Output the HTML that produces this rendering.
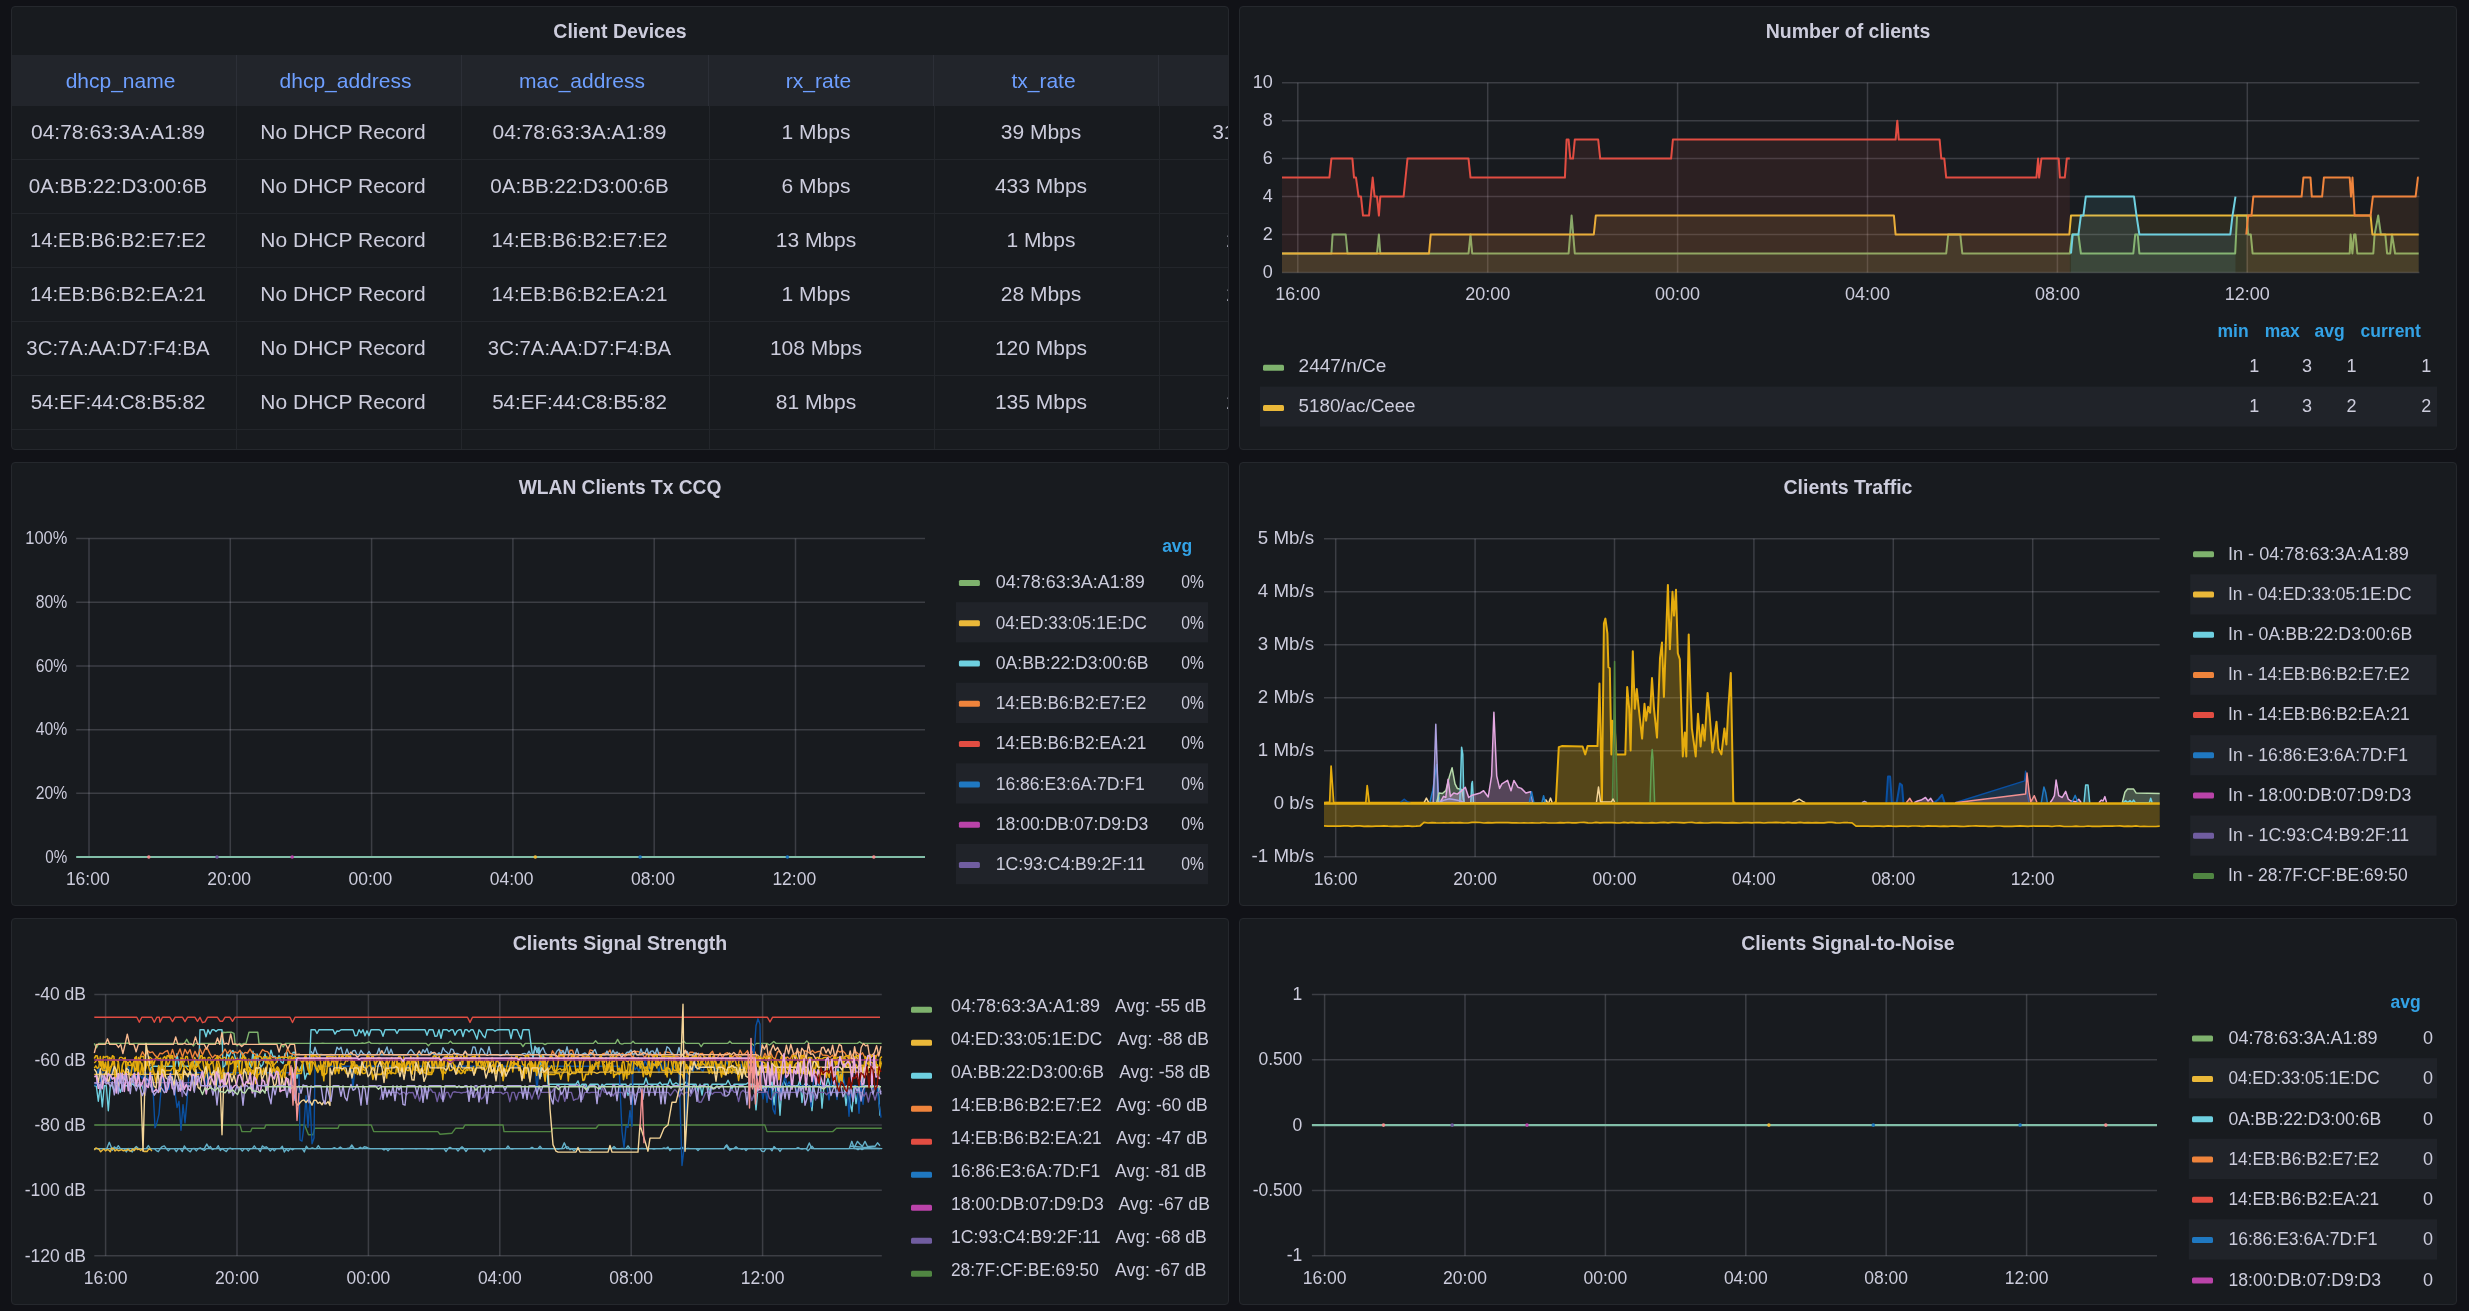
<!DOCTYPE html>
<html><head><meta charset="utf-8"><title>Grafana - Clients</title>
<style>
html,body{margin:0;padding:0;background:#111217;width:2469px;height:1311px;overflow:hidden}
body{position:relative;font-family:"Liberation Sans",sans-serif;color:#ccccdc}
.p{position:absolute;background:#181b1f;border:1px solid #25282d;border-radius:4px}
svg{position:absolute;left:0;top:0;will-change:transform}
svg text{font-family:"Liberation Sans",sans-serif}
</style></head><body>
<div class="p" style="left:11px;top:6px;width:1216px;height:442px"></div><div class="p" style="left:1239px;top:6px;width:1216px;height:442px"></div><div class="p" style="left:11px;top:462px;width:1216px;height:442px"></div><div class="p" style="left:1239px;top:462px;width:1216px;height:442px"></div><div class="p" style="left:11px;top:918px;width:1216px;height:385px"></div><div class="p" style="left:1239px;top:918px;width:1216px;height:385px"></div>
<svg width="2469" height="1311" viewBox="0 0 2469 1311">
<text x="620.0" y="38.2" font-size="19.5" fill="#ccccdc" text-anchor="middle" font-weight="bold">Client Devices</text>
<rect x="12.0" y="55.0" width="1216.0" height="51.0" fill="#22252b"/>
<rect x="236.0" y="55.0" width="1.0" height="51.0" fill="#2c2f37"/>
<rect x="461.0" y="55.0" width="1.0" height="51.0" fill="#2c2f37"/>
<rect x="708.0" y="55.0" width="1.0" height="51.0" fill="#2c2f37"/>
<rect x="933.0" y="55.0" width="1.0" height="51.0" fill="#2c2f37"/>
<rect x="1158.0" y="55.0" width="1.0" height="51.0" fill="#2c2f37"/>
<rect x="236.0" y="106.0" width="1.0" height="343.0" fill="#23262b"/>
<rect x="461.0" y="106.0" width="1.0" height="343.0" fill="#23262b"/>
<rect x="709.0" y="106.0" width="1.0" height="343.0" fill="#23262b"/>
<rect x="934.0" y="106.0" width="1.0" height="343.0" fill="#23262b"/>
<rect x="1159.0" y="106.0" width="1.0" height="343.0" fill="#23262b"/>
<rect x="12.0" y="159.0" width="1216.0" height="1.0" fill="#23262b"/>
<rect x="12.0" y="213.0" width="1216.0" height="1.0" fill="#23262b"/>
<rect x="12.0" y="267.0" width="1216.0" height="1.0" fill="#23262b"/>
<rect x="12.0" y="321.0" width="1216.0" height="1.0" fill="#23262b"/>
<rect x="12.0" y="375.0" width="1216.0" height="1.0" fill="#23262b"/>
<rect x="12.0" y="429.0" width="1216.0" height="1.0" fill="#23262b"/>
<text x="120.5" y="87.8" font-size="21" fill="#6e9fff" text-anchor="middle">dhcp_name</text>
<text x="345.5" y="87.8" font-size="21" fill="#6e9fff" text-anchor="middle">dhcp_address</text>
<text x="582.0" y="87.8" font-size="21" fill="#6e9fff" text-anchor="middle">mac_address</text>
<text x="818.5" y="87.8" font-size="21" fill="#6e9fff" text-anchor="middle">rx_rate</text>
<text x="1043.5" y="87.8" font-size="21" fill="#6e9fff" text-anchor="middle">tx_rate</text>
<text x="118.0" y="138.8" font-size="21" fill="#ccccdc" text-anchor="middle">04:78:63:3A:A1:89</text>
<text x="343.0" y="138.8" font-size="21" fill="#ccccdc" text-anchor="middle">No DHCP Record</text>
<text x="579.5" y="138.8" font-size="21" fill="#ccccdc" text-anchor="middle">04:78:63:3A:A1:89</text>
<text x="816.0" y="138.8" font-size="21" fill="#ccccdc" text-anchor="middle">1 Mbps</text>
<text x="1041.0" y="138.8" font-size="21" fill="#ccccdc" text-anchor="middle">39 Mbps</text>
<text transform="translate(118.0,192.8) scale(0.980,1)" font-size="21" fill="#ccccdc" text-anchor="middle">0A:BB:22:D3:00:6B</text>
<text x="343.0" y="192.8" font-size="21" fill="#ccccdc" text-anchor="middle">No DHCP Record</text>
<text transform="translate(579.5,192.8) scale(0.980,1)" font-size="21" fill="#ccccdc" text-anchor="middle">0A:BB:22:D3:00:6B</text>
<text x="816.0" y="192.8" font-size="21" fill="#ccccdc" text-anchor="middle">6 Mbps</text>
<text x="1041.0" y="192.8" font-size="21" fill="#ccccdc" text-anchor="middle">433 Mbps</text>
<text transform="translate(118.0,246.8) scale(0.960,1)" font-size="21" fill="#ccccdc" text-anchor="middle">14:EB:B6:B2:E7:E2</text>
<text x="343.0" y="246.8" font-size="21" fill="#ccccdc" text-anchor="middle">No DHCP Record</text>
<text transform="translate(579.5,246.8) scale(0.960,1)" font-size="21" fill="#ccccdc" text-anchor="middle">14:EB:B6:B2:E7:E2</text>
<text x="816.0" y="246.8" font-size="21" fill="#ccccdc" text-anchor="middle">13 Mbps</text>
<text x="1041.0" y="246.8" font-size="21" fill="#ccccdc" text-anchor="middle">1 Mbps</text>
<text transform="translate(118.0,300.8) scale(0.960,1)" font-size="21" fill="#ccccdc" text-anchor="middle">14:EB:B6:B2:EA:21</text>
<text x="343.0" y="300.8" font-size="21" fill="#ccccdc" text-anchor="middle">No DHCP Record</text>
<text transform="translate(579.5,300.8) scale(0.960,1)" font-size="21" fill="#ccccdc" text-anchor="middle">14:EB:B6:B2:EA:21</text>
<text x="816.0" y="300.8" font-size="21" fill="#ccccdc" text-anchor="middle">1 Mbps</text>
<text x="1041.0" y="300.8" font-size="21" fill="#ccccdc" text-anchor="middle">28 Mbps</text>
<text transform="translate(118.0,354.8) scale(0.970,1)" font-size="21" fill="#ccccdc" text-anchor="middle">3C:7A:AA:D7:F4:BA</text>
<text x="343.0" y="354.8" font-size="21" fill="#ccccdc" text-anchor="middle">No DHCP Record</text>
<text transform="translate(579.5,354.8) scale(0.970,1)" font-size="21" fill="#ccccdc" text-anchor="middle">3C:7A:AA:D7:F4:BA</text>
<text x="816.0" y="354.8" font-size="21" fill="#ccccdc" text-anchor="middle">108 Mbps</text>
<text x="1041.0" y="354.8" font-size="21" fill="#ccccdc" text-anchor="middle">120 Mbps</text>
<text transform="translate(118.0,408.8) scale(0.978,1)" font-size="21" fill="#ccccdc" text-anchor="middle">54:EF:44:C8:B5:82</text>
<text x="343.0" y="408.8" font-size="21" fill="#ccccdc" text-anchor="middle">No DHCP Record</text>
<text transform="translate(579.5,408.8) scale(0.978,1)" font-size="21" fill="#ccccdc" text-anchor="middle">54:EF:44:C8:B5:82</text>
<text x="816.0" y="408.8" font-size="21" fill="#ccccdc" text-anchor="middle">81 Mbps</text>
<text x="1041.0" y="408.8" font-size="21" fill="#ccccdc" text-anchor="middle">135 Mbps</text>
<clipPath id="c6"><rect x="1160" y="106" width="68" height="343"/></clipPath><g clip-path="url(#c6)">
<text x="1212.2" y="138.8" font-size="21" fill="#ccccdc">311 Mbps</text>
<text x="1226.3" y="246.8" font-size="21" fill="#ccccdc">2 Mbps</text>
<text x="1226.3" y="300.8" font-size="21" fill="#ccccdc">2 Mbps</text>
<text x="1226.3" y="408.8" font-size="21" fill="#ccccdc">2 Mbps</text>
</g>
<text x="1848.0" y="38.2" font-size="19.5" fill="#ccccdc" text-anchor="middle" font-weight="bold">Number of clients</text>
<line x1="1282.00" y1="272.50" x2="2419.40" y2="272.50" stroke="rgba(204,204,220,0.2)" stroke-width="1.5"/>
<text x="1272.7" y="278.0" font-size="18" fill="#ccccdc" text-anchor="end">0</text>
<line x1="1282.00" y1="234.54" x2="2419.40" y2="234.54" stroke="rgba(204,204,220,0.2)" stroke-width="1.5"/>
<text x="1272.7" y="240.0" font-size="18" fill="#ccccdc" text-anchor="end">2</text>
<line x1="1282.00" y1="196.58" x2="2419.40" y2="196.58" stroke="rgba(204,204,220,0.2)" stroke-width="1.5"/>
<text x="1272.7" y="202.1" font-size="18" fill="#ccccdc" text-anchor="end">4</text>
<line x1="1282.00" y1="158.62" x2="2419.40" y2="158.62" stroke="rgba(204,204,220,0.2)" stroke-width="1.5"/>
<text x="1272.7" y="164.1" font-size="18" fill="#ccccdc" text-anchor="end">6</text>
<line x1="1282.00" y1="120.66" x2="2419.40" y2="120.66" stroke="rgba(204,204,220,0.2)" stroke-width="1.5"/>
<text x="1272.7" y="126.2" font-size="18" fill="#ccccdc" text-anchor="end">8</text>
<line x1="1282.00" y1="82.70" x2="2419.40" y2="82.70" stroke="rgba(204,204,220,0.2)" stroke-width="1.5"/>
<text x="1272.7" y="88.2" font-size="18" fill="#ccccdc" text-anchor="end">10</text>
<line x1="1297.80" y1="82.70" x2="1297.80" y2="272.50" stroke="rgba(204,204,220,0.2)" stroke-width="1.5"/>
<text x="1297.8" y="299.7" font-size="18" fill="#ccccdc" text-anchor="middle">16:00</text>
<line x1="1487.70" y1="82.70" x2="1487.70" y2="272.50" stroke="rgba(204,204,220,0.2)" stroke-width="1.5"/>
<text x="1487.7" y="299.7" font-size="18" fill="#ccccdc" text-anchor="middle">20:00</text>
<line x1="1677.60" y1="82.70" x2="1677.60" y2="272.50" stroke="rgba(204,204,220,0.2)" stroke-width="1.5"/>
<text x="1677.6" y="299.7" font-size="18" fill="#ccccdc" text-anchor="middle">00:00</text>
<line x1="1867.50" y1="82.70" x2="1867.50" y2="272.50" stroke="rgba(204,204,220,0.2)" stroke-width="1.5"/>
<text x="1867.5" y="299.7" font-size="18" fill="#ccccdc" text-anchor="middle">04:00</text>
<line x1="2057.40" y1="82.70" x2="2057.40" y2="272.50" stroke="rgba(204,204,220,0.2)" stroke-width="1.5"/>
<text x="2057.4" y="299.7" font-size="18" fill="#ccccdc" text-anchor="middle">08:00</text>
<line x1="2247.30" y1="82.70" x2="2247.30" y2="272.50" stroke="rgba(204,204,220,0.2)" stroke-width="1.5"/>
<text x="2247.3" y="299.7" font-size="18" fill="#ccccdc" text-anchor="middle">12:00</text>
<polygon points="1282.0,272.5 1282.0,253.5 1331.4,253.5 1332.6,234.5 1345.7,234.5 1347.5,253.5 1377.0,253.5 1378.9,234.5 1380.3,253.5 1468.5,253.5 1470.5,234.5 1472.2,253.5 1568.6,253.5 1571.6,215.6 1574.8,253.5 1946.2,253.5 1948.2,234.5 1960.3,234.5 1962.3,253.5 2069.8,253.5 2072.2,234.5 2078.4,234.5 2080.9,253.5 2133.3,253.5 2135.2,234.5 2137.7,234.5 2139.4,253.5 2235.2,253.5 2237.0,215.6 2246.8,215.6 2248.1,234.5 2250.8,234.5 2252.6,253.5 2349.7,253.5 2350.6,234.5 2352.4,253.5 2354.1,234.5 2355.5,234.5 2357.3,253.5 2373.3,253.5 2374.6,234.5 2378.2,215.6 2380.9,234.5 2385.3,234.5 2387.1,253.5 2390.2,253.5 2392.0,234.5 2395.1,253.5 2418.7,253.5 2418.7,272.5" fill="#7EB26D" fill-opacity="0.1"/>
<polyline points="1282.0,253.5 1331.4,253.5 1332.6,234.5 1345.7,234.5 1347.5,253.5 1377.0,253.5 1378.9,234.5 1380.3,253.5 1468.5,253.5 1470.5,234.5 1472.2,253.5 1568.6,253.5 1571.6,215.6 1574.8,253.5 1946.2,253.5 1948.2,234.5 1960.3,234.5 1962.3,253.5 2069.8,253.5 2072.2,234.5 2078.4,234.5 2080.9,253.5 2133.3,253.5 2135.2,234.5 2137.7,234.5 2139.4,253.5 2235.2,253.5 2237.0,215.6 2246.8,215.6 2248.1,234.5 2250.8,234.5 2252.6,253.5 2349.7,253.5 2350.6,234.5 2352.4,253.5 2354.1,234.5 2355.5,234.5 2357.3,253.5 2373.3,253.5 2374.6,234.5 2378.2,215.6 2380.9,234.5 2385.3,234.5 2387.1,253.5 2390.2,253.5 2392.0,234.5 2395.1,253.5 2418.7,253.5" fill="none" stroke="#7EB26D" stroke-width="2" stroke-linejoin="round"/>
<polygon points="1282.0,272.5 1282.0,253.5 1429.0,253.5 1430.7,234.5 1593.8,234.5 1595.8,215.6 1893.9,215.6 1895.6,234.5 2069.3,234.5 2071.0,215.6 2370.6,215.6 2372.4,234.5 2418.7,234.5 2418.7,272.5" fill="#EAB839" fill-opacity="0.1"/>
<polyline points="1282.0,253.5 1429.0,253.5 1430.7,234.5 1593.8,234.5 1595.8,215.6 1893.9,215.6 1895.6,234.5 2069.3,234.5 2071.0,215.6 2370.6,215.6 2372.4,234.5 2418.7,234.5" fill="none" stroke="#EAB839" stroke-width="2" stroke-linejoin="round"/>
<polygon points="2071.0,272.5 2071.0,253.5 2072.7,234.5 2078.4,234.5 2080.9,215.6 2083.4,215.6 2085.8,196.6 2134.0,196.6 2136.5,215.6 2139.4,234.5 2230.3,234.5 2232.5,215.6 2235.5,196.6 2235.5,272.5" fill="#6ED0E0" fill-opacity="0.1"/>
<polyline points="2071.0,253.5 2072.7,234.5 2078.4,234.5 2080.9,215.6 2083.4,215.6 2085.8,196.6 2134.0,196.6 2136.5,215.6 2139.4,234.5 2230.3,234.5 2232.5,215.6 2235.5,196.6" fill="none" stroke="#6ED0E0" stroke-width="2" stroke-linejoin="round"/>
<polygon points="2246.3,272.5 2246.3,234.5 2248.1,215.6 2251.5,215.6 2253.3,196.6 2301.6,196.6 2303.4,177.6 2310.5,177.6 2311.8,196.6 2322.1,196.6 2323.9,177.6 2349.7,177.6 2351.0,196.6 2352.5,177.6 2354.6,215.6 2370.6,215.6 2372.9,196.6 2415.6,196.6 2417.9,177.6 2418.7,177.6 2418.7,272.5" fill="#EF843C" fill-opacity="0.1"/>
<polyline points="2246.3,234.5 2248.1,215.6 2251.5,215.6 2253.3,196.6 2301.6,196.6 2303.4,177.6 2310.5,177.6 2311.8,196.6 2322.1,196.6 2323.9,177.6 2349.7,177.6 2351.0,196.6 2352.5,177.6 2354.6,215.6 2370.6,215.6 2372.9,196.6 2415.6,196.6 2417.9,177.6 2418.7,177.6" fill="none" stroke="#EF843C" stroke-width="2" stroke-linejoin="round"/>
<polygon points="1282.0,272.5 1282.0,177.6 1329.4,177.6 1331.4,158.6 1352.4,158.6 1354.0,177.6 1356.0,177.6 1358.6,196.6 1361.0,196.6 1363.0,215.6 1369.0,215.6 1372.7,177.6 1374.6,196.6 1377.0,196.6 1378.9,215.6 1380.3,196.6 1403.6,196.6 1407.5,158.6 1468.5,158.6 1470.5,177.6 1564.9,177.6 1566.6,139.6 1568.6,139.6 1570.3,158.6 1573.0,158.6 1574.8,139.6 1598.2,139.6 1600.2,158.6 1671.1,158.6 1672.9,139.6 1895.6,139.6 1897.3,120.7 1898.8,139.6 1939.6,139.6 1941.3,158.6 1944.3,158.6 1946.2,177.6 2036.4,177.6 2038.1,158.6 2039.1,177.6 2041.4,158.6 2058.7,158.6 2059.9,177.6 2064.8,177.6 2066.8,158.6 2069.8,158.6 2069.8,272.5" fill="#E24D42" fill-opacity="0.1"/>
<polyline points="1282.0,177.6 1329.4,177.6 1331.4,158.6 1352.4,158.6 1354.0,177.6 1356.0,177.6 1358.6,196.6 1361.0,196.6 1363.0,215.6 1369.0,215.6 1372.7,177.6 1374.6,196.6 1377.0,196.6 1378.9,215.6 1380.3,196.6 1403.6,196.6 1407.5,158.6 1468.5,158.6 1470.5,177.6 1564.9,177.6 1566.6,139.6 1568.6,139.6 1570.3,158.6 1573.0,158.6 1574.8,139.6 1598.2,139.6 1600.2,158.6 1671.1,158.6 1672.9,139.6 1895.6,139.6 1897.3,120.7 1898.8,139.6 1939.6,139.6 1941.3,158.6 1944.3,158.6 1946.2,177.6 2036.4,177.6 2038.1,158.6 2039.1,177.6 2041.4,158.6 2058.7,158.6 2059.9,177.6 2064.8,177.6 2066.8,158.6 2069.8,158.6" fill="none" stroke="#E24D42" stroke-width="2" stroke-linejoin="round"/>
<text x="2248.6" y="336.6" font-size="17.5" fill="#33a2e5" text-anchor="end" font-weight="bold">min</text>
<text x="2299.8" y="336.6" font-size="17.5" fill="#33a2e5" text-anchor="end" font-weight="bold">max</text>
<text x="2344.6" y="336.6" font-size="17.5" fill="#33a2e5" text-anchor="end" font-weight="bold">avg</text>
<text x="2420.9" y="336.6" font-size="17.5" fill="#33a2e5" text-anchor="end" font-weight="bold">current</text>
<rect x="1260.0" y="386.6" width="1177.0" height="40.0" fill="#202329"/>
<rect x="1263.0" y="364.8" width="21.0" height="6.0" fill="#7EB26D" rx="1.5"/>
<text transform="translate(1298.6,371.8) scale(1.012,1)" font-size="18.8" fill="#ccccdc">2447/n/Ce</text>
<text x="2259.3" y="371.8" font-size="18" fill="#ccccdc" text-anchor="end">1</text>
<text x="2312.0" y="371.8" font-size="18" fill="#ccccdc" text-anchor="end">3</text>
<text x="2356.6" y="371.8" font-size="18" fill="#ccccdc" text-anchor="end">1</text>
<text x="2431.3" y="371.8" font-size="18" fill="#ccccdc" text-anchor="end">1</text>
<rect x="1263.0" y="405.0" width="21.0" height="6.0" fill="#EAB839" rx="1.5"/>
<text x="1298.6" y="412.0" font-size="18.8" fill="#ccccdc">5180/ac/Ceee</text>
<text x="2259.3" y="412.0" font-size="18" fill="#ccccdc" text-anchor="end">1</text>
<text x="2312.0" y="412.0" font-size="18" fill="#ccccdc" text-anchor="end">3</text>
<text x="2356.6" y="412.0" font-size="18" fill="#ccccdc" text-anchor="end">2</text>
<text x="2431.3" y="412.0" font-size="18" fill="#ccccdc" text-anchor="end">2</text>
<text transform="translate(620.0,494.2) scale(0.985,1)" font-size="19.5" fill="#ccccdc" text-anchor="middle" font-weight="bold">WLAN Clients Tx CCQ</text>
<line x1="76.20" y1="857.00" x2="925.00" y2="857.00" stroke="rgba(204,204,220,0.2)" stroke-width="1.5"/>
<text transform="translate(67.3,862.5) scale(0.870,1)" font-size="17.5" fill="#ccccdc" text-anchor="end">0%</text>
<line x1="76.20" y1="793.32" x2="925.00" y2="793.32" stroke="rgba(204,204,220,0.2)" stroke-width="1.5"/>
<text transform="translate(67.3,798.8) scale(0.900,1)" font-size="17.5" fill="#ccccdc" text-anchor="end">20%</text>
<line x1="76.20" y1="729.64" x2="925.00" y2="729.64" stroke="rgba(204,204,220,0.2)" stroke-width="1.5"/>
<text transform="translate(67.3,735.1) scale(0.900,1)" font-size="17.5" fill="#ccccdc" text-anchor="end">40%</text>
<line x1="76.20" y1="665.96" x2="925.00" y2="665.96" stroke="rgba(204,204,220,0.2)" stroke-width="1.5"/>
<text transform="translate(67.3,671.5) scale(0.900,1)" font-size="17.5" fill="#ccccdc" text-anchor="end">60%</text>
<line x1="76.20" y1="602.28" x2="925.00" y2="602.28" stroke="rgba(204,204,220,0.2)" stroke-width="1.5"/>
<text transform="translate(67.3,607.8) scale(0.900,1)" font-size="17.5" fill="#ccccdc" text-anchor="end">80%</text>
<line x1="76.20" y1="538.60" x2="925.00" y2="538.60" stroke="rgba(204,204,220,0.2)" stroke-width="1.5"/>
<text transform="translate(67.3,544.1) scale(0.940,1)" font-size="17.5" fill="#ccccdc" text-anchor="end">100%</text>
<line x1="89.00" y1="538.60" x2="89.00" y2="857.00" stroke="rgba(204,204,220,0.2)" stroke-width="1.5"/>
<text x="87.8" y="885.0" font-size="17.5" fill="#ccccdc" text-anchor="middle">16:00</text>
<line x1="230.30" y1="538.60" x2="230.30" y2="857.00" stroke="rgba(204,204,220,0.2)" stroke-width="1.5"/>
<text x="229.1" y="885.0" font-size="17.5" fill="#ccccdc" text-anchor="middle">20:00</text>
<line x1="371.60" y1="538.60" x2="371.60" y2="857.00" stroke="rgba(204,204,220,0.2)" stroke-width="1.5"/>
<text x="370.4" y="885.0" font-size="17.5" fill="#ccccdc" text-anchor="middle">00:00</text>
<line x1="512.90" y1="538.60" x2="512.90" y2="857.00" stroke="rgba(204,204,220,0.2)" stroke-width="1.5"/>
<text x="511.7" y="885.0" font-size="17.5" fill="#ccccdc" text-anchor="middle">04:00</text>
<line x1="654.20" y1="538.60" x2="654.20" y2="857.00" stroke="rgba(204,204,220,0.2)" stroke-width="1.5"/>
<text x="653.0" y="885.0" font-size="17.5" fill="#ccccdc" text-anchor="middle">08:00</text>
<line x1="795.50" y1="538.60" x2="795.50" y2="857.00" stroke="rgba(204,204,220,0.2)" stroke-width="1.5"/>
<text x="794.3" y="885.0" font-size="17.5" fill="#ccccdc" text-anchor="middle">12:00</text>
<line x1="76.20" y1="857.00" x2="925.00" y2="857.00" stroke="#82bea8" stroke-width="2.2"/>
<circle cx="148.8" cy="857.0" r="1.8" fill="#F29191"/>
<circle cx="217" cy="857.0" r="1.8" fill="#705DA0"/>
<circle cx="292.2" cy="857.0" r="1.8" fill="#BA43A9"/>
<circle cx="535.3" cy="857.0" r="1.8" fill="#EAB839"/>
<circle cx="640.1" cy="857.0" r="1.8" fill="#1F78C1"/>
<circle cx="787.4" cy="857.0" r="1.8" fill="#1F78C1"/>
<circle cx="873.8" cy="857.0" r="1.8" fill="#F29191"/>
<text x="1192.3" y="551.9" font-size="17.5" fill="#33a2e5" text-anchor="end" font-weight="bold">avg</text>
<rect x="958.9" y="579.9" width="21.0" height="6.0" fill="#7EB26D" rx="1.5"/>
<text x="995.7" y="588.2" font-size="18" fill="#ccccdc">04:78:63:3A:A1:89</text>
<text transform="translate(1203.9,588.2) scale(0.870,1)" font-size="18" fill="#ccccdc" text-anchor="end">0%</text>
<rect x="956.0" y="602.1" width="252.0" height="40.3" fill="#202329"/>
<rect x="958.9" y="620.2" width="21.0" height="6.0" fill="#EAB839" rx="1.5"/>
<text transform="translate(995.7,628.5) scale(0.957,1)" font-size="18" fill="#ccccdc">04:ED:33:05:1E:DC</text>
<text transform="translate(1203.9,628.5) scale(0.870,1)" font-size="18" fill="#ccccdc" text-anchor="end">0%</text>
<rect x="958.9" y="660.5" width="21.0" height="6.0" fill="#6ED0E0" rx="1.5"/>
<text transform="translate(995.7,668.8) scale(0.980,1)" font-size="18" fill="#ccccdc">0A:BB:22:D3:00:6B</text>
<text transform="translate(1203.9,668.8) scale(0.870,1)" font-size="18" fill="#ccccdc" text-anchor="end">0%</text>
<rect x="956.0" y="682.7" width="252.0" height="40.3" fill="#202329"/>
<rect x="958.9" y="700.8" width="21.0" height="6.0" fill="#EF843C" rx="1.5"/>
<text transform="translate(995.7,709.1) scale(0.960,1)" font-size="18" fill="#ccccdc">14:EB:B6:B2:E7:E2</text>
<text transform="translate(1203.9,709.1) scale(0.870,1)" font-size="18" fill="#ccccdc" text-anchor="end">0%</text>
<rect x="958.9" y="741.1" width="21.0" height="6.0" fill="#E24D42" rx="1.5"/>
<text transform="translate(995.7,749.4) scale(0.960,1)" font-size="18" fill="#ccccdc">14:EB:B6:B2:EA:21</text>
<text transform="translate(1203.9,749.4) scale(0.870,1)" font-size="18" fill="#ccccdc" text-anchor="end">0%</text>
<rect x="956.0" y="763.3" width="252.0" height="40.3" fill="#202329"/>
<rect x="958.9" y="781.4" width="21.0" height="6.0" fill="#1F78C1" rx="1.5"/>
<text transform="translate(995.7,789.7) scale(0.975,1)" font-size="18" fill="#ccccdc">16:86:E3:6A:7D:F1</text>
<text transform="translate(1203.9,789.7) scale(0.870,1)" font-size="18" fill="#ccccdc" text-anchor="end">0%</text>
<rect x="958.9" y="821.7" width="21.0" height="6.0" fill="#BA43A9" rx="1.5"/>
<text transform="translate(995.7,830.0) scale(0.979,1)" font-size="18" fill="#ccccdc">18:00:DB:07:D9:D3</text>
<text transform="translate(1203.9,830.0) scale(0.870,1)" font-size="18" fill="#ccccdc" text-anchor="end">0%</text>
<rect x="956.0" y="843.9" width="252.0" height="40.3" fill="#202329"/>
<rect x="958.9" y="862.0" width="21.0" height="6.0" fill="#705DA0" rx="1.5"/>
<text transform="translate(995.7,870.3) scale(0.980,1)" font-size="18" fill="#ccccdc">1C:93:C4:B9:2F:11</text>
<text transform="translate(1203.9,870.3) scale(0.870,1)" font-size="18" fill="#ccccdc" text-anchor="end">0%</text>
<text x="1848.0" y="494.2" font-size="19.5" fill="#ccccdc" text-anchor="middle" font-weight="bold">Clients Traffic</text>
<line x1="1324.00" y1="856.80" x2="2159.70" y2="856.80" stroke="rgba(204,204,220,0.2)" stroke-width="1.5"/>
<text transform="translate(1314.0,862.3) scale(1.070,1)" font-size="17.5" fill="#ccccdc" text-anchor="end">-1 Mb/s</text>
<line x1="1324.00" y1="803.80" x2="2159.70" y2="803.80" stroke="rgba(204,204,220,0.2)" stroke-width="1.5"/>
<text transform="translate(1314.0,809.3) scale(1.060,1)" font-size="17.5" fill="#ccccdc" text-anchor="end">0 b/s</text>
<line x1="1324.00" y1="750.80" x2="2159.70" y2="750.80" stroke="rgba(204,204,220,0.2)" stroke-width="1.5"/>
<text transform="translate(1314.0,756.3) scale(1.070,1)" font-size="17.5" fill="#ccccdc" text-anchor="end">1 Mb/s</text>
<line x1="1324.00" y1="697.80" x2="2159.70" y2="697.80" stroke="rgba(204,204,220,0.2)" stroke-width="1.5"/>
<text transform="translate(1314.0,703.3) scale(1.070,1)" font-size="17.5" fill="#ccccdc" text-anchor="end">2 Mb/s</text>
<line x1="1324.00" y1="644.80" x2="2159.70" y2="644.80" stroke="rgba(204,204,220,0.2)" stroke-width="1.5"/>
<text transform="translate(1314.0,650.3) scale(1.070,1)" font-size="17.5" fill="#ccccdc" text-anchor="end">3 Mb/s</text>
<line x1="1324.00" y1="591.80" x2="2159.70" y2="591.80" stroke="rgba(204,204,220,0.2)" stroke-width="1.5"/>
<text transform="translate(1314.0,597.3) scale(1.070,1)" font-size="17.5" fill="#ccccdc" text-anchor="end">4 Mb/s</text>
<line x1="1324.00" y1="538.80" x2="2159.70" y2="538.80" stroke="rgba(204,204,220,0.2)" stroke-width="1.5"/>
<text transform="translate(1314.0,544.3) scale(1.070,1)" font-size="17.5" fill="#ccccdc" text-anchor="end">5 Mb/s</text>
<line x1="1335.70" y1="538.80" x2="1335.70" y2="856.80" stroke="rgba(204,204,220,0.2)" stroke-width="1.5"/>
<text x="1335.7" y="885.0" font-size="17.5" fill="#ccccdc" text-anchor="middle">16:00</text>
<line x1="1475.10" y1="538.80" x2="1475.10" y2="856.80" stroke="rgba(204,204,220,0.2)" stroke-width="1.5"/>
<text x="1475.1" y="885.0" font-size="17.5" fill="#ccccdc" text-anchor="middle">20:00</text>
<line x1="1614.50" y1="538.80" x2="1614.50" y2="856.80" stroke="rgba(204,204,220,0.2)" stroke-width="1.5"/>
<text x="1614.5" y="885.0" font-size="17.5" fill="#ccccdc" text-anchor="middle">00:00</text>
<line x1="1753.90" y1="538.80" x2="1753.90" y2="856.80" stroke="rgba(204,204,220,0.2)" stroke-width="1.5"/>
<text x="1753.9" y="885.0" font-size="17.5" fill="#ccccdc" text-anchor="middle">04:00</text>
<line x1="1893.30" y1="538.80" x2="1893.30" y2="856.80" stroke="rgba(204,204,220,0.2)" stroke-width="1.5"/>
<text x="1893.3" y="885.0" font-size="17.5" fill="#ccccdc" text-anchor="middle">08:00</text>
<line x1="2032.70" y1="538.80" x2="2032.70" y2="856.80" stroke="rgba(204,204,220,0.2)" stroke-width="1.5"/>
<text x="2032.7" y="885.0" font-size="17.5" fill="#ccccdc" text-anchor="middle">12:00</text>
<polygon points="1324.0,803.8 1324.0,825.9 1328.0,826.1 1332.0,826.0 1336.0,826.2 1340.0,826.2 1344.0,825.8 1348.0,825.8 1352.0,826.3 1356.0,825.9 1360.0,825.9 1364.0,826.4 1368.0,826.1 1372.0,826.3 1376.0,826.1 1380.0,826.2 1384.0,825.9 1388.0,826.2 1392.0,826.4 1396.0,826.1 1400.0,826.3 1404.0,826.2 1408.0,825.8 1412.0,826.3 1416.0,826.2 1420.0,826.0 1424.0,822.4 1428.0,823.0 1432.0,822.7 1436.0,822.9 1440.0,823.0 1444.0,822.8 1448.0,823.0 1452.0,822.6 1456.0,822.9 1460.0,822.7 1464.0,823.0 1468.0,823.0 1472.0,822.4 1476.0,822.4 1480.0,822.5 1484.0,823.0 1488.0,822.7 1492.0,822.8 1496.0,822.6 1500.0,822.7 1504.0,822.6 1508.0,822.6 1512.0,822.8 1516.0,822.8 1520.0,823.0 1524.0,822.8 1528.0,823.0 1532.0,822.9 1536.0,823.0 1540.0,822.8 1544.0,822.5 1548.0,823.0 1552.0,823.0 1556.0,823.0 1560.0,822.7 1564.0,822.8 1568.0,822.5 1572.0,822.9 1576.0,822.8 1580.0,822.5 1584.0,822.4 1588.0,822.9 1592.0,823.0 1596.0,822.4 1600.0,822.9 1604.0,822.6 1608.0,822.5 1612.0,822.6 1616.0,822.9 1620.0,823.0 1624.0,822.4 1628.0,822.8 1632.0,822.4 1636.0,822.9 1640.0,822.6 1644.0,823.0 1648.0,823.0 1652.0,822.7 1656.0,823.0 1660.0,822.6 1664.0,822.4 1668.0,822.8 1672.0,822.4 1676.0,822.5 1680.0,822.6 1684.0,822.8 1688.0,822.5 1692.0,822.4 1696.0,823.0 1700.0,822.6 1704.0,823.0 1708.0,823.0 1712.0,822.6 1716.0,822.7 1720.0,822.7 1724.0,822.8 1728.0,822.8 1732.0,822.7 1736.0,822.8 1740.0,823.0 1744.0,822.7 1748.0,822.7 1752.0,822.9 1756.0,822.5 1760.0,822.6 1764.0,823.0 1768.0,822.7 1772.0,822.7 1776.0,822.4 1780.0,822.6 1784.0,822.8 1788.0,822.4 1792.0,822.8 1796.0,822.8 1800.0,822.4 1804.0,822.8 1808.0,822.7 1812.0,822.8 1816.0,822.6 1820.0,822.8 1824.0,822.9 1828.0,822.4 1832.0,822.4 1836.0,822.8 1840.0,823.0 1844.0,822.5 1848.0,822.7 1852.0,822.8 1856.0,826.1 1860.0,826.1 1864.0,826.1 1868.0,826.1 1872.0,826.3 1876.0,826.1 1880.0,826.1 1884.0,826.4 1888.0,825.9 1892.0,826.2 1896.0,826.4 1900.0,826.1 1904.0,826.0 1908.0,826.4 1912.0,826.0 1916.0,826.0 1920.0,826.2 1924.0,826.3 1928.0,825.9 1932.0,826.1 1936.0,826.1 1940.0,826.4 1944.0,826.2 1948.0,826.4 1952.0,826.0 1956.0,826.1 1960.0,826.3 1964.0,826.5 1968.0,826.2 1972.0,826.0 1976.0,825.9 1980.0,826.2 1984.0,826.0 1988.0,826.4 1992.0,826.4 1996.0,826.0 2000.0,826.0 2004.0,826.4 2008.0,826.3 2012.0,826.4 2016.0,826.1 2020.0,825.9 2024.0,826.1 2028.0,826.4 2032.0,826.0 2036.0,826.1 2040.0,826.1 2044.0,826.1 2048.0,826.1 2052.0,826.5 2056.0,826.0 2060.0,825.9 2064.0,826.5 2068.0,826.5 2072.0,826.5 2076.0,826.2 2080.0,826.5 2084.0,826.5 2088.0,826.0 2092.0,826.4 2096.0,826.4 2100.0,826.3 2104.0,826.2 2108.0,826.1 2112.0,826.1 2116.0,826.0 2120.0,825.9 2124.0,826.3 2128.0,826.1 2132.0,826.4 2136.0,825.9 2140.0,826.5 2144.0,826.3 2148.0,826.5 2152.0,826.5 2156.0,826.5 2159.7,826.2 2159.7,803.8" fill="#E5AC0E" fill-opacity="0.3"/>
<polyline points="1324.0,825.9 1328.0,826.1 1332.0,826.0 1336.0,826.2 1340.0,826.2 1344.0,825.8 1348.0,825.8 1352.0,826.3 1356.0,825.9 1360.0,825.9 1364.0,826.4 1368.0,826.1 1372.0,826.3 1376.0,826.1 1380.0,826.2 1384.0,825.9 1388.0,826.2 1392.0,826.4 1396.0,826.1 1400.0,826.3 1404.0,826.2 1408.0,825.8 1412.0,826.3 1416.0,826.2 1420.0,826.0 1424.0,822.4 1428.0,823.0 1432.0,822.7 1436.0,822.9 1440.0,823.0 1444.0,822.8 1448.0,823.0 1452.0,822.6 1456.0,822.9 1460.0,822.7 1464.0,823.0 1468.0,823.0 1472.0,822.4 1476.0,822.4 1480.0,822.5 1484.0,823.0 1488.0,822.7 1492.0,822.8 1496.0,822.6 1500.0,822.7 1504.0,822.6 1508.0,822.6 1512.0,822.8 1516.0,822.8 1520.0,823.0 1524.0,822.8 1528.0,823.0 1532.0,822.9 1536.0,823.0 1540.0,822.8 1544.0,822.5 1548.0,823.0 1552.0,823.0 1556.0,823.0 1560.0,822.7 1564.0,822.8 1568.0,822.5 1572.0,822.9 1576.0,822.8 1580.0,822.5 1584.0,822.4 1588.0,822.9 1592.0,823.0 1596.0,822.4 1600.0,822.9 1604.0,822.6 1608.0,822.5 1612.0,822.6 1616.0,822.9 1620.0,823.0 1624.0,822.4 1628.0,822.8 1632.0,822.4 1636.0,822.9 1640.0,822.6 1644.0,823.0 1648.0,823.0 1652.0,822.7 1656.0,823.0 1660.0,822.6 1664.0,822.4 1668.0,822.8 1672.0,822.4 1676.0,822.5 1680.0,822.6 1684.0,822.8 1688.0,822.5 1692.0,822.4 1696.0,823.0 1700.0,822.6 1704.0,823.0 1708.0,823.0 1712.0,822.6 1716.0,822.7 1720.0,822.7 1724.0,822.8 1728.0,822.8 1732.0,822.7 1736.0,822.8 1740.0,823.0 1744.0,822.7 1748.0,822.7 1752.0,822.9 1756.0,822.5 1760.0,822.6 1764.0,823.0 1768.0,822.7 1772.0,822.7 1776.0,822.4 1780.0,822.6 1784.0,822.8 1788.0,822.4 1792.0,822.8 1796.0,822.8 1800.0,822.4 1804.0,822.8 1808.0,822.7 1812.0,822.8 1816.0,822.6 1820.0,822.8 1824.0,822.9 1828.0,822.4 1832.0,822.4 1836.0,822.8 1840.0,823.0 1844.0,822.5 1848.0,822.7 1852.0,822.8 1856.0,826.1 1860.0,826.1 1864.0,826.1 1868.0,826.1 1872.0,826.3 1876.0,826.1 1880.0,826.1 1884.0,826.4 1888.0,825.9 1892.0,826.2 1896.0,826.4 1900.0,826.1 1904.0,826.0 1908.0,826.4 1912.0,826.0 1916.0,826.0 1920.0,826.2 1924.0,826.3 1928.0,825.9 1932.0,826.1 1936.0,826.1 1940.0,826.4 1944.0,826.2 1948.0,826.4 1952.0,826.0 1956.0,826.1 1960.0,826.3 1964.0,826.5 1968.0,826.2 1972.0,826.0 1976.0,825.9 1980.0,826.2 1984.0,826.0 1988.0,826.4 1992.0,826.4 1996.0,826.0 2000.0,826.0 2004.0,826.4 2008.0,826.3 2012.0,826.4 2016.0,826.1 2020.0,825.9 2024.0,826.1 2028.0,826.4 2032.0,826.0 2036.0,826.1 2040.0,826.1 2044.0,826.1 2048.0,826.1 2052.0,826.5 2056.0,826.0 2060.0,825.9 2064.0,826.5 2068.0,826.5 2072.0,826.5 2076.0,826.2 2080.0,826.5 2084.0,826.5 2088.0,826.0 2092.0,826.4 2096.0,826.4 2100.0,826.3 2104.0,826.2 2108.0,826.1 2112.0,826.1 2116.0,826.0 2120.0,825.9 2124.0,826.3 2128.0,826.1 2132.0,826.4 2136.0,825.9 2140.0,826.5 2144.0,826.3 2148.0,826.5 2152.0,826.5 2156.0,826.5 2159.7,826.2" fill="none" stroke="#E5AC0E" stroke-width="1.7" stroke-linejoin="round"/>
<polygon points="1324.0,803.8 1324.0,802.7 1329.7,802.1 1331.1,766.1 1333.7,802.7 1365.8,802.7 1367.2,785.5 1369.2,802.7 1434.4,802.7 1434.4,803.8" fill="#E5AC0E" fill-opacity="0.3"/>
<polyline points="1324.0,802.7 1329.7,802.1 1331.1,766.1 1333.7,802.7 1365.8,802.7 1367.2,785.5 1369.2,802.7 1434.4,802.7" fill="none" stroke="#E5AC0E" stroke-width="1.7" stroke-linejoin="round"/>
<polygon points="1400.1,803.8 1400.1,802.7 1404.1,799.2 1406.9,801.5 1410.4,802.7 1410.4,803.8" fill="#0A50A1" fill-opacity="0.3"/>
<polyline points="1400.1,802.7 1404.1,799.2 1406.9,801.5 1410.4,802.7" fill="none" stroke="#0A50A1" stroke-width="1.5" stroke-linejoin="round"/>
<polygon points="1429.8,803.8 1429.8,802.7 1432.7,790.7 1436.7,764.4 1438.4,793.0 1440.1,802.7 1440.1,803.8" fill="#1F78C1" fill-opacity="0.3"/>
<polyline points="1429.8,802.7 1432.7,790.7 1436.7,764.4 1438.4,793.0 1440.1,802.7" fill="none" stroke="#1F78C1" stroke-width="1.5" stroke-linejoin="round"/>
<polygon points="1433.2,803.8 1433.2,802.7 1434.4,770.1 1435.8,724.3 1437.3,770.1 1438.4,802.7 1438.4,803.8" fill="#AEA2E0" fill-opacity="0.3"/>
<polyline points="1433.2,802.7 1434.4,770.1 1435.8,724.3 1437.3,770.1 1438.4,802.7" fill="none" stroke="#AEA2E0" stroke-width="1.5" stroke-linejoin="round"/>
<polygon points="1436.7,803.8 1436.7,802.7 1439.0,793.0 1442.4,793.5 1445.8,790.7 1449.3,776.9 1452.1,767.8 1455.0,783.8 1457.3,788.4 1461.8,789.5 1464.1,802.7 1464.1,803.8" fill="#B7DBAB" fill-opacity="0.3"/>
<polyline points="1436.7,802.7 1439.0,793.0 1442.4,793.5 1445.8,790.7 1449.3,776.9 1452.1,767.8 1455.0,783.8 1457.3,788.4 1461.8,789.5 1464.1,802.7" fill="none" stroke="#B7DBAB" stroke-width="1.5" stroke-linejoin="round"/>
<polygon points="1459.8,803.8 1459.8,802.7 1460.9,770.1 1461.6,747.2 1462.8,754.1 1463.9,802.7 1463.9,803.8" fill="#6ED0E0" fill-opacity="0.3"/>
<polyline points="1459.8,802.7 1460.9,770.1 1461.6,747.2 1462.8,754.1 1463.9,802.7" fill="none" stroke="#6ED0E0" stroke-width="1.5" stroke-linejoin="round"/>
<polygon points="1470.8,803.8 1470.8,802.7 1471.7,783.8 1472.4,781.5 1473.5,802.7 1473.5,803.8" fill="#6ED0E0" fill-opacity="0.3"/>
<polyline points="1470.8,802.7 1471.7,783.8 1472.4,781.5 1473.5,802.7" fill="none" stroke="#6ED0E0" stroke-width="1.5" stroke-linejoin="round"/>
<polygon points="1440.1,803.8 1440.1,802.7 1443.5,796.4 1445.8,797.5 1448.1,779.2 1450.4,796.4 1453.8,793.0 1457.3,794.1 1461.8,790.7 1465.3,787.2 1468.7,797.5 1472.1,795.2 1480.1,793.0 1483.6,790.7 1488.2,797.0 1491.6,775.8 1493.9,712.3 1496.7,775.8 1499.6,788.4 1501.9,783.8 1507.6,780.4 1511.0,790.7 1513.9,780.4 1517.9,787.2 1521.3,788.4 1525.9,793.0 1530.5,791.8 1532.8,802.7 1532.8,803.8" fill="#E5A8E2" fill-opacity="0.3"/>
<polyline points="1440.1,802.7 1443.5,796.4 1445.8,797.5 1448.1,779.2 1450.4,796.4 1453.8,793.0 1457.3,794.1 1461.8,790.7 1465.3,787.2 1468.7,797.5 1472.1,795.2 1480.1,793.0 1483.6,790.7 1488.2,797.0 1491.6,775.8 1493.9,712.3 1496.7,775.8 1499.6,788.4 1501.9,783.8 1507.6,780.4 1511.0,790.7 1513.9,780.4 1517.9,787.2 1521.3,788.4 1525.9,793.0 1530.5,791.8 1532.8,802.7" fill="none" stroke="#E5A8E2" stroke-width="1.5" stroke-linejoin="round"/>
<polygon points="1439.0,803.8 1439.0,802.7 1443.5,800.4 1449.3,798.7 1455.0,799.8 1460.7,801.0 1464.1,802.7 1464.1,803.8" fill="#AEA2E0" fill-opacity="0.2"/>
<polyline points="1439.0,802.7 1443.5,800.4 1449.3,798.7 1455.0,799.8 1460.7,801.0 1464.1,802.7" fill="none" stroke="#AEA2E0" stroke-width="1.5" stroke-linejoin="round"/>
<polyline points="1424.1,802.7 1426.4,798.1 1428.7,802.7 1544.2,802.7 1545.9,799.8 1547.6,802.7 1548.8,802.7 1550.5,798.1 1552.2,802.7" fill="none" stroke="#F4D598" stroke-width="1.5" stroke-linejoin="round"/>
<polygon points="1529.3,803.8 1529.3,802.7 1531.6,791.8 1533.9,802.7 1541.9,802.7 1543.6,795.8 1545.3,802.7 1545.3,803.8" fill="#1F78C1" fill-opacity="0.3"/>
<polyline points="1529.3,802.7 1531.6,791.8 1533.9,802.7 1541.9,802.7 1543.6,795.8 1545.3,802.7" fill="none" stroke="#1F78C1" stroke-width="1.5" stroke-linejoin="round"/>
<polygon points="1553.9,803.8 1553.9,803.0 1555.9,802.0 1558.8,747.1 1561.8,746.1 1582.6,746.5 1585.2,754.4 1587.6,746.1 1597.5,746.1 1599.5,683.4 1601.9,802.0 1603.9,623.5 1605.4,618.6 1607.4,633.5 1608.4,667.2 1609.8,668.2 1611.4,754.4 1612.4,720.7 1614.4,722.7 1616.3,754.4 1625.3,754.4 1627.2,687.0 1629.2,708.8 1630.6,750.4 1632.8,651.3 1634.8,708.8 1636.8,689.0 1638.8,708.8 1642.1,738.6 1644.5,703.8 1646.1,720.7 1648.1,706.8 1650.1,712.8 1652.0,678.1 1654.0,708.8 1657.0,737.6 1660.0,658.2 1662.0,642.4 1663.9,696.9 1667.9,584.9 1669.9,649.3 1672.5,591.8 1674.0,615.6 1676.0,589.8 1677.8,653.3 1679.8,659.2 1682.8,756.4 1684.8,732.6 1686.3,756.4 1688.7,634.4 1690.7,698.9 1691.9,728.6 1695.7,756.4 1698.0,713.8 1700.6,746.5 1702.6,724.7 1704.6,740.5 1707.6,692.9 1709.5,712.8 1712.5,752.4 1716.5,721.7 1718.5,748.5 1721.4,754.4 1724.4,728.6 1726.4,744.5 1728.4,706.8 1730.8,673.1 1733.3,802.0 1735.3,803.0 1735.3,803.8" fill="#E5AC0E" fill-opacity="0.3"/>
<polyline points="1553.9,803.0 1555.9,802.0 1558.8,747.1 1561.8,746.1 1582.6,746.5 1585.2,754.4 1587.6,746.1 1597.5,746.1 1599.5,683.4 1601.9,802.0 1603.9,623.5 1605.4,618.6 1607.4,633.5 1608.4,667.2 1609.8,668.2 1611.4,754.4 1612.4,720.7 1614.4,722.7 1616.3,754.4 1625.3,754.4 1627.2,687.0 1629.2,708.8 1630.6,750.4 1632.8,651.3 1634.8,708.8 1636.8,689.0 1638.8,708.8 1642.1,738.6 1644.5,703.8 1646.1,720.7 1648.1,706.8 1650.1,712.8 1652.0,678.1 1654.0,708.8 1657.0,737.6 1660.0,658.2 1662.0,642.4 1663.9,696.9 1667.9,584.9 1669.9,649.3 1672.5,591.8 1674.0,615.6 1676.0,589.8 1677.8,653.3 1679.8,659.2 1682.8,756.4 1684.8,732.6 1686.3,756.4 1688.7,634.4 1690.7,698.9 1691.9,728.6 1695.7,756.4 1698.0,713.8 1700.6,746.5 1702.6,724.7 1704.6,740.5 1707.6,692.9 1709.5,712.8 1712.5,752.4 1716.5,721.7 1718.5,748.5 1721.4,754.4 1724.4,728.6 1726.4,744.5 1728.4,706.8 1730.8,673.1 1733.3,802.0 1735.3,803.0" fill="none" stroke="#E5AC0E" stroke-width="2" stroke-linejoin="round"/>
<polygon points="1612.4,803.8 1612.4,802.0 1613.8,728.6 1614.6,661.6 1615.4,728.6 1617.3,802.0 1617.3,803.8" fill="#508642" fill-opacity="0.3"/>
<polyline points="1612.4,802.0 1613.8,728.6 1614.6,661.6 1615.4,728.6 1617.3,802.0" fill="none" stroke="#508642" stroke-width="1.5" stroke-linejoin="round"/>
<polygon points="1650.1,803.8 1650.1,802.0 1651.4,758.4 1652.2,749.5 1653.0,758.4 1654.6,802.0 1654.6,803.8" fill="#508642" fill-opacity="0.3"/>
<polyline points="1650.1,802.0 1651.4,758.4 1652.2,749.5 1653.0,758.4 1654.6,802.0" fill="none" stroke="#629E51" stroke-width="1.5" stroke-linejoin="round"/>
<polyline points="1596.5,802.0 1598.5,787.1 1600.5,802.0 1611.4,802.0 1613.0,799.0 1614.6,802.0" fill="none" stroke="#F4D598" stroke-width="1.5" stroke-linejoin="round"/>
<polyline points="1792.2,802.7 1795.7,801.0 1799.2,799.2 1802.7,801.3 1805.3,802.7" fill="none" stroke="#F4D598" stroke-width="1.5" stroke-linejoin="round"/>
<polyline points="1861.9,802.7 1864.5,801.3 1867.1,802.7" fill="none" stroke="#AEA2E0" stroke-width="1.5" stroke-linejoin="round"/>
<polygon points="1886.3,803.8 1886.3,802.7 1888.0,776.6 1890.1,776.6 1891.9,802.7 1896.7,802.7 1899.9,783.5 1902.0,785.3 1903.4,802.7 1903.4,803.8" fill="#0A50A1" fill-opacity="0.3"/>
<polyline points="1886.3,802.7 1888.0,776.6 1890.1,776.6 1891.9,802.7 1896.7,802.7 1899.9,783.5 1902.0,785.3 1903.4,802.7" fill="none" stroke="#0A50A1" stroke-width="2" stroke-linejoin="round"/>
<polygon points="1906.3,803.8 1906.3,802.7 1909.8,798.3 1912.4,802.7 1912.4,803.8" fill="#F29191" fill-opacity="0.3"/>
<polyline points="1906.3,802.7 1909.8,798.3 1912.4,802.7" fill="none" stroke="#F29191" stroke-width="1.5" stroke-linejoin="round"/>
<polygon points="1914.2,803.8 1914.2,802.7 1917.6,801.0 1921.1,800.1 1925.5,797.5 1928.1,801.0 1930.7,798.3 1933.3,802.7 1933.3,803.8" fill="#E5A8E2" fill-opacity="0.3"/>
<polyline points="1914.2,802.7 1917.6,801.0 1921.1,800.1 1925.5,797.5 1928.1,801.0 1930.7,798.3 1933.3,802.7" fill="none" stroke="#E5A8E2" stroke-width="1.5" stroke-linejoin="round"/>
<polygon points="1934.2,803.8 1934.2,802.7 1938.5,799.2 1942.0,794.9 1944.6,802.7 1944.6,803.8" fill="#0A50A1" fill-opacity="0.3"/>
<polyline points="1934.2,802.7 1938.5,799.2 1942.0,794.9 1944.6,802.7" fill="none" stroke="#0A50A1" stroke-width="2" stroke-linejoin="round"/>
<polygon points="1955.1,803.8 1955.1,802.7 2024.7,780.9 2025.6,771.3 2027.0,792.2 2029.1,802.7 2029.1,803.8" fill="#1F78C1" fill-opacity="0.25"/>
<polyline points="1955.1,802.7 2024.7,780.9 2025.6,771.3 2027.0,792.2 2029.1,802.7" fill="none" stroke="#0A50A1" stroke-width="1.5" stroke-linejoin="round"/>
<polygon points="1955.1,803.8 1955.1,802.7 2025.6,794.0 2027.0,773.1 2029.1,792.2 2030.8,801.8 2034.3,795.7 2036.9,802.3 2036.9,803.8" fill="#F29191" fill-opacity="0.25"/>
<polyline points="1955.1,802.7 2025.6,794.0 2027.0,773.1 2029.1,792.2 2030.8,801.8 2034.3,795.7 2036.9,802.3" fill="none" stroke="#F29191" stroke-width="1.5" stroke-linejoin="round"/>
<polygon points="2041.3,803.8 2041.3,802.7 2043.9,787.0 2045.6,792.2 2047.4,802.7 2047.4,803.8" fill="#1F78C1" fill-opacity="0.3"/>
<polyline points="2041.3,802.7 2043.9,787.0 2045.6,792.2 2047.4,802.7" fill="none" stroke="#1F78C1" stroke-width="1.5" stroke-linejoin="round"/>
<polygon points="2050.0,803.8 2050.0,802.7 2052.6,799.2 2054.4,795.7 2056.1,780.1 2058.7,795.7 2062.2,797.5 2065.7,791.4 2068.3,799.2 2070.9,801.0 2076.1,801.8 2078.7,799.2 2081.3,802.7 2081.3,803.8" fill="#E5A8E2" fill-opacity="0.3"/>
<polyline points="2050.0,802.7 2052.6,799.2 2054.4,795.7 2056.1,780.1 2058.7,795.7 2062.2,797.5 2065.7,791.4 2068.3,799.2 2070.9,801.0 2076.1,801.8 2078.7,799.2 2081.3,802.7" fill="none" stroke="#E5A8E2" stroke-width="1.5" stroke-linejoin="round"/>
<polyline points="2071.8,802.7 2075.2,795.4 2077.9,802.7" fill="none" stroke="#1F78C1" stroke-width="1.5" stroke-linejoin="round"/>
<polygon points="2084.0,803.8 2084.0,802.7 2085.7,784.9 2088.0,784.9 2089.7,802.7 2089.7,803.8" fill="#6ED0E0" fill-opacity="0.3"/>
<polyline points="2084.0,802.7 2085.7,784.9 2088.0,784.9 2089.7,802.7" fill="none" stroke="#6ED0E0" stroke-width="1.5" stroke-linejoin="round"/>
<polyline points="2098.8,802.7 2101.4,800.1 2103.1,801.0 2104.9,796.6 2106.6,802.7" fill="none" stroke="#E5A8E2" stroke-width="1.5" stroke-linejoin="round"/>
<polygon points="2122.3,803.8 2122.3,802.7 2124.9,792.2 2127.5,789.1 2133.6,789.1 2136.2,793.1 2159.7,793.6 2159.7,803.8" fill="#B7DBAB" fill-opacity="0.3"/>
<polyline points="2122.3,802.7 2124.9,792.2 2127.5,789.1 2133.6,789.1 2136.2,793.1 2159.7,793.6" fill="none" stroke="#B7DBAB" stroke-width="1.5" stroke-linejoin="round"/>
<polyline points="2123.1,802.7 2125.8,800.6 2127.5,802.7 2130.1,800.6 2131.8,802.7 2133.6,800.1 2135.3,802.7 2149.3,802.7 2150.7,798.3 2152.1,802.7" fill="none" stroke="#6ED0E0" stroke-width="1.5" stroke-linejoin="round"/>
<polyline points="1324.0,803.5 2159.7,803.5" fill="none" stroke="#E5AC0E" stroke-width="2.5" stroke-linejoin="round"/>
<rect x="2193.0" y="551.3" width="21.0" height="6.0" fill="#7EB26D" rx="1.5"/>
<text transform="translate(2228.0,559.6) scale(1.005,1)" font-size="18" fill="#ccccdc">In - 04:78:63:3A:A1:89</text>
<rect x="2190.2" y="574.3" width="246.4" height="40.2" fill="#202329"/>
<rect x="2193.0" y="591.5" width="21.0" height="6.0" fill="#EAB839" rx="1.5"/>
<text transform="translate(2228.0,599.8) scale(0.972,1)" font-size="18" fill="#ccccdc">In - 04:ED:33:05:1E:DC</text>
<rect x="2193.0" y="631.7" width="21.0" height="6.0" fill="#6ED0E0" rx="1.5"/>
<text transform="translate(2228.0,640.0) scale(0.985,1)" font-size="18" fill="#ccccdc">In - 0A:BB:22:D3:00:6B</text>
<rect x="2190.2" y="654.7" width="246.4" height="40.2" fill="#202329"/>
<rect x="2193.0" y="671.9" width="21.0" height="6.0" fill="#EF843C" rx="1.5"/>
<text transform="translate(2228.0,680.2) scale(0.967,1)" font-size="18" fill="#ccccdc">In - 14:EB:B6:B2:E7:E2</text>
<rect x="2193.0" y="712.1" width="21.0" height="6.0" fill="#E24D42" rx="1.5"/>
<text transform="translate(2228.0,720.4) scale(0.967,1)" font-size="18" fill="#ccccdc">In - 14:EB:B6:B2:EA:21</text>
<rect x="2190.2" y="735.1" width="246.4" height="40.2" fill="#202329"/>
<rect x="2193.0" y="752.3" width="21.0" height="6.0" fill="#1F78C1" rx="1.5"/>
<text transform="translate(2228.0,760.6) scale(0.978,1)" font-size="18" fill="#ccccdc">In - 16:86:E3:6A:7D:F1</text>
<rect x="2193.0" y="792.5" width="21.0" height="6.0" fill="#BA43A9" rx="1.5"/>
<text transform="translate(2228.0,800.8) scale(0.980,1)" font-size="18" fill="#ccccdc">In - 18:00:DB:07:D9:D3</text>
<rect x="2190.2" y="815.5" width="246.4" height="40.2" fill="#202329"/>
<rect x="2193.0" y="832.7" width="21.0" height="6.0" fill="#705DA0" rx="1.5"/>
<text transform="translate(2228.0,841.0) scale(0.986,1)" font-size="18" fill="#ccccdc">In - 1C:93:C4:B9:2F:11</text>
<rect x="2193.0" y="872.9" width="21.0" height="6.0" fill="#508642" rx="1.5"/>
<text transform="translate(2228.0,881.2) scale(0.972,1)" font-size="18" fill="#ccccdc">In - 28:7F:CF:BE:69:50</text>
<text x="620.0" y="950.2" font-size="19.5" fill="#ccccdc" text-anchor="middle" font-weight="bold">Clients Signal Strength</text>
<line x1="94.30" y1="994.40" x2="881.80" y2="994.40" stroke="rgba(204,204,220,0.2)" stroke-width="1.5"/>
<text x="86.0" y="1000.2" font-size="17.5" fill="#ccccdc" text-anchor="end">-40 dB</text>
<line x1="94.30" y1="1059.72" x2="881.80" y2="1059.72" stroke="rgba(204,204,220,0.2)" stroke-width="1.5"/>
<text x="86.0" y="1065.5" font-size="17.5" fill="#ccccdc" text-anchor="end">-60 dB</text>
<line x1="94.30" y1="1125.04" x2="881.80" y2="1125.04" stroke="rgba(204,204,220,0.2)" stroke-width="1.5"/>
<text x="86.0" y="1130.8" font-size="17.5" fill="#ccccdc" text-anchor="end">-80 dB</text>
<line x1="94.30" y1="1190.36" x2="881.80" y2="1190.36" stroke="rgba(204,204,220,0.2)" stroke-width="1.5"/>
<text x="86.0" y="1196.2" font-size="17.5" fill="#ccccdc" text-anchor="end">-100 dB</text>
<line x1="94.30" y1="1255.68" x2="881.80" y2="1255.68" stroke="rgba(204,204,220,0.2)" stroke-width="1.5"/>
<text x="86.0" y="1261.5" font-size="17.5" fill="#ccccdc" text-anchor="end">-120 dB</text>
<line x1="105.60" y1="994.40" x2="105.60" y2="1255.68" stroke="rgba(204,204,220,0.2)" stroke-width="1.5"/>
<text x="105.6" y="1283.5" font-size="17.5" fill="#ccccdc" text-anchor="middle">16:00</text>
<line x1="237.00" y1="994.40" x2="237.00" y2="1255.68" stroke="rgba(204,204,220,0.2)" stroke-width="1.5"/>
<text x="237.0" y="1283.5" font-size="17.5" fill="#ccccdc" text-anchor="middle">20:00</text>
<line x1="368.40" y1="994.40" x2="368.40" y2="1255.68" stroke="rgba(204,204,220,0.2)" stroke-width="1.5"/>
<text x="368.4" y="1283.5" font-size="17.5" fill="#ccccdc" text-anchor="middle">00:00</text>
<line x1="499.80" y1="994.40" x2="499.80" y2="1255.68" stroke="rgba(204,204,220,0.2)" stroke-width="1.5"/>
<text x="499.8" y="1283.5" font-size="17.5" fill="#ccccdc" text-anchor="middle">04:00</text>
<line x1="631.20" y1="994.40" x2="631.20" y2="1255.68" stroke="rgba(204,204,220,0.2)" stroke-width="1.5"/>
<text x="631.2" y="1283.5" font-size="17.5" fill="#ccccdc" text-anchor="middle">08:00</text>
<line x1="762.60" y1="994.40" x2="762.60" y2="1255.68" stroke="rgba(204,204,220,0.2)" stroke-width="1.5"/>
<text x="762.6" y="1283.5" font-size="17.5" fill="#ccccdc" text-anchor="middle">12:00</text>
<polyline points="94.3,1148.6 96.3,1148.6 98.3,1148.6 100.3,1148.6 102.3,1148.6 104.3,1148.6 106.3,1148.8 108.3,1148.6 110.3,1148.6 112.3,1150.2 114.3,1146.9 116.3,1148.6 118.3,1145.7 120.3,1148.6 122.3,1148.6 124.3,1148.6 126.3,1152.0 128.3,1148.6 130.3,1150.9 132.3,1152.0 134.3,1148.6 136.3,1146.6 138.3,1148.6 140.3,1148.6 142.3,1148.6 144.3,1148.6 146.3,1148.6 148.3,1145.6 150.3,1148.6 152.3,1148.6 154.3,1148.6 156.3,1150.6 158.3,1151.7 160.3,1148.6 162.3,1146.6 164.3,1145.9 166.3,1148.6 168.3,1150.8 170.3,1148.6 172.3,1148.6 174.3,1148.6 176.3,1151.7 178.3,1148.6 180.3,1148.6 182.3,1151.6 184.3,1145.9 186.3,1148.6 188.3,1150.5 190.3,1151.8 192.3,1148.6 194.3,1148.5 196.3,1150.9 198.3,1148.6 200.3,1147.9 202.3,1149.4 204.3,1150.4 206.3,1148.6 208.3,1148.6 210.3,1146.4 212.3,1149.6 214.3,1148.6 216.3,1148.6 218.3,1145.7 220.3,1150.5 222.3,1148.6 224.3,1150.2 226.3,1151.6 228.3,1148.6 230.3,1148.2 232.3,1149.2 234.3,1148.6 236.3,1148.6 238.3,1148.6 240.3,1148.6 242.3,1151.1 244.3,1148.6 246.3,1148.6 248.3,1150.9 250.3,1148.6 252.3,1148.6 254.3,1145.9 256.3,1148.6 258.3,1148.6 260.3,1151.5 262.3,1145.9 264.3,1147.5 266.3,1146.8 268.3,1148.6 270.3,1151.0 272.3,1148.6 274.3,1150.7 276.3,1148.6 278.3,1148.6 280.3,1148.6 282.3,1146.2 284.3,1152.0 286.3,1149.2 288.3,1151.0 290.3,1148.4 292.3,1149.8 294.3,1148.6 296.3,1148.6 298.3,1148.6 300.3,1148.6 302.3,1148.6 304.3,1151.9 306.3,1146.2 308.3,1148.6 310.3,1148.6 312.3,1148.0 314.3,1148.6 316.3,1148.6 318.3,1145.6 320.3,1148.6 322.3,1148.6 324.3,1148.6 326.3,1148.6 328.3,1148.6 330.3,1148.6 332.3,1148.6 334.3,1147.7 336.3,1148.6 338.3,1148.6 340.3,1147.0 342.3,1148.6 344.3,1148.6 346.3,1148.6 348.3,1148.3 350.3,1148.6 352.3,1148.0 354.3,1148.6 356.3,1148.6 358.3,1148.6 360.3,1147.3 362.3,1148.6 364.3,1146.7 366.3,1147.2 368.3,1148.2 370.0,1148.6 372.0,1148.6 374.0,1148.6 376.0,1148.6 378.0,1148.6 380.0,1148.6 382.0,1148.6 384.0,1150.0 386.0,1148.6 388.0,1150.8 390.0,1148.6 392.0,1148.6 394.0,1148.6 396.0,1148.6 398.0,1148.6 400.0,1148.6 402.0,1149.1 404.0,1148.6 406.0,1148.6 408.0,1148.6 410.0,1148.6 412.0,1148.6 414.0,1148.6 416.0,1148.7 418.0,1148.6 420.0,1148.6 422.0,1148.6 424.0,1148.6 426.0,1148.6 428.0,1149.0 430.0,1148.6 432.0,1149.3 434.0,1148.6 436.0,1148.6 438.0,1148.6 440.0,1148.6 442.0,1148.6 444.0,1148.6 446.0,1151.6 448.0,1148.6 450.0,1147.4 452.0,1148.6 454.0,1148.6 456.0,1148.6 458.0,1151.0 460.0,1148.6 462.0,1146.7 464.0,1148.6 466.0,1151.5 468.0,1148.6 470.0,1148.6 472.0,1148.6 474.0,1148.6 476.0,1148.6 478.0,1148.6 480.0,1148.6 482.0,1148.9 484.0,1151.8 486.0,1148.6 488.0,1148.6 490.0,1150.1 492.0,1148.6 494.0,1148.6 496.0,1148.6 498.0,1148.6 500.0,1148.6 502.0,1148.6 504.0,1148.6 506.0,1148.6 508.0,1146.0 510.0,1148.6 512.0,1149.0 514.0,1148.6 516.0,1148.6 518.0,1148.6 520.0,1148.6 522.0,1148.6 524.0,1148.6 526.0,1148.6 528.0,1148.6 530.0,1148.6 532.0,1147.3 534.0,1148.6 536.0,1148.6 538.0,1148.6 540.0,1146.2 542.0,1148.6 544.0,1148.6 546.0,1148.6 548.0,1148.6 550.0,1148.6 552.0,1148.6 554.0,1148.6 556.0,1148.6 558.0,1149.1 560.0,1148.6 562.0,1148.6 564.0,1148.6 566.0,1146.8 568.0,1146.9 570.0,1149.7 572.0,1148.6 574.0,1150.9 576.0,1148.6 578.0,1148.6 580.0,1148.6 582.0,1148.6 584.0,1148.6 586.0,1148.6 588.0,1148.6 590.0,1150.4 592.0,1148.6 594.0,1148.6 596.0,1148.6 598.0,1148.6 600.0,1148.6 602.0,1148.6 604.0,1148.6 606.0,1148.6 608.0,1148.6 610.0,1148.6 612.0,1148.6 614.0,1146.5 616.0,1148.6 618.0,1148.6 620.0,1148.6 622.0,1148.5 624.0,1148.6 626.0,1148.6 628.0,1145.8 630.0,1148.6 632.0,1148.6 634.0,1148.6 636.0,1148.6 638.0,1148.6 640.0,1148.6 642.0,1148.5 644.0,1148.6 646.0,1148.6 648.0,1148.6 650.0,1148.6 652.0,1148.6 654.0,1149.1 656.0,1148.6 658.0,1148.6 660.0,1148.6 662.0,1148.6 664.0,1148.0 666.0,1148.6 668.0,1147.0 670.0,1150.6 672.0,1148.6 674.0,1148.6 676.0,1148.6 678.0,1148.6 680.0,1148.6 682.0,1147.3 684.0,1148.7 686.0,1148.6 688.0,1148.5 690.0,1148.6 692.0,1148.6 694.0,1148.6 696.0,1148.6 698.0,1150.6 700.0,1148.6 702.0,1148.6 704.0,1148.6 706.0,1148.6 708.0,1148.6 710.0,1148.6 712.0,1148.6 714.0,1148.6 716.0,1148.6 718.0,1148.6 720.0,1148.6 722.0,1148.6 724.0,1148.6 726.0,1145.6 728.0,1148.6 730.0,1150.3 732.0,1148.6 734.0,1148.6 736.0,1146.7 738.0,1148.6 740.0,1148.6 742.0,1149.3 744.0,1148.6 746.0,1150.6 748.0,1148.6 750.0,1148.6 752.0,1148.6 754.0,1148.7 756.0,1148.6 758.0,1148.6 760.0,1148.6 762.0,1151.4 764.0,1151.6 766.0,1148.6 768.0,1148.6 770.0,1148.6 772.0,1150.7 774.0,1146.6 776.0,1148.6 778.0,1148.6 780.0,1151.4 782.0,1148.6 784.0,1148.6 786.0,1148.6 788.0,1148.6 790.0,1148.6 792.0,1148.6 794.0,1148.6 796.0,1148.6 798.0,1147.5 800.0,1148.6 802.0,1149.0 804.0,1148.6 806.0,1148.6 808.0,1150.8 810.0,1148.6 812.0,1146.3 814.0,1148.6 816.0,1148.6 818.0,1148.6 820.0,1148.6 822.0,1148.6 824.0,1148.6 826.0,1148.6 828.0,1148.6 830.0,1148.6 832.0,1148.6 834.0,1148.6 836.0,1148.6 838.0,1148.6 840.0,1148.6 842.0,1148.6 844.0,1148.6 846.0,1148.6 848.0,1148.6 850.0,1148.6 852.0,1148.6 854.0,1148.6 856.0,1148.6 858.0,1149.7 860.0,1148.6 862.0,1149.6 864.0,1148.6 866.0,1148.6 868.0,1148.6 870.0,1148.6 872.0,1148.6 874.0,1148.6 876.0,1148.6 878.0,1148.6 880.0,1148.6" fill="none" stroke="#64B0C8" stroke-width="1.4" stroke-linejoin="round"/>
<polyline points="94.3,1148.6 96.8,1148.6 99.3,1148.6 101.8,1148.6 104.3,1148.6 106.8,1148.6 109.3,1142.3 111.8,1148.6 114.3,1148.6 116.8,1148.6 119.3,1148.6 121.8,1148.6 124.3,1148.6 126.8,1148.6 129.3,1148.6 131.8,1148.6 134.3,1148.6 136.8,1148.6 139.3,1148.6 141.8,1148.6 144.3,1148.6 146.8,1148.6 149.3,1148.6 151.8,1148.6 154.3,1148.6 156.8,1148.6 159.3,1148.6 161.8,1148.6 164.3,1148.6 166.8,1148.6 169.3,1148.6 171.8,1148.6 174.3,1148.6 176.8,1148.6 179.3,1148.6 181.8,1148.6 184.3,1148.6 186.8,1148.6 189.3,1148.6 191.8,1148.6 194.3,1148.6 196.8,1148.6 199.3,1148.6 201.8,1148.6 204.3,1148.6 206.8,1144.1 209.3,1148.6 211.8,1148.6 214.3,1148.6 216.8,1148.6 219.3,1148.6 221.8,1148.6 224.3,1148.6 226.8,1148.6 229.3,1148.6 231.8,1148.6 234.3,1148.6 236.8,1148.6 239.3,1148.6 241.8,1148.6 244.3,1148.6 246.8,1148.6 249.3,1148.6 251.8,1148.6 254.3,1148.6 256.8,1148.6 259.3,1148.6 261.8,1148.6 264.3,1148.6 266.8,1148.6 269.3,1148.6 271.8,1148.6 274.3,1148.6 276.8,1148.6 279.3,1148.6 281.8,1148.6 284.3,1148.6 286.8,1148.6 289.3,1148.6 291.8,1148.6 294.3,1148.6 296.8,1148.6 299.3,1148.6 301.8,1148.6 304.3,1148.6 306.8,1148.6 309.3,1148.6 311.8,1148.6 314.3,1148.6 316.8,1148.6 319.3,1148.6 321.8,1148.6 324.3,1148.6 326.8,1148.6 329.3,1148.6 331.8,1148.6 334.3,1148.6 336.8,1148.6 339.3,1148.6 341.8,1148.6 344.3,1148.6 346.8,1148.6 349.3,1148.6 351.8,1145.0 354.3,1148.6 356.8,1148.6 359.3,1148.6 361.8,1148.6 364.3,1148.6 366.8,1148.6 369.3,1148.6 371.8,1148.6 374.3,1148.6 376.8,1148.6 379.3,1148.6 381.8,1148.6 384.3,1148.6 386.8,1148.6 389.3,1148.6 391.8,1148.6 394.3,1148.6 396.8,1148.6 399.3,1148.6 401.8,1148.6 404.3,1148.6 406.8,1148.6 409.3,1148.6 411.8,1148.6 414.3,1148.6 416.8,1148.6 419.3,1148.6 421.8,1148.6 424.3,1148.6 426.8,1148.6 429.3,1148.6 431.8,1148.6 434.3,1148.6 436.8,1148.6 439.3,1148.6 441.8,1148.6 444.3,1148.6 446.8,1148.6 449.3,1148.6 451.8,1148.6 454.3,1148.6 456.8,1148.6 459.3,1148.6 461.8,1148.6 464.3,1148.6 466.8,1148.6 469.3,1148.6 471.8,1148.6 474.3,1148.6 476.8,1148.6 479.3,1148.6 481.8,1148.6 484.3,1148.6 486.8,1148.6 489.3,1148.6 491.8,1148.6 494.3,1148.6 496.8,1148.6 499.3,1148.6 501.8,1148.6 504.3,1148.6 506.8,1148.6 509.3,1148.6 511.8,1148.6 514.3,1148.6 516.8,1148.6 519.3,1148.6 521.8,1148.6 524.3,1148.6 526.8,1148.6 529.3,1148.6 531.8,1148.6 534.3,1148.6 536.8,1148.6 539.3,1148.6 541.8,1148.6 544.3,1148.6 546.8,1148.6 549.3,1148.6 551.8,1148.6 554.3,1148.6 556.8,1148.6 559.3,1148.6 561.8,1148.6 564.3,1142.8 566.8,1148.6 569.3,1148.6 571.8,1148.6 574.3,1148.6 576.8,1148.6 579.3,1148.6 581.8,1148.6 584.3,1148.6 586.8,1148.6 589.3,1148.6 591.8,1148.6 594.3,1148.6 596.8,1148.6 599.3,1148.6 601.8,1148.6 604.3,1148.6 606.8,1148.6 609.3,1148.6 611.8,1148.6 614.3,1148.6 616.8,1148.6 619.3,1148.6 621.8,1148.6 624.3,1148.6 626.8,1148.6 629.3,1148.6 631.8,1148.6 634.3,1148.6 636.8,1148.6 639.3,1148.6 641.8,1148.6 644.3,1148.6 646.8,1148.6 649.3,1148.6 651.8,1148.6 654.3,1148.6 656.8,1148.6 659.3,1148.6 661.8,1148.6 664.3,1148.6 666.8,1148.6 669.3,1148.6 671.8,1148.6 674.3,1148.6 676.8,1148.6 679.3,1148.6 681.8,1148.6 684.3,1148.6 686.8,1148.6 689.3,1148.6 691.8,1148.6 694.3,1148.6 696.8,1148.6 699.3,1148.6 701.8,1148.6 704.3,1148.6 706.8,1148.6 709.3,1148.6 711.8,1148.6 714.3,1148.6 716.8,1148.6 719.3,1148.6 721.8,1148.6 724.3,1148.6 726.8,1144.8 729.3,1148.6 731.8,1148.6 734.3,1148.6 736.8,1148.6 739.3,1148.6 741.8,1148.6 744.3,1148.6 746.8,1148.6 749.3,1148.6 751.8,1148.6 754.3,1148.6 756.8,1148.6 759.3,1148.6 761.8,1148.6 764.3,1148.6 766.8,1148.6 769.3,1148.6 771.8,1148.6 774.3,1148.6 776.8,1148.6 779.3,1148.6 781.8,1148.6 784.3,1148.6 786.8,1148.6 789.3,1148.6 791.8,1148.6 794.3,1148.6 796.8,1148.6 799.3,1148.6 801.8,1148.6 804.3,1148.6 806.8,1148.6 809.3,1143.0 811.8,1148.6 814.3,1148.6 816.8,1148.6 819.3,1148.6 821.8,1148.6 824.3,1148.6 826.8,1148.6 829.3,1148.6 831.8,1148.6 834.3,1148.6 836.8,1148.6 839.3,1148.6 841.8,1148.6 844.3,1148.6 846.8,1148.6 849.3,1148.6 851.8,1141.3 854.3,1148.6 856.8,1148.6 859.3,1148.6 861.8,1148.6 864.3,1148.6 866.8,1148.6 869.3,1148.6 871.8,1148.6 874.3,1148.6 876.8,1148.6 879.3,1148.6 881.8,1148.6 850.0,1146.3 852.5,1146.3 855.0,1146.3 857.5,1141.4 860.0,1144.2 862.5,1146.3 865.0,1141.4 867.5,1146.5 870.0,1146.5 872.5,1146.3 875.0,1146.3 877.5,1142.8 880.0,1145.7" fill="none" stroke="#64B0C8" stroke-width="1.4" stroke-linejoin="round"/>
<polyline points="94.3,1150.0 95.9,1148.0 97.5,1148.6 99.1,1149.3 100.7,1151.8 102.3,1150.3 103.9,1149.0 105.5,1150.9 107.1,1149.6 108.7,1150.0 110.3,1151.8 111.9,1147.9 113.5,1148.7 115.1,1151.0 116.7,1149.4 118.3,1150.7 119.9,1150.3 121.5,1149.7 123.1,1150.7 124.7,1150.5 126.3,1150.3 127.9,1149.2 129.5,1150.8 131.1,1151.0 132.7,1149.0 134.3,1150.5 135.9,1148.1 137.5,1149.6 139.1,1149.0 140.7,1150.5 142.3,1148.6 143.9,1151.5 145.5,1151.3 147.1,1151.5 148.7,1149.2 150.3,1149.0 151.9,1151.1" fill="none" stroke="#EAB839" stroke-width="1.4" stroke-linejoin="round"/>
<polyline points="94.3,1125.0 240.0,1125.0 241.9,1131.6 250.7,1131.6 252.0,1128.3 264.5,1128.3 265.8,1125.0 304.6,1125.0 308.5,1134.8 313.0,1134.8 314.7,1128.3 338.0,1128.3 339.2,1125.0 371.2,1125.0 373.7,1131.6 437.9,1131.6 440.0,1134.2 452.0,1133.2 455.5,1128.3 463.0,1128.3 465.0,1125.0 503.0,1125.0 504.0,1131.6 550.8,1131.6 553.0,1128.3 596.0,1128.3 598.6,1125.0 764.8,1125.0 767.0,1131.6 832.7,1131.6 836.5,1128.3 881.8,1128.3" fill="none" stroke="#508642" stroke-width="1.4" stroke-linejoin="round"/>
<polyline points="94.3,1017.3 96.8,1017.3 99.3,1017.3 101.8,1017.3 104.3,1017.3 106.8,1017.3 109.3,1017.3 111.8,1017.3 114.3,1017.3 116.8,1017.3 119.3,1017.3 121.8,1017.3 124.3,1017.3 126.8,1017.3 129.3,1017.3 131.8,1017.3 134.3,1017.3 136.8,1017.3 139.3,1022.2 141.8,1017.3 144.3,1017.3 146.8,1017.3 149.3,1017.3 151.8,1017.3 154.3,1022.3 156.8,1017.3 159.3,1017.3 160.0,1022.2 162.5,1017.3 165.0,1017.3 167.5,1017.3 170.0,1017.3 172.5,1021.6 175.0,1017.3 177.5,1017.3 180.0,1017.3 182.5,1017.3 185.0,1021.6 187.5,1017.3 190.0,1017.3 192.5,1017.3 195.0,1017.3 197.5,1021.3 200.0,1017.3 202.5,1022.7 205.0,1021.9 207.5,1017.3 210.0,1017.3 212.5,1017.3 215.0,1017.3 217.5,1017.3 220.0,1021.2 222.5,1021.3 225.0,1017.3 227.5,1017.3 230.0,1017.3 232.5,1021.3 235.0,1017.3 237.5,1017.3 240.0,1017.3 240.0,1017.3 242.5,1017.3 245.0,1017.3 247.5,1017.3 250.0,1017.3 252.5,1017.3 255.0,1017.3 257.5,1017.3 260.0,1017.3 262.5,1017.3 265.0,1017.3 267.5,1017.3 270.0,1017.3 272.5,1017.3 275.0,1017.3 277.5,1017.3 280.0,1017.3 282.5,1017.3 285.0,1017.3 287.5,1017.3 290.0,1017.3 292.5,1022.5 295.0,1017.3 297.5,1017.3 300.0,1017.3 302.5,1017.3 305.0,1017.3 307.5,1017.3 310.0,1017.3 312.5,1017.3 315.0,1017.3 317.5,1017.3 320.0,1017.3 322.5,1017.3 325.0,1017.3 327.5,1017.3 330.0,1017.3 332.5,1017.3 335.0,1017.3 337.5,1017.3 340.0,1017.3 342.5,1017.3 345.0,1017.3 347.5,1017.3 350.0,1017.3 352.5,1017.3 355.0,1017.3 357.5,1017.3 360.0,1017.3 362.5,1017.3 365.0,1017.3 367.5,1017.3 370.0,1017.3 372.5,1017.3 375.0,1017.3 377.5,1017.3 380.0,1017.3 382.5,1017.3 385.0,1017.3 387.5,1017.3 390.0,1017.3 392.5,1017.3 395.0,1017.3 397.5,1017.3 400.0,1017.3 402.5,1017.3 405.0,1017.3 407.5,1017.3 410.0,1017.3 412.5,1017.3 415.0,1017.3 417.5,1017.3 420.0,1017.3 422.5,1017.3 425.0,1017.3 427.5,1017.3 430.0,1017.3 432.5,1017.3 435.0,1017.3 437.5,1017.3 440.0,1017.3 442.5,1017.3 445.0,1017.3 447.5,1017.3 450.0,1017.3 452.5,1017.3 455.0,1017.3 457.5,1017.3 460.0,1017.3 462.5,1017.3 465.0,1017.3 467.5,1017.3 470.0,1022.4 472.5,1017.3 475.0,1017.3 477.5,1017.3 480.0,1017.3 482.5,1017.3 485.0,1017.3 487.5,1017.3 490.0,1017.3 492.5,1017.3 495.0,1017.3 497.5,1017.3 500.0,1017.3 502.5,1017.3 505.0,1017.3 507.5,1017.3 510.0,1017.3 512.5,1017.3 515.0,1017.3 517.5,1017.3 520.0,1017.3 522.5,1017.3 525.0,1017.3 527.5,1017.3 530.0,1017.3 532.5,1017.3 535.0,1017.3 537.5,1017.3 540.0,1017.3 542.5,1017.3 545.0,1017.3 547.5,1017.3 550.0,1017.3 552.5,1017.3 555.0,1017.3 557.5,1017.3 560.0,1017.3 562.5,1017.3 565.0,1017.3 567.5,1017.3 570.0,1017.3 572.5,1017.3 575.0,1017.3 577.5,1017.3 580.0,1017.3 582.5,1017.3 585.0,1017.3 587.5,1017.3 590.0,1017.3 592.5,1017.3 595.0,1017.3 597.5,1017.3 600.0,1017.3 602.5,1017.3 605.0,1017.3 607.5,1017.3 610.0,1017.3 612.5,1017.3 615.0,1017.3 617.5,1017.3 620.0,1017.3 622.5,1017.3 625.0,1017.3 627.5,1017.3 630.0,1017.3 632.5,1017.3 635.0,1017.3 637.5,1017.3 640.0,1017.3 642.5,1017.3 645.0,1017.3 647.5,1017.3 650.0,1017.3 652.5,1017.3 655.0,1017.3 657.5,1017.3 660.0,1017.3 662.5,1017.3 665.0,1017.3 667.5,1017.3 670.0,1017.3 672.5,1017.3 675.0,1017.3 677.5,1017.3 680.0,1017.3 682.5,1017.3 685.0,1017.3 687.5,1017.3 690.0,1017.3 692.5,1017.3 695.0,1017.3 697.5,1017.3 700.0,1017.3 702.5,1017.3 705.0,1017.3 707.5,1017.3 710.0,1017.3 712.5,1017.3 715.0,1017.3 717.5,1017.3 720.0,1017.3 722.5,1017.3 725.0,1017.3 727.5,1017.3 730.0,1017.3 732.5,1017.3 735.0,1017.3 737.5,1017.3 740.0,1017.3 742.5,1017.3 745.0,1017.3 747.5,1017.3 750.0,1017.3 752.5,1017.3 755.0,1017.3 757.5,1017.3 760.0,1017.3 762.5,1017.3 765.0,1017.3 767.5,1017.3 770.0,1022.0 772.5,1017.3 775.0,1017.3 777.5,1017.3 780.0,1017.3 782.5,1017.3 785.0,1017.3 787.5,1017.3 790.0,1017.3 792.5,1017.3 795.0,1017.3 797.5,1017.3 800.0,1017.3 802.5,1017.3 805.0,1017.3 807.5,1017.3 810.0,1017.3 812.5,1017.3 815.0,1017.3 817.5,1017.3 820.0,1017.3 822.5,1017.3 825.0,1017.3 827.5,1017.3 830.0,1017.3 832.5,1017.3 835.0,1017.3 837.5,1017.3 840.0,1017.3 842.5,1017.3 845.0,1017.3 847.5,1017.3 850.0,1017.3 852.5,1017.3 855.0,1017.3 857.5,1017.3 860.0,1017.3 862.5,1017.3 865.0,1017.3 867.5,1017.3 870.0,1017.3 872.5,1017.3 875.0,1017.3 877.5,1017.3 880.0,1017.3" fill="none" stroke="#E24D42" stroke-width="1.4" stroke-linejoin="round"/>
<polyline points="94.3,1043.4 96.5,1047.8 98.7,1043.4 100.9,1043.4 103.1,1043.4 105.3,1043.4 107.5,1043.4 109.7,1043.4 111.9,1043.4 114.1,1043.4 116.3,1043.4 118.5,1043.4 120.7,1043.4 122.9,1043.4 125.1,1043.4 127.3,1043.0 129.5,1043.4 131.7,1043.8 133.9,1043.4 136.1,1043.4 138.3,1043.4 140.5,1043.4 142.7,1043.4 144.9,1043.4 147.1,1043.4 149.3,1043.4 151.5,1043.4 153.7,1043.4 155.9,1043.4 158.1,1043.4 160.3,1043.4 162.5,1043.4 164.7,1043.4 166.9,1043.4 169.1,1043.4 171.3,1043.4 173.5,1043.4 175.7,1043.4 177.9,1043.4 180.1,1043.4 182.3,1043.4 184.5,1043.4 186.7,1039.3 188.9,1043.4 191.1,1043.4 193.3,1045.9 195.5,1043.4 197.7,1043.4 199.9,1043.4 202.1,1043.4 204.3,1043.4 206.5,1043.4 208.7,1043.4 210.9,1043.4 213.1,1043.4 215.3,1043.4 217.5,1043.4 219.7,1043.4 221.9,1044.1 223.0,1032.3 225.2,1032.5 227.4,1032.3 229.6,1032.3 231.8,1032.3 234.0,1033.3 235.0,1043.4 237.2,1045.7 239.4,1043.4 241.6,1044.6 243.8,1043.4 246.0,1043.4 249.0,1032.3 251.2,1032.3 253.4,1032.3 255.6,1032.3 257.8,1032.3 259.0,1043.4 261.2,1043.4 263.4,1043.4 265.6,1043.4 267.8,1043.4 270.0,1043.4 272.2,1043.4 274.4,1043.4 276.6,1043.4 278.8,1043.4 281.0,1043.4 283.2,1047.0 285.4,1043.4 287.6,1043.4 289.8,1043.4 292.0,1043.4 294.2,1043.4 296.4,1043.4 298.6,1043.4 300.8,1043.4 303.0,1043.4 305.2,1043.4 307.4,1043.4 309.6,1043.4 311.8,1043.4 314.0,1043.4 316.2,1043.4 318.4,1043.4 320.6,1043.4 322.8,1043.1 325.0,1043.4 327.2,1043.4 329.4,1043.4 331.6,1043.4 333.8,1043.4 336.0,1043.4 338.2,1043.4 340.4,1043.4 342.6,1043.4 344.8,1043.4 347.0,1043.4 349.2,1043.4 351.4,1043.4 353.6,1043.4 355.8,1043.4 358.0,1043.4 360.2,1043.4 362.4,1043.0 364.6,1043.4 366.8,1042.8 369.0,1041.8 371.2,1043.4 373.4,1043.4 375.6,1043.4 377.8,1043.4 380.0,1043.5 382.2,1043.4 384.4,1043.4 386.6,1043.4 388.8,1043.4 391.0,1043.4 393.2,1043.4 395.4,1043.4 397.6,1043.4 399.8,1043.4 402.0,1043.4 404.2,1043.4 406.4,1043.4 408.6,1043.4 410.8,1043.4 413.0,1043.4 415.2,1043.4 417.4,1043.4 419.6,1043.4 421.8,1043.4 424.0,1043.4 426.2,1043.4 428.4,1045.8 430.6,1043.4 432.8,1043.4 435.0,1043.4 437.2,1043.4 439.4,1043.4 441.6,1043.4 443.8,1043.4 446.0,1043.4 448.2,1043.4 450.4,1041.3 452.6,1043.4 454.8,1043.4 457.0,1043.4 459.2,1043.4 461.4,1043.4 463.6,1043.4 465.8,1043.4 468.0,1043.4 470.2,1043.4 472.4,1043.4 474.6,1043.4 476.8,1043.4 479.0,1043.4 481.2,1043.4 483.4,1043.4 485.6,1043.4 487.8,1043.4 490.0,1043.4 492.2,1043.4 494.4,1043.4 496.6,1043.4 498.8,1043.4 501.0,1043.4 503.2,1043.4 505.4,1043.4 507.6,1043.4 509.8,1043.4 512.0,1043.4 514.2,1043.4 516.4,1043.4 518.6,1043.4 520.8,1043.4 523.0,1046.5 525.2,1043.4 527.4,1043.4 529.6,1043.4 531.8,1043.4 534.0,1043.4 536.2,1043.4 538.4,1043.4 540.6,1043.4 542.8,1043.4 545.0,1044.5 547.2,1043.4 549.4,1043.4 551.6,1043.4 553.8,1043.4 556.0,1043.4 558.2,1043.4 560.4,1043.4 562.6,1043.4 564.8,1043.4 567.0,1043.4 569.2,1043.4 571.4,1043.4 573.6,1043.4 575.8,1043.4 578.0,1043.4 580.2,1043.4 582.4,1043.4 584.6,1043.4 586.8,1043.4 589.0,1043.4 591.2,1043.4 593.4,1043.4 595.6,1040.8 597.8,1043.4 600.0,1043.4 602.2,1043.4 604.4,1043.4 606.6,1043.4 608.8,1043.4 611.0,1043.4 613.2,1043.4 615.4,1043.4 617.6,1039.4 619.8,1043.4 622.0,1044.1 624.2,1043.4 626.4,1043.4 628.6,1043.4 630.8,1043.4 633.0,1041.3 635.2,1043.4 637.4,1043.4 639.6,1043.4 641.8,1043.4 644.0,1043.4 646.2,1043.4 648.4,1043.4 650.6,1043.4 652.8,1043.4 655.0,1043.4 657.2,1043.4 659.4,1043.4 661.6,1043.4 663.8,1043.4 666.0,1043.4 668.2,1043.4 670.4,1043.4 672.6,1043.4 674.8,1043.4 677.0,1043.4 679.2,1043.4 681.4,1043.4 683.6,1041.0 685.8,1043.4 688.0,1043.4 690.2,1043.4 692.4,1043.4 694.6,1043.4 696.8,1043.4 699.0,1043.4 701.2,1046.6 703.4,1043.4 705.6,1043.4 707.8,1043.4 710.0,1043.4 712.2,1043.4 714.4,1043.4 716.6,1043.4 718.8,1043.4 721.0,1043.4 723.2,1043.4 725.4,1043.4 727.6,1043.4 729.8,1041.2 732.0,1043.4 734.2,1043.4 736.4,1043.4 738.6,1043.4 740.8,1043.4 743.0,1043.4 745.2,1043.4 747.4,1043.4 749.6,1043.4 751.8,1043.4 754.0,1045.4 756.2,1043.4 758.4,1043.4 760.6,1043.4 762.8,1043.4 765.0,1043.4 767.2,1043.4 769.4,1045.0 771.6,1043.4 773.8,1041.5 776.0,1043.4 778.2,1043.4 780.4,1043.4 782.6,1043.4 784.8,1043.4 787.0,1043.4 789.2,1043.4 791.4,1043.4 793.6,1043.4 795.8,1043.4 798.0,1043.4 800.2,1043.4 802.4,1043.4 804.6,1043.4 806.8,1040.9 809.0,1043.4 811.2,1043.4 813.4,1043.4 815.6,1043.4 817.8,1043.4 820.0,1043.4 822.2,1043.4 824.4,1043.4 826.6,1043.4 828.8,1043.4 831.0,1043.4 833.2,1043.4 835.4,1043.4 837.6,1043.4 839.8,1043.4 842.0,1043.4 844.2,1043.4 846.4,1043.4 848.6,1043.4 850.8,1043.4 853.0,1043.4 855.2,1043.4 857.4,1043.4 859.6,1041.7 861.8,1043.4 864.0,1043.4 866.2,1043.4 868.4,1043.4 870.6,1043.4 872.8,1043.4 875.0,1043.4 877.2,1043.4 879.4,1043.4 881.6,1043.4" fill="none" stroke="#7EB26D" stroke-width="1.4" stroke-linejoin="round"/>
<polyline points="94.3,1085.8 96.3,1085.8 98.3,1101.2 100.3,1085.8 102.3,1106.9 104.3,1085.8 106.3,1085.8 108.3,1110.7 110.3,1085.8 112.3,1085.8 114.3,1091.6 116.3,1085.8 118.3,1085.8 120.3,1092.3 122.3,1085.8 124.3,1085.8 126.3,1085.8 128.3,1085.8 130.3,1085.8 132.3,1083.0 134.3,1085.8 136.3,1085.8 138.3,1085.8 140.3,1085.8 142.3,1085.8 144.3,1093.0 146.3,1085.8 148.3,1085.8 151.0,1067.8 153.0,1066.3 155.0,1066.3 157.0,1066.3 159.0,1066.3 161.0,1074.0 163.0,1066.3 165.0,1066.3 167.0,1066.3 169.0,1066.3 171.0,1066.3 173.0,1066.3 175.0,1066.3 177.0,1053.6 179.0,1066.3 181.0,1059.5 183.0,1066.3 185.0,1066.3 187.0,1066.3 189.0,1066.3 191.0,1066.3 193.0,1066.3 195.0,1058.3 197.0,1066.3 199.0,1060.7 200.0,1029.7 202.0,1029.7 204.0,1029.7 206.0,1036.7 208.0,1029.7 210.0,1034.0 212.0,1029.7 214.0,1029.7 216.0,1031.6 218.0,1029.7 220.0,1029.7 222.0,1029.7 223.0,1067.7 225.0,1065.5 227.0,1052.9 229.0,1057.1 231.0,1051.9 233.0,1050.6 235.0,1056.7 237.0,1066.9 239.0,1066.3 241.0,1052.2 243.0,1053.5 245.0,1057.5 247.0,1066.6 249.0,1062.0 251.0,1067.6 253.0,1051.3 255.0,1069.3 257.0,1054.0 259.0,1062.3 261.0,1067.1 263.0,1064.2 265.0,1053.8 267.0,1063.0 269.0,1058.4 271.0,1050.2 273.0,1056.6 275.0,1056.1 277.0,1062.3 279.0,1055.4 281.0,1061.7 283.0,1063.5 285.0,1053.5 287.0,1052.4 289.0,1063.5 291.0,1059.1 293.0,1052.5 295.0,1052.2 297.0,1078.2 299.0,1071.7 301.0,1066.7 303.0,1063.6 305.0,1079.2 307.0,1073.3 309.0,1074.1 311.0,1029.7 313.0,1029.7 315.0,1029.7 317.0,1033.5 319.0,1029.7 321.0,1029.7 323.0,1029.7 325.0,1029.7 327.0,1029.7 329.0,1029.7 331.0,1029.7 333.0,1029.7 335.0,1034.1 337.0,1031.0 339.0,1031.2 341.0,1029.7 343.0,1029.7 345.0,1029.7 347.0,1029.7 349.0,1029.7 351.0,1029.7 353.0,1029.7 355.0,1035.7 357.0,1035.5 359.0,1029.7 361.0,1032.9 363.0,1029.7 365.0,1035.8 367.0,1030.8 369.0,1035.7 371.0,1029.7 373.0,1029.7 375.0,1029.7 377.0,1029.7 379.0,1029.7 381.0,1030.8 383.0,1036.3 385.0,1029.7 387.0,1029.7 389.0,1029.7 391.0,1029.7 393.0,1029.7 395.0,1029.7 397.0,1033.5 399.0,1029.7 401.0,1029.7 403.0,1029.7 405.0,1029.7 407.0,1029.7 409.0,1029.7 411.0,1029.7 413.0,1029.7 415.0,1029.7 417.0,1029.7 419.0,1029.7 421.0,1029.7 423.0,1029.7 425.0,1029.7 427.0,1035.3 429.0,1029.7 431.0,1029.7 433.0,1029.8 435.0,1036.3 437.0,1036.0 439.0,1029.7 441.0,1038.4 443.0,1029.7 445.0,1029.7 447.0,1029.7 449.0,1031.6 451.0,1029.7 453.0,1029.7 455.0,1035.2 457.0,1031.1 459.0,1029.7 461.0,1029.7 463.0,1036.5 465.0,1029.7 467.0,1029.7 469.0,1031.9 471.0,1029.7 473.0,1029.7 475.0,1034.2 477.0,1039.2 479.0,1029.7 481.0,1032.0 483.0,1035.8 485.0,1037.8 487.0,1029.7 489.0,1029.7 491.0,1029.7 493.0,1029.7 495.0,1031.2 497.0,1030.0 499.0,1029.7 501.0,1029.7 503.0,1029.7 505.0,1029.7 507.0,1029.7 509.0,1029.7 511.0,1038.5 513.0,1029.7 515.0,1029.7 517.0,1029.7 519.0,1034.6 521.0,1039.0 523.0,1029.7 525.0,1029.7 527.0,1029.7 529.0,1029.7 531.0,1045.0 533.0,1058.3 535.0,1046.2 537.0,1052.8 539.0,1047.4 541.0,1076.4 543.0,1055.2 545.0,1061.0 547.0,1066.9 548.0,1084.2 550.0,1084.2 552.0,1084.2 554.0,1084.2 556.0,1084.2 558.0,1084.2 560.0,1084.2 562.0,1084.2 564.0,1084.2 566.0,1084.2 568.0,1084.2 570.0,1084.2 572.0,1084.2 574.0,1084.2 576.0,1084.2 578.0,1080.9 580.0,1086.9 582.0,1084.2 584.0,1084.2 586.0,1084.2 588.0,1090.0 590.0,1084.2 592.0,1084.2 594.0,1084.2 596.0,1084.2 598.0,1084.2 600.0,1089.3 602.0,1084.2 604.0,1085.7 606.0,1084.2 608.0,1084.2 610.0,1084.2 612.0,1084.2 614.0,1084.2 616.0,1084.2 618.0,1084.2 620.0,1084.2 622.0,1084.2 624.0,1084.2 626.0,1084.2 628.0,1095.5 630.0,1084.2 632.0,1084.2 634.0,1084.2 636.0,1084.2 638.0,1084.2 640.0,1084.2 642.0,1084.2 644.0,1084.2 646.0,1078.0 648.0,1084.2 650.0,1084.2 652.0,1084.2 654.0,1084.2 656.0,1084.2 658.0,1084.2 660.0,1082.3 662.0,1085.0 664.0,1084.2 666.0,1084.2 668.0,1084.2 670.0,1079.0 672.0,1084.2 674.0,1084.2 676.0,1082.8 678.0,1084.2 680.0,1084.2 682.0,1084.2 684.0,1084.2 686.0,1082.0 688.0,1084.2 690.0,1084.2 692.0,1084.2 694.0,1084.2 696.0,1084.2 698.0,1091.0 700.0,1084.2 702.0,1095.0 704.0,1084.2 706.0,1084.2 708.0,1084.2 710.0,1095.0 712.0,1084.2 714.0,1084.2 716.0,1084.2 718.0,1084.2 720.0,1084.2 722.0,1084.2 724.0,1084.2 726.0,1084.2 728.0,1080.2 730.0,1084.2 732.0,1088.8 734.0,1084.2 736.0,1084.2 738.0,1084.2 740.0,1084.2 742.0,1084.2 744.0,1084.2 746.0,1084.2 748.0,1082.7 750.0,1084.2 752.0,1084.2 754.0,1084.2 756.0,1109.9 758.0,1087.6 760.0,1085.8 762.0,1088.5 764.0,1085.8 766.0,1088.0 768.0,1085.8 770.0,1085.8 772.0,1082.1 774.0,1104.9 776.0,1085.8 778.0,1085.8 780.0,1115.2 782.0,1085.8 784.0,1081.1 786.0,1085.8 788.0,1085.8 790.0,1085.8 792.0,1085.8 794.0,1085.8 796.0,1085.8 798.0,1085.8 800.0,1079.2 802.0,1102.5 804.0,1085.8 806.0,1082.0 808.0,1085.8 810.0,1085.8 812.0,1110.6 814.0,1085.8 816.0,1085.8 818.0,1085.8 820.0,1077.5 822.0,1108.1 824.0,1085.8 826.0,1085.8 828.0,1078.5 830.0,1085.8 832.0,1085.8 834.0,1085.8 836.0,1085.8 838.0,1068.8 840.0,1085.8 842.0,1073.7 844.0,1085.8 846.0,1105.5 848.0,1090.4 850.0,1103.2 852.0,1111.6 854.0,1085.8 856.0,1103.6 858.0,1091.9 860.0,1085.8 862.0,1073.6 864.0,1085.8 866.0,1085.8 868.0,1085.8 870.0,1085.8 872.0,1085.8 874.0,1085.8 876.0,1085.8 878.0,1085.8 880.0,1115.7" fill="none" stroke="#6ED0E0" stroke-width="1.4" stroke-linejoin="round"/>
<polyline points="140.0,1057.5 142.5,1051.8 145.0,1056.0 147.5,1050.6 150.0,1052.7 152.5,1051.9 155.0,1055.4 157.5,1057.5 160.0,1053.2 162.5,1053.8 165.0,1051.7 167.5,1050.6 170.0,1057.6 172.5,1049.4 175.0,1057.5 177.5,1054.7 180.0,1049.0 182.5,1057.1 185.0,1049.3 187.5,1053.8 190.0,1049.5 192.5,1058.0 195.0,1051.3 197.5,1056.8 200.0,1048.9 202.5,1054.8 205.0,1049.0 207.5,1048.6 210.0,1053.9 212.5,1057.9 215.0,1055.0 217.5,1056.7 220.0,1056.0 222.5,1053.4 225.0,1049.0 227.5,1053.5 230.0,1050.1 232.5,1053.4 235.0,1051.8 237.5,1053.2 240.0,1050.2 242.5,1055.2 245.0,1052.4 247.5,1053.0 250.0,1049.1 252.5,1053.1 255.0,1053.8 257.5,1057.8 260.0,1053.8 262.5,1049.6 265.0,1051.2 267.5,1051.6 270.0,1055.2 272.5,1057.5 275.0,1057.9 277.5,1057.6 280.0,1057.4 282.5,1056.7 285.0,1057.4 287.5,1048.5 290.0,1053.1 292.5,1054.1 295.0,1055.0 297.5,1054.3 300.0,1054.3" fill="none" stroke="#EF843C" stroke-width="1.4" stroke-linejoin="round"/>
<polyline points="550.0,1059.1 552.5,1050.8 555.0,1055.0 557.5,1059.3 560.0,1050.2 562.5,1051.0 565.0,1058.4 567.5,1059.3 570.0,1050.2 572.5,1050.2 575.0,1058.1 577.5,1056.7 580.0,1055.0 582.5,1055.6 585.0,1057.3 587.5,1057.8 590.0,1049.9 592.5,1050.6 595.0,1057.7 597.5,1059.5 600.0,1058.1 602.5,1053.9 605.0,1053.2 607.5,1053.3 610.0,1050.1 612.5,1057.5 615.0,1052.5 617.5,1055.7 620.0,1055.1 622.5,1053.2 625.0,1056.5 627.5,1054.4 630.0,1052.2 632.5,1058.6 635.0,1051.6 637.5,1051.4 640.0,1052.4 642.5,1054.6 645.0,1057.6 647.5,1053.2 650.0,1052.3 652.5,1056.3 655.0,1052.5 657.5,1055.0 660.0,1052.4 662.5,1058.5 665.0,1051.7 667.5,1052.2 670.0,1052.9 672.5,1053.2 675.0,1057.0 677.5,1056.5 680.0,1057.7 682.5,1055.2 685.0,1050.7 687.5,1057.4 690.0,1052.3 692.5,1052.1 695.0,1054.0 697.5,1059.6 700.0,1053.6 702.5,1053.4 705.0,1058.8 707.5,1059.6 710.0,1053.7 712.5,1051.3 715.0,1057.7 717.5,1057.6 720.0,1053.2 722.5,1057.7 725.0,1053.6 727.5,1052.7 730.0,1055.7 732.5,1057.2 735.0,1054.6 737.5,1057.9 740.0,1050.1 742.5,1054.8 745.0,1053.6 747.5,1050.6 750.0,1058.9 752.5,1051.3 755.0,1051.9 757.5,1058.5 760.0,1059.3 762.5,1059.0 765.0,1053.3 767.5,1059.0 770.0,1051.3 772.5,1056.9 775.0,1059.2 777.5,1051.8 780.0,1051.3 782.5,1056.6 785.0,1058.6 787.5,1057.0 790.0,1059.2 792.5,1054.4 795.0,1053.6 797.5,1051.1 800.0,1052.6 802.5,1059.1 805.0,1050.6 807.5,1051.7 810.0,1053.3 812.5,1050.4 815.0,1052.9 817.5,1051.7 820.0,1051.1 822.5,1055.1 825.0,1055.2 827.5,1055.5 830.0,1057.4 832.5,1055.1 835.0,1059.2 837.5,1050.7 840.0,1052.1 842.5,1050.7 845.0,1053.0 847.5,1057.4 850.0,1059.0 852.5,1054.9 855.0,1051.5 857.5,1053.2 860.0,1055.5 862.5,1052.8 865.0,1057.7 867.5,1059.5 870.0,1054.4 872.5,1055.8 875.0,1058.2 877.5,1054.5 880.0,1051.8" fill="none" stroke="#EF843C" stroke-width="1.4" stroke-linejoin="round"/>
<polyline points="94.3,1084.8 96.3,1085.4 98.3,1066.7 100.3,1081.2 102.3,1074.1 104.3,1067.3 106.3,1069.4 108.3,1069.6 110.3,1080.7 112.3,1070.4 114.3,1066.6 116.3,1070.6 118.3,1081.9 120.3,1076.0 122.3,1079.0 124.3,1075.4 126.3,1069.8 128.3,1066.5 130.3,1072.2 132.3,1067.1 134.3,1071.4 136.3,1078.4 138.3,1073.5 140.3,1075.5 142.3,1078.5 144.3,1072.5 146.3,1073.2 148.3,1083.6 150.3,1077.6 152.3,1074.4 155.0,1127.7 157.0,1122.4 159.0,1114.1 161.0,1090.1 163.0,1072.3 165.0,1090.7 167.0,1088.5 169.0,1089.3 171.0,1070.5 173.0,1079.5 175.0,1092.0 177.0,1107.5 179.0,1101.3 181.0,1130.2 183.0,1104.7 185.0,1122.9 187.0,1100.6 189.0,1072.8 191.0,1072.8 193.0,1078.5 195.0,1072.8 197.0,1072.8 199.0,1072.8 201.0,1072.8 203.0,1072.8 205.0,1072.8 207.0,1086.0 209.0,1072.8 211.0,1072.8 213.0,1072.8 215.0,1072.8 217.0,1085.9 219.0,1072.8 221.0,1072.8 223.0,1072.8 225.0,1072.8 227.0,1072.8 229.0,1074.1 231.0,1072.8 233.0,1072.8 235.0,1072.8 237.0,1072.8 239.0,1072.8 241.0,1072.8 243.0,1072.8 245.0,1072.8 247.0,1072.8 249.0,1072.8 251.0,1072.8 253.0,1072.8 255.0,1072.8 257.0,1072.8 259.0,1072.8 261.0,1072.8 263.0,1072.8 265.0,1072.8 267.0,1072.8 269.0,1072.8 271.0,1072.8 273.0,1072.8 275.0,1072.8 277.0,1072.8 279.0,1072.8 281.0,1072.8 283.0,1072.8 285.0,1072.8 287.0,1072.8 289.0,1072.8 291.0,1072.8 293.0,1085.4 295.0,1072.8 297.0,1072.8 299.0,1072.8 300.0,1140.0 302.0,1141.1 304.0,1126.0 306.0,1095.8 308.0,1127.2 310.0,1098.1 312.0,1143.7 314.0,1137.9 315.0,1066.3 317.0,1066.3 319.0,1066.3 321.0,1066.3 323.0,1066.3 325.0,1066.3 327.0,1066.3 329.0,1066.3 331.0,1066.3 333.0,1066.3 335.0,1066.3 337.0,1066.3 339.0,1066.3 341.0,1066.3 343.0,1066.3 345.0,1066.3 347.0,1066.3 349.0,1066.3 351.0,1066.3 353.0,1088.2 355.0,1066.3 357.0,1066.3 359.0,1066.3 361.0,1066.3 363.0,1066.3 365.0,1066.3 367.0,1066.3 369.0,1066.3 371.0,1066.3 373.0,1066.3 375.0,1066.3 377.0,1066.3 379.0,1066.3 381.0,1066.3 383.0,1066.3 385.0,1066.3 387.0,1066.3 389.0,1066.3 391.0,1066.3 393.0,1066.3 395.0,1066.3 397.0,1066.3 399.0,1066.3 401.0,1066.3 403.0,1069.8 405.0,1066.3 407.0,1066.3 409.0,1066.3 411.0,1066.3 413.0,1066.3 415.0,1066.3 417.0,1066.3 419.0,1066.3 421.0,1066.3 423.0,1066.3 425.0,1066.3 427.0,1066.3 429.0,1066.3 431.0,1066.3 433.0,1066.3 435.0,1066.3 437.0,1066.3 439.0,1066.3 441.0,1066.3 443.0,1066.3 445.0,1066.3 447.0,1066.3 449.0,1066.3 451.0,1066.3 453.0,1066.3 455.0,1066.3 457.0,1066.3 459.0,1066.3 461.0,1066.3 463.0,1066.3 465.0,1066.3 467.0,1066.3 469.0,1066.3 471.0,1066.3 473.0,1066.3 475.0,1066.3 477.0,1066.3 479.0,1066.3 481.0,1066.3 483.0,1066.3 485.0,1066.3 487.0,1066.3 489.0,1066.3 491.0,1066.3 493.0,1066.3 495.0,1066.3 497.0,1066.3 499.0,1066.3 501.0,1066.3 503.0,1066.3 505.0,1066.3 507.0,1066.3 509.0,1066.3 511.0,1066.3 513.0,1066.3 515.0,1066.3 517.0,1066.3 519.0,1066.3 521.0,1066.3 523.0,1066.3 525.0,1066.3 527.0,1066.3 529.0,1073.8 531.0,1066.3 533.0,1066.3 535.0,1066.3 537.0,1090.5 539.0,1066.3 541.0,1066.3 543.0,1066.3 545.0,1066.3 547.0,1066.3 549.0,1066.3 551.0,1066.3 553.0,1066.3 555.0,1066.3 557.0,1066.3 559.0,1066.3 561.0,1066.3 563.0,1066.3 565.0,1066.3 567.0,1066.3 569.0,1066.3 571.0,1066.3 573.0,1066.3 575.0,1066.3 577.0,1066.3 579.0,1066.3 581.0,1066.3 583.0,1066.3 585.0,1066.3 587.0,1066.3 589.0,1066.3 591.0,1066.3 593.0,1066.3 595.0,1066.3 597.0,1066.3 599.0,1066.3 601.0,1066.3 603.0,1066.3 605.0,1066.3 607.0,1066.3 609.0,1066.3 611.0,1066.3 613.0,1066.3 615.0,1066.3 617.0,1066.3 619.0,1066.3 622.0,1131.3 624.0,1147.6 626.0,1126.4 628.0,1127.4 630.0,1110.6 632.0,1126.3 633.0,1062.7 635.0,1069.8 637.0,1066.8 639.0,1072.5 641.0,1064.2 643.0,1069.0 645.0,1059.9 647.0,1065.2 649.0,1069.7 651.0,1063.1 653.0,1067.7 655.0,1062.6 657.0,1064.9 659.0,1072.7 661.0,1062.3 663.0,1071.6 665.0,1060.5 667.0,1067.3 669.0,1070.4 671.0,1070.7 673.0,1064.8 675.0,1067.4 677.0,1069.0 679.0,1069.7 682.0,1165.5 684.0,1149.1 686.0,1117.0 687.0,1068.9 689.0,1067.1 691.0,1066.8 693.0,1072.6 695.0,1061.5 697.0,1069.9 699.0,1064.0 701.0,1069.2 703.0,1072.1 705.0,1063.3 707.0,1067.1 709.0,1066.6 711.0,1066.2 713.0,1061.9 715.0,1067.9 717.0,1071.4 719.0,1068.4 721.0,1063.5 723.0,1070.2 725.0,1065.2 727.0,1061.6 729.0,1067.6 731.0,1065.7 733.0,1066.6 735.0,1072.7 737.0,1067.2 739.0,1072.2 741.0,1064.3 743.0,1069.6 745.0,1060.7 747.0,1063.6 749.0,1068.8 752.0,1046.0 754.0,1055.0 756.0,1025.8 758.0,1018.8 760.0,1024.3 761.0,1085.8 763.0,1098.9 765.0,1085.8 767.0,1102.3 769.0,1085.8 771.0,1085.8 773.0,1109.2 775.0,1114.0 777.0,1085.8 779.0,1085.8 781.0,1092.9 783.0,1085.8 785.0,1075.7 787.0,1085.8 789.0,1081.7 791.0,1085.8 793.0,1085.8 795.0,1085.8 797.0,1093.7 799.0,1085.8 801.0,1085.8 803.0,1085.8 805.0,1085.8 807.0,1085.8 809.0,1085.8 811.0,1106.9 813.0,1085.8 815.0,1068.1 817.0,1085.8 819.0,1085.8 821.0,1085.8 823.0,1085.8 825.0,1085.8 827.0,1085.8 829.0,1099.9 831.0,1085.8 833.0,1072.4 835.0,1085.8 837.0,1099.5 839.0,1081.0 841.0,1082.2 843.0,1074.6 845.0,1085.8 847.0,1085.8 849.0,1116.2 851.0,1085.8 853.0,1085.8 855.0,1085.8 857.0,1085.8 859.0,1113.2 861.0,1082.1 863.0,1104.3 865.0,1085.8 867.0,1085.8 869.0,1085.8 871.0,1085.8 873.0,1089.2 875.0,1085.8 877.0,1085.8 879.0,1103.2 881.0,1117.7" fill="none" stroke="#0A50A1" stroke-width="1.4" stroke-linejoin="round"/>
<polyline points="94.3,1082.6 96.5,1082.6 98.7,1082.6 100.9,1082.6 103.1,1082.6 105.3,1082.6 107.5,1082.6 109.7,1082.6 111.9,1082.6 114.1,1082.6 116.3,1082.6 118.5,1082.6 120.7,1082.6 122.9,1082.6 125.1,1082.6 127.3,1082.6 129.5,1082.6 131.7,1082.6 133.9,1082.6 136.1,1082.6 138.3,1082.6 140.5,1082.6 142.7,1082.6 144.9,1095.3 147.1,1084.0 149.3,1082.6 151.5,1082.6 153.7,1082.6 155.9,1082.6 158.1,1082.6 160.3,1082.6 162.5,1082.6 164.7,1082.6 166.9,1082.6 169.1,1082.6 171.3,1082.6 173.5,1082.6 175.7,1082.6 177.9,1082.6 180.1,1082.6 182.3,1096.5 184.5,1082.6 186.7,1082.6 188.9,1082.6 191.1,1082.6 193.3,1082.6 195.5,1082.6 197.7,1082.6 199.9,1079.5" fill="none" stroke="#705DA0" stroke-width="1.4" stroke-linejoin="round"/>
<polyline points="380.0,1099.8 382.2,1092.4 384.4,1092.4 386.6,1093.0 388.8,1092.4 391.0,1092.4 393.2,1092.4 395.4,1092.4 397.6,1092.4 399.8,1094.6 402.0,1092.4 404.2,1092.4 406.4,1094.9 408.6,1092.4 410.8,1092.7 413.0,1092.4 415.2,1098.6 417.4,1092.4 419.6,1101.0 421.8,1092.4 424.0,1086.5 426.2,1092.4 428.4,1091.8 430.6,1088.9 432.8,1092.4 435.0,1092.4 437.2,1101.6 439.4,1092.4 441.6,1098.9 443.8,1099.5 446.0,1092.4 448.2,1092.4 450.4,1097.9 452.6,1092.4 454.8,1091.8 457.0,1092.4 459.2,1092.4 461.4,1093.0 463.6,1092.4 465.8,1092.4 468.0,1090.5 470.2,1094.1 472.4,1092.4 474.6,1097.6 476.8,1092.4 479.0,1092.4 481.2,1099.1 483.4,1097.4 485.6,1092.4 487.8,1092.4 490.0,1092.4 492.2,1092.4 494.4,1092.4 496.6,1092.4 498.8,1092.4 501.0,1092.4 503.2,1094.1 505.4,1092.4 507.6,1092.4 509.8,1101.7 512.0,1092.4 514.2,1092.4 516.4,1099.8 518.6,1092.4 520.8,1092.4 523.0,1094.0 525.2,1092.4 527.4,1092.4 529.6,1092.4 531.8,1099.1 534.0,1092.4 536.2,1088.1 538.4,1099.1 540.6,1092.4 542.8,1092.4 545.0,1092.4 547.2,1092.4 549.4,1092.4 551.6,1092.4 553.8,1088.7 556.0,1099.5 558.2,1101.7 560.4,1092.4 562.6,1092.4 564.8,1101.4 567.0,1092.4 569.2,1092.4 571.4,1092.4 573.6,1100.3 575.8,1099.1 578.0,1098.9 580.2,1092.4 582.4,1099.4 584.6,1092.4 586.8,1092.4 589.0,1092.9 591.2,1092.4 593.4,1092.4 595.6,1092.4 597.8,1092.1 600.0,1096.7 602.2,1087.7 604.4,1092.4 606.6,1092.4 608.8,1092.4 611.0,1092.4 613.2,1095.9 615.4,1092.4 617.6,1092.4 619.8,1092.4 622.0,1092.4 624.2,1097.5 626.4,1089.9 628.6,1092.4 630.8,1092.4 633.0,1092.4 635.2,1095.8 637.4,1092.4 639.6,1092.4 641.8,1086.2 644.0,1092.4 646.2,1092.4 648.4,1092.4 650.6,1092.4 652.8,1092.4 655.0,1092.4 657.2,1092.4 659.4,1092.4 661.6,1092.4 663.8,1092.4 666.0,1092.4 668.2,1092.4 670.4,1095.6 672.6,1092.4 674.8,1089.4 677.0,1091.9 679.2,1096.9 681.4,1092.4 683.6,1094.9 685.8,1092.4 688.0,1092.4 690.2,1096.2 692.4,1092.4 694.6,1088.3 696.8,1093.1 699.0,1102.2 701.2,1102.1 703.4,1097.7 705.6,1092.4 707.8,1092.4 710.0,1090.5 712.2,1094.3 714.4,1092.4 716.6,1092.4 718.8,1092.4 721.0,1092.4 723.2,1095.7 725.4,1090.1 727.6,1092.4 729.8,1092.4 732.0,1089.4 734.2,1092.4 736.4,1092.1 738.6,1101.6 740.8,1092.4 743.0,1090.2 745.2,1092.4 747.4,1092.4 749.6,1092.4 751.8,1100.6 754.0,1094.7 756.2,1092.4 758.4,1092.4 760.6,1092.4 762.8,1092.4 765.0,1092.4 767.2,1091.7 769.4,1098.4 771.6,1099.5 773.8,1093.5 776.0,1092.3 778.2,1092.4 780.4,1100.2 782.6,1092.4 784.8,1092.4 787.0,1092.4 789.2,1092.4 791.4,1092.4 793.6,1092.4 795.8,1092.4 798.0,1092.4 800.2,1089.5 802.4,1092.4 804.6,1092.4 806.8,1094.4 809.0,1092.4 811.2,1092.4 813.4,1092.4 815.6,1100.0 817.8,1092.4 820.0,1092.4 822.2,1092.4 824.4,1092.4 826.6,1094.7 828.8,1092.4 831.0,1092.4 833.2,1092.4 835.4,1092.4 837.6,1092.4 839.8,1092.4 842.0,1092.4 844.2,1092.4 846.4,1092.4 848.6,1095.7 850.8,1091.1 853.0,1099.7 855.2,1092.4 857.4,1092.4 859.6,1092.4 861.8,1092.4 864.0,1096.2 866.2,1092.4 868.4,1102.0 870.6,1092.4 872.8,1092.4 875.0,1100.0 877.2,1092.4 879.4,1092.4 881.6,1091.2" fill="none" stroke="#705DA0" stroke-width="1.4" stroke-linejoin="round"/>
<polyline points="311.0,1051.2 313.0,1054.8 315.0,1047.2 317.0,1053.6 319.0,1054.8 321.0,1054.5 323.0,1054.8 325.0,1054.8 327.0,1054.8 329.0,1054.8 331.0,1054.5 333.0,1054.8 335.0,1054.8 337.0,1047.3 339.0,1049.6 341.0,1047.3 343.0,1054.8 345.0,1054.8 347.0,1048.9 349.0,1054.8 351.0,1054.8 353.0,1050.7 355.0,1050.4 357.0,1054.8 359.0,1054.8 361.0,1050.3 363.0,1053.4 365.0,1054.8 367.0,1054.8 369.0,1051.4 371.0,1054.8 373.0,1054.8 375.0,1054.8 377.0,1054.0 379.0,1048.1 381.0,1054.8 383.0,1054.8 385.0,1051.8 387.0,1046.9 389.0,1054.8 391.0,1049.1 393.0,1054.8 395.0,1054.8 397.0,1054.8 399.0,1054.8 401.0,1054.8 403.0,1054.8 405.0,1054.8 407.0,1054.8 409.0,1051.5 411.0,1049.5 413.0,1051.9 415.0,1054.8 417.0,1054.8 419.0,1054.8 421.0,1054.8 423.0,1049.6 425.0,1052.2 427.0,1048.3 429.0,1054.8 431.0,1051.7 433.0,1053.7 435.0,1054.8 437.0,1054.8 439.0,1052.7 441.0,1054.8 443.0,1047.7 445.0,1051.0 447.0,1052.4 449.0,1054.8 451.0,1048.9 453.0,1049.6 455.0,1054.8 457.0,1053.3 459.0,1054.2 461.0,1054.8 463.0,1054.8 465.0,1051.1 467.0,1054.8 469.0,1054.5 471.0,1054.8 473.0,1046.9 475.0,1047.3 477.0,1054.8 479.0,1054.8 481.0,1048.2 483.0,1050.3 485.0,1054.1 487.0,1054.8 489.0,1046.7 491.0,1054.8 493.0,1054.8 495.0,1054.8 497.0,1054.8 499.0,1054.8 501.0,1054.8 503.0,1054.8 505.0,1054.8 507.0,1050.5 509.0,1054.8 511.0,1054.8 513.0,1054.8 515.0,1054.8 517.0,1054.8 519.0,1054.8 521.0,1054.8 523.0,1053.6 525.0,1053.5 527.0,1054.8 529.0,1051.2 531.0,1054.8 533.0,1054.8 535.0,1048.5 537.0,1047.9 539.0,1054.8 541.0,1050.3 543.0,1047.6 545.0,1052.6 547.0,1054.8 549.0,1054.8 551.0,1054.8 553.0,1054.8 555.0,1054.8 557.0,1051.0 559.0,1049.3 561.0,1053.7 563.0,1050.5 565.0,1054.8 567.0,1046.8 569.0,1054.8 571.0,1053.5 573.0,1054.8 575.0,1054.8 577.0,1048.6 579.0,1054.8 581.0,1054.8 583.0,1053.8 585.0,1052.9 587.0,1054.8 589.0,1054.8 591.0,1054.8 593.0,1051.9 595.0,1049.5 597.0,1054.8 599.0,1054.8 601.0,1054.8 603.0,1054.8 605.0,1054.8 607.0,1051.1 609.0,1054.8 611.0,1054.8 613.0,1050.2 615.0,1054.5 617.0,1051.9 619.0,1054.2 621.0,1054.8 623.0,1054.8 625.0,1054.8 627.0,1052.2 629.0,1052.3 631.0,1050.0 633.0,1054.8 635.0,1053.4 637.0,1054.7 639.0,1054.8 641.0,1048.9 643.0,1054.8 645.0,1053.3 647.0,1048.5 649.0,1054.8 651.0,1051.1 653.0,1051.0 655.0,1054.8 657.0,1048.2 659.0,1054.8 661.0,1054.8 663.0,1054.8 665.0,1054.8 667.0,1046.7 669.0,1048.3 671.0,1052.3 673.0,1054.8 675.0,1054.8 677.0,1054.8 679.0,1047.5 681.0,1054.8 683.0,1054.8 685.0,1052.5 687.0,1051.4 689.0,1054.8 691.0,1054.8 693.0,1054.8 695.0,1052.8 697.0,1054.8 699.0,1053.0" fill="none" stroke="#82B5D8" stroke-width="1.4" stroke-linejoin="round"/>
<polyline points="94.3,1053.0 96.5,1044.4 98.7,1044.4 100.9,1044.4 103.1,1044.4 105.3,1044.4 107.5,1038.8 109.7,1044.4 111.9,1044.4 114.1,1044.4 116.3,1044.4 118.5,1047.4 120.7,1044.4 122.9,1053.5 125.1,1044.4 127.3,1034.1 129.5,1044.4 131.7,1044.4 133.9,1044.4 136.1,1051.8 138.3,1044.4 140.5,1044.4 142.7,1044.4 144.9,1044.4 147.1,1044.4 149.3,1044.4 151.5,1044.4 153.7,1044.4 155.9,1044.4 158.1,1044.4 160.3,1044.4 162.5,1044.4 164.7,1044.4 166.9,1044.4 169.1,1044.4 171.3,1044.4 173.5,1044.4 175.7,1037.0 177.9,1044.4 180.1,1044.4 182.3,1044.4 184.5,1043.3 186.7,1044.4 188.9,1044.4 191.1,1044.4 193.3,1044.4 195.5,1036.9 197.7,1044.4 199.9,1044.4 202.1,1044.4 204.3,1044.4 206.5,1049.0 208.7,1044.4 210.9,1044.4 213.1,1044.4 215.3,1044.4 217.5,1038.0 219.7,1044.4 221.9,1032.8 224.1,1044.4 226.3,1043.2 228.5,1044.4 230.7,1033.9 232.9,1044.4 235.1,1044.0 237.3,1044.4 239.5,1044.4 241.7,1046.5 243.9,1044.4 246.1,1044.4 248.3,1044.4 250.5,1044.4 252.7,1044.4 254.9,1044.4 257.1,1044.4 259.3,1044.4 261.5,1044.4 263.7,1044.4 265.9,1044.4 268.1,1044.4 270.3,1044.4 272.5,1044.4 274.7,1044.4 276.9,1044.4 279.1,1052.1 281.3,1044.4 283.5,1044.4 285.7,1044.4 287.9,1048.7 290.1,1044.4 292.3,1044.4 294.5,1044.4 296.0,1054.8 298.2,1054.8 300.4,1054.8 302.6,1054.8 304.8,1054.8 307.0,1054.8 309.2,1054.8 311.4,1054.8 313.6,1054.8 315.8,1054.8 318.0,1054.8 320.2,1054.8 322.4,1054.8 324.6,1054.8 326.8,1054.8 329.0,1054.8 331.2,1054.8 333.4,1054.8 335.6,1054.8 337.8,1054.8 340.0,1054.8 342.2,1054.8 344.4,1054.8 346.6,1054.8 348.8,1054.8 351.0,1052.1 353.2,1054.8 355.4,1054.8 357.6,1057.6 359.8,1054.8 362.0,1054.8 364.2,1054.8 366.4,1054.8 368.6,1054.8 370.8,1054.8 373.0,1054.8 375.2,1054.8 377.4,1054.8 379.6,1054.8 381.8,1050.7 384.0,1054.8 386.2,1054.8 388.4,1054.8 390.6,1054.8 392.8,1054.8 395.0,1054.8 397.2,1054.8 399.4,1054.8 401.6,1054.8 403.8,1054.8 406.0,1054.8 408.2,1054.8 410.4,1054.8 412.6,1054.8 414.8,1054.8 417.0,1054.8 419.2,1051.0 421.4,1054.8 423.6,1054.8 425.8,1054.8 428.0,1054.8 430.2,1054.8 432.4,1052.7 434.6,1052.5 436.8,1054.8 439.0,1054.8 441.2,1054.8 443.4,1054.8 445.6,1054.8 447.8,1054.8 450.0,1054.8 452.2,1054.8 454.4,1053.1 456.6,1054.8 458.8,1054.8 461.0,1054.8 463.2,1054.8 465.4,1051.3 467.6,1054.8 469.8,1054.8 472.0,1054.8 474.2,1054.8 476.4,1054.8 478.6,1054.8 480.8,1054.8 483.0,1054.8 485.2,1054.8 487.4,1055.4 489.6,1054.8 491.8,1054.8 494.0,1054.8 496.2,1054.8 498.4,1054.8 500.6,1055.6 502.8,1054.8 505.0,1054.8 507.2,1054.8 509.4,1054.8 511.6,1054.8 513.8,1054.8 516.0,1054.8 518.2,1054.8 520.4,1054.8 522.6,1054.8 524.8,1055.6 527.0,1054.8 529.2,1054.8 531.4,1054.8 533.6,1054.8 535.8,1054.8 538.0,1054.8 540.2,1055.2 542.4,1054.8 544.6,1054.8 546.8,1054.8 549.0,1054.8 551.2,1054.8 553.4,1054.8 555.6,1054.8 557.8,1057.0 560.0,1054.8 562.2,1054.8 564.4,1054.8 566.6,1054.8 568.8,1054.8 571.0,1054.8 573.2,1054.8 575.4,1054.8 577.6,1054.8 579.8,1054.8 582.0,1054.8 584.2,1054.8 586.4,1054.8 588.6,1054.8 590.8,1052.6 593.0,1054.8 595.2,1054.8 597.4,1054.8 599.6,1054.8 601.8,1054.8 604.0,1054.8 606.2,1054.8 608.4,1054.8 610.6,1054.8 612.8,1054.8 615.0,1054.8 617.2,1054.8 619.4,1053.3 621.6,1057.3 623.8,1054.8 626.0,1054.8 628.2,1054.8 630.4,1054.8 632.6,1051.6 634.8,1050.8 637.0,1054.8 639.2,1054.8 641.4,1054.8 643.6,1052.4 645.8,1053.8 648.0,1054.8 650.2,1054.8 652.4,1054.8 654.6,1054.8 656.8,1054.8 659.0,1054.8 661.2,1054.8 663.4,1054.8 665.6,1054.8 667.8,1054.8 670.0,1054.8 672.2,1054.8 674.4,1054.8 676.6,1054.8 678.8,1054.8 681.0,1054.8 683.2,1054.8 685.4,1050.2 687.6,1054.8 689.8,1054.8 692.0,1054.8 694.2,1056.8 696.4,1053.1 698.6,1054.8 700.8,1054.8 703.0,1054.8 705.2,1054.8 707.4,1054.8 709.6,1054.8 711.8,1054.1 714.0,1054.8 716.2,1054.8 718.4,1054.8 720.6,1054.8 722.8,1054.8 725.0,1054.8 727.2,1054.8 729.4,1053.1 731.6,1054.8 733.8,1052.4 736.0,1054.8 738.2,1054.8 740.4,1054.8 742.6,1054.8 744.8,1054.8 747.0,1054.8 749.2,1054.8 751.4,1054.8 753.6,1054.8 755.8,1054.8 758.0,1055.1 760.0,1061.2 762.2,1044.7 764.4,1049.2 766.6,1044.2 768.8,1060.6 771.0,1050.3 773.2,1045.0 775.4,1050.4 777.6,1047.4 779.8,1051.9 782.0,1055.5 784.2,1056.3 786.4,1045.3 788.6,1053.9 790.8,1044.5 793.0,1052.0 795.2,1059.2 797.4,1048.5 799.6,1059.5 801.8,1048.2 804.0,1051.1 806.2,1058.9 808.4,1043.5 810.6,1054.2 812.8,1053.9 815.0,1057.4 817.2,1062.0 819.4,1057.0 821.6,1047.8 823.8,1047.3 826.0,1052.8 828.2,1048.9 830.4,1054.2 832.6,1045.1 834.8,1057.0 837.0,1051.6 839.2,1044.4 841.4,1045.8 843.6,1061.7 845.8,1060.0 848.0,1060.7 850.2,1051.0 852.4,1062.7 854.6,1046.7 856.8,1057.6 859.0,1061.8 861.2,1047.5 863.4,1043.5 865.6,1045.9 867.8,1045.0 870.0,1059.1 872.2,1055.3 874.4,1052.7 876.6,1045.6 878.8,1056.0 881.0,1046.1" fill="none" stroke="#F9BA8F" stroke-width="1.4" stroke-linejoin="round"/>
<polyline points="94.3,1058.7 95.7,1055.8 97.1,1055.8 98.5,1060.7 99.9,1063.0 101.3,1063.3 102.7,1060.5 104.1,1069.0 105.5,1062.2 106.9,1074.1 108.3,1061.3 109.7,1057.6 111.1,1060.6 112.5,1055.8 113.9,1056.6 115.3,1072.7 116.7,1073.5 118.1,1074.0 119.5,1074.4 120.9,1079.8 122.3,1065.4 123.7,1061.8 125.1,1057.5 126.5,1073.5 127.9,1071.6 129.3,1073.8 130.7,1075.5 132.1,1067.1 133.5,1062.2 134.9,1071.4 136.3,1067.3 137.7,1062.1 139.1,1073.8 140.5,1074.4 141.9,1063.4 143.3,1074.4 144.7,1064.2 146.1,1061.7 147.5,1065.0 148.9,1056.8 150.3,1063.1 151.7,1060.2 153.1,1072.8 154.5,1074.4 155.9,1074.4 157.3,1074.4 158.7,1065.6 160.1,1073.5 161.5,1063.1 162.9,1066.1 164.3,1074.8 165.7,1063.7 167.1,1055.8 168.5,1055.8 169.9,1058.2 171.3,1055.8 172.7,1055.8 174.1,1074.4 175.5,1074.4 176.9,1074.4 178.3,1074.4 179.7,1074.4 181.1,1080.0 182.5,1074.4 183.9,1067.9 185.3,1074.4 186.7,1074.4 188.1,1074.4 189.5,1072.7 190.9,1067.9 192.3,1061.8 193.7,1064.3 195.1,1068.7 196.5,1066.9 197.9,1065.8 199.3,1060.0 200.7,1055.8 202.1,1055.8 203.5,1065.3 204.9,1071.2 206.3,1072.6 207.7,1063.8 209.1,1065.0 210.5,1074.4 211.9,1074.4 213.3,1074.4 214.7,1074.4 216.1,1068.2 217.5,1055.8 218.9,1063.0 220.3,1068.4 221.7,1080.2 223.1,1073.6 224.5,1074.4 225.9,1073.5 227.3,1074.4 228.7,1074.4 230.1,1074.4 231.5,1074.4 232.9,1074.4 234.3,1068.7 235.7,1060.7 237.1,1058.0 238.5,1061.9 239.9,1074.4 241.3,1074.4 242.7,1055.8 244.1,1056.5 245.5,1062.9 246.9,1069.3 248.3,1074.4 249.7,1067.8 251.1,1074.4 252.5,1071.4 253.9,1074.4 255.3,1057.0 256.7,1079.8 258.1,1074.4 259.5,1074.0 260.9,1068.6 262.3,1074.4 263.7,1068.4 265.1,1074.4 266.5,1070.9 267.9,1061.1 269.3,1063.0 270.7,1065.1 272.1,1072.6 273.5,1067.9 274.9,1071.8 276.3,1074.4 277.7,1067.5 279.1,1074.4 280.5,1074.4 281.9,1080.5 283.3,1070.9 284.7,1065.6 286.1,1064.7 287.5,1064.7 288.9,1060.6 290.3,1074.4 291.7,1071.9 293.1,1074.4 294.5,1074.4 295.9,1074.4 297.3,1067.1 298.7,1071.6 300.1,1070.1 301.5,1070.8 302.9,1060.4 304.3,1057.9 305.7,1055.8 307.1,1060.8 308.5,1070.3 309.9,1074.4 311.3,1055.8 312.7,1055.9 314.1,1055.8 315.5,1055.8 316.9,1056.5 318.3,1058.9 319.7,1055.8 321.1,1067.2 322.5,1074.4 323.9,1074.4 325.3,1074.4 326.7,1072.9 328.1,1059.2 329.5,1064.7 330.9,1065.0 332.3,1057.8 333.7,1061.6 335.1,1073.8 336.5,1068.9 337.9,1060.9 339.3,1055.8 340.7,1060.8 342.1,1055.8 343.5,1057.1 344.9,1059.1 346.3,1055.8 347.7,1055.8 349.1,1057.1 350.5,1055.8 351.9,1068.4 353.3,1062.2 354.7,1068.1 356.1,1067.4 357.5,1074.4 358.9,1071.5 360.3,1066.8 361.7,1072.4 363.1,1065.0 364.5,1059.5 365.9,1061.1 367.3,1055.8 368.7,1056.6 370.1,1063.1 371.5,1070.4 372.9,1079.4 374.3,1074.4 375.7,1074.4 377.1,1074.4 378.5,1074.4 379.9,1074.4 381.3,1074.4 382.7,1071.5 384.1,1074.4 385.5,1064.6 386.9,1058.3 388.3,1068.7 389.7,1071.1 391.1,1073.9 392.5,1062.1 393.9,1065.6 395.3,1058.3 396.7,1058.9 398.1,1072.1 399.5,1063.3 400.9,1065.0 402.3,1070.3 403.7,1057.1 405.1,1070.6 406.5,1065.9 407.9,1062.1 409.3,1063.7 410.7,1071.5 412.1,1074.1 413.5,1058.0 414.9,1063.1 416.3,1059.7 417.7,1055.8 419.1,1070.4 420.5,1069.3 421.9,1072.5 423.3,1060.9 424.7,1063.2 426.1,1070.8 427.5,1074.4 428.9,1074.4 430.3,1074.4 431.7,1074.4 433.1,1056.5 434.5,1055.8 435.9,1056.4 437.3,1067.8 438.7,1067.7 440.1,1059.2 441.5,1063.7 442.9,1065.9 444.3,1057.1 445.7,1056.8 447.1,1055.8 448.5,1062.9 449.9,1057.9 451.3,1062.9 452.7,1055.8 454.1,1060.4 455.5,1057.2 456.9,1055.8 458.3,1059.9 459.7,1057.5 461.1,1056.7 462.5,1064.4 463.9,1055.8 465.3,1059.5 466.7,1055.8 468.1,1065.8 469.5,1059.5 470.9,1057.4 472.3,1062.2 473.7,1056.6 475.1,1055.8 476.5,1065.7 477.9,1064.7 479.3,1055.8 480.7,1062.6 482.1,1061.2 483.5,1064.9 484.9,1060.6 486.3,1058.5 487.7,1060.6 489.1,1072.3 490.5,1070.9 491.9,1065.7 493.3,1064.2 494.7,1072.2 496.1,1061.7 497.5,1060.5 498.9,1063.3 500.3,1065.5 501.7,1065.1 503.1,1080.7 504.5,1072.0 505.9,1069.4 507.3,1071.7 508.7,1069.1 510.1,1066.2 511.5,1057.0 512.9,1058.2 514.3,1063.6 515.7,1063.2 517.1,1064.4 518.5,1066.4 519.9,1065.6 521.3,1073.7 522.7,1074.4 524.1,1078.1 525.5,1055.8 526.9,1055.8 528.3,1055.8 529.7,1060.4 531.1,1070.2 532.5,1065.6 533.9,1071.3 535.3,1061.7 536.7,1075.4 538.1,1065.5 539.5,1061.3 540.9,1055.8 542.3,1058.4 543.7,1071.7 545.1,1081.1 546.5,1065.7 547.9,1074.4 549.3,1074.4 550.7,1074.1 552.1,1074.4 553.5,1074.4 554.9,1074.4 556.3,1071.0 557.7,1065.8 559.1,1056.0 560.5,1055.8 561.9,1055.8 563.3,1055.8 564.7,1061.4 566.1,1060.9 567.5,1060.5 568.9,1059.4 570.3,1060.4 571.7,1055.8 573.1,1055.8 574.5,1061.8 575.9,1070.9 577.3,1069.2 578.7,1071.5 580.1,1072.6 581.5,1068.5 582.9,1080.5 584.3,1079.7 585.7,1074.4 587.1,1074.4 588.5,1074.4 589.9,1066.9 591.3,1074.4 592.7,1068.6 594.1,1067.8 595.5,1063.3 596.9,1062.6 598.3,1063.3 599.7,1060.7 601.1,1055.8 602.5,1062.2 603.9,1070.7 605.3,1074.4 606.7,1065.1 608.1,1066.3 609.5,1063.8 610.9,1073.3 612.3,1060.3 613.7,1077.4 615.1,1074.4 616.5,1074.4 617.9,1072.8 619.3,1074.4 620.7,1071.8 622.1,1065.2 623.5,1079.7 624.9,1072.3 626.3,1070.3 627.7,1074.4 629.1,1074.4 630.5,1066.8 631.9,1059.3 633.3,1059.6 634.7,1063.1 636.1,1064.1 637.5,1066.0 638.9,1061.0 640.3,1068.0 641.7,1060.5 643.1,1065.6 644.5,1069.0 645.9,1074.4 647.3,1074.4 648.7,1055.8 650.1,1068.2 651.5,1068.8 652.9,1058.2 654.3,1055.8 655.7,1055.8 657.1,1055.8 658.5,1065.5 659.9,1062.1 661.3,1061.5 662.7,1055.8 664.1,1056.2 665.5,1074.4 666.9,1067.5 668.3,1068.1 669.7,1069.0 671.1,1074.1 672.5,1071.6 673.9,1055.8 675.3,1062.9 676.7,1061.8 678.1,1070.7 679.5,1073.9 680.9,1074.3 682.3,1074.4 683.7,1079.0 685.1,1067.3 686.5,1064.7 687.9,1072.6 689.3,1074.4 690.7,1066.0 692.1,1057.3 693.5,1057.3 694.9,1061.0 696.3,1055.8 697.7,1061.3 699.1,1060.5 700.5,1056.4 701.9,1062.5 703.3,1064.1 704.7,1064.9 706.1,1067.2 707.5,1064.1 708.9,1059.0 710.3,1055.8 711.7,1066.5 713.1,1056.2 714.5,1058.6 715.9,1062.1 717.3,1065.6 718.7,1065.5 720.1,1063.7 721.5,1059.0 722.9,1073.2 724.3,1074.4 725.7,1074.4 727.1,1072.5 728.5,1073.4 729.9,1055.8 731.3,1055.8 732.7,1062.0 734.1,1059.3 735.5,1061.2 736.9,1065.8 738.3,1065.3 739.7,1064.7 741.1,1074.4 742.5,1073.0 743.9,1070.6 745.3,1074.4 746.7,1069.5 748.1,1062.2 749.5,1062.8 750.9,1055.8 752.3,1055.8 753.7,1063.5 755.1,1069.6 756.5,1074.4 757.9,1074.4 759.3,1074.4 760.7,1069.9 762.1,1061.3 763.5,1062.2 764.9,1063.0 766.3,1071.9 767.7,1064.3 769.1,1071.6 770.5,1074.4 771.9,1074.4 773.3,1074.4 774.7,1058.5 776.1,1060.5 777.5,1067.6 778.9,1079.6 780.3,1071.5 781.7,1057.4 783.1,1073.6 784.5,1070.9 785.9,1057.3 787.3,1068.6 788.7,1070.6 790.1,1060.2 791.5,1066.3 792.9,1055.8 794.3,1055.8 795.7,1055.8 797.1,1058.1 798.5,1064.9 799.9,1065.5 801.3,1056.1 802.7,1055.8 804.1,1055.8 805.5,1074.4 806.9,1074.4 808.3,1072.4 809.7,1072.8 811.1,1072.2 812.5,1074.4 813.9,1070.3 815.3,1068.4 816.7,1065.1 818.1,1061.4 819.5,1076.7 820.9,1074.4 822.3,1073.5 823.7,1074.4 825.1,1074.4 826.5,1077.4 827.9,1059.3 829.3,1063.1 830.7,1068.5 832.1,1072.5 833.5,1074.4 834.9,1074.4 836.3,1074.4 837.7,1071.9 839.1,1082.1 840.5,1074.4 841.9,1082.5 843.3,1064.0 844.7,1056.8 846.1,1055.8 847.5,1055.8 848.9,1055.8 850.3,1066.5 851.7,1074.4 853.1,1070.0 854.5,1057.9 855.9,1056.3 857.3,1055.8 858.7,1055.8 860.1,1064.7 861.5,1074.4 862.9,1066.8 864.3,1066.7 865.7,1060.5 867.1,1063.0 868.5,1064.3 869.9,1058.7 871.3,1055.8 872.7,1055.8 874.1,1055.8 875.5,1055.8 876.9,1073.1 878.3,1078.3 879.7,1064.7 881.1,1061.3" fill="none" stroke="#E5AC0E" stroke-width="1.6" stroke-linejoin="round"/>
<polyline points="94.3,1068.1 95.8,1065.8 97.3,1068.3 98.8,1067.3 100.3,1056.5 101.8,1068.8 103.3,1056.5 104.8,1057.4 106.3,1056.5 107.8,1056.5 109.3,1073.4 110.8,1068.4 112.3,1064.3 113.8,1061.4 115.3,1081.6 116.8,1073.4 118.3,1061.4 119.8,1073.4 121.3,1073.4 122.8,1069.7 124.3,1072.3 125.8,1074.4 127.3,1062.9 128.8,1065.5 130.3,1065.1 131.8,1065.9 133.3,1063.0 134.8,1058.8 136.3,1056.5 137.8,1073.4 139.3,1061.1 140.8,1056.5 142.3,1056.5 143.8,1056.5 145.3,1070.2 146.8,1063.5 148.3,1065.2 149.8,1071.1 151.3,1072.8 152.8,1068.4 154.3,1073.4 155.8,1082.6 157.3,1073.4 158.8,1073.4 160.3,1073.4 161.8,1063.5 163.3,1057.9 164.8,1056.5 166.3,1060.4 167.8,1065.7 169.3,1062.6 170.8,1056.5 172.3,1058.5 173.8,1060.6 175.3,1071.8 176.8,1073.4 178.3,1072.0 179.8,1070.8 181.3,1067.2 182.8,1058.1 184.3,1062.1 185.8,1056.5 187.3,1056.5 188.8,1064.4 190.3,1070.1 191.8,1063.2 193.3,1069.0 194.8,1071.5 196.3,1060.0 197.8,1062.0 199.3,1068.3 200.8,1070.0 202.3,1071.3 203.8,1080.5 205.3,1073.4 206.8,1072.8 208.3,1067.2 209.8,1064.8 211.3,1063.3 212.8,1062.4 214.3,1071.4 215.8,1071.2 217.3,1063.9 218.8,1069.9 220.3,1073.4 221.8,1073.4 223.3,1068.0 224.8,1078.6 226.3,1073.4 227.8,1073.4 229.3,1061.6 230.8,1059.6 232.3,1056.5 233.8,1058.8 235.3,1074.5 236.8,1061.7 238.3,1062.8 239.8,1071.6 241.3,1073.4 242.8,1073.4 244.3,1068.8 245.8,1069.2 247.3,1071.2 248.8,1058.9 250.3,1060.5 251.8,1066.1 253.3,1061.1 254.8,1056.5 256.3,1056.5 257.8,1056.5 259.3,1056.5 260.8,1056.5 262.3,1059.6 263.8,1056.7 265.3,1057.6 266.8,1056.5 268.3,1063.4 269.8,1056.5 271.3,1063.2 272.8,1061.1 274.3,1071.6 275.8,1069.4 277.3,1066.8 278.8,1068.5 280.3,1073.4 281.8,1070.5 283.3,1069.1 284.8,1077.8 286.3,1065.7 287.8,1063.6 289.3,1056.5 290.8,1056.5 292.3,1059.5 293.8,1057.4 295.3,1068.9 296.8,1073.4 298.3,1073.4 299.8,1073.4 301.3,1073.4 302.8,1062.1 304.3,1060.6 305.8,1056.5 307.3,1066.6 308.8,1071.3 310.3,1073.4 311.8,1069.5 313.3,1056.7 314.8,1060.5 316.3,1069.0 317.8,1072.5 319.3,1068.8 320.8,1066.8 322.3,1075.6 323.8,1061.6 325.3,1063.9 326.8,1056.5 328.3,1056.5 329.8,1056.5 331.3,1056.9 332.8,1056.7 334.3,1057.7 335.8,1056.5 337.3,1068.4 338.8,1073.4 340.3,1063.5 341.8,1070.4 343.3,1068.3 344.8,1070.2 346.3,1073.4 347.8,1073.4 349.3,1073.4 350.8,1066.0 352.3,1067.8 353.8,1069.3 355.3,1073.4 356.8,1064.8 358.3,1067.1 359.8,1069.6 361.3,1071.9 362.8,1073.4 364.3,1073.4 365.8,1072.8 367.3,1056.5 368.8,1056.5 370.3,1060.2 371.8,1056.5 373.3,1056.5 374.8,1064.8 376.3,1062.6 377.8,1060.9 379.3,1057.9 380.8,1065.4 382.3,1061.3 383.8,1063.5 385.3,1064.9 386.8,1071.2 388.3,1073.4 389.8,1072.6 391.3,1073.4 392.8,1072.7 394.3,1073.4 395.8,1073.4 397.3,1059.1 398.8,1056.5 400.3,1056.7 401.8,1063.2 403.3,1070.4 404.8,1073.4 406.3,1064.3 407.8,1060.2 409.3,1063.2 410.8,1056.5 412.3,1064.6 413.8,1070.0 415.3,1069.6 416.8,1064.8 418.3,1072.0 419.8,1073.4 421.3,1073.4 422.8,1070.1 424.3,1072.9 425.8,1073.4 427.3,1063.9 428.8,1073.2 430.3,1072.3 431.8,1073.4 433.3,1071.4 434.8,1064.0 436.3,1059.7 437.8,1057.8 439.3,1056.5 440.8,1069.7 442.3,1073.4 443.8,1071.7 445.3,1073.4 446.8,1069.2 448.3,1058.1 449.8,1056.5 451.3,1056.5 452.8,1062.2 454.3,1066.7 455.8,1073.4 457.3,1073.4 458.8,1070.4 460.3,1073.4 461.8,1073.4 463.3,1070.4 464.8,1073.4 466.3,1069.3 467.8,1070.5 469.3,1062.3 470.8,1059.9 472.3,1056.5 473.8,1059.7 475.3,1057.6 476.8,1063.0 478.3,1065.6 479.8,1066.3 481.3,1068.4 482.8,1061.2 484.3,1069.2 485.8,1063.2 487.3,1059.4 488.8,1066.5 490.3,1067.4 491.8,1071.1 493.3,1069.4 494.8,1073.4 496.3,1073.4 497.8,1069.1 499.3,1069.6 500.8,1072.8 502.3,1069.2 503.8,1073.4 505.3,1073.4 506.8,1066.7 508.3,1060.4 509.8,1058.1 511.3,1060.3 512.8,1072.0 514.3,1059.8 515.8,1056.5 517.3,1056.5 518.8,1070.6 520.3,1069.4 521.8,1070.8 523.3,1073.4 524.8,1064.5 526.3,1073.4 527.8,1064.7 529.3,1062.9 530.8,1069.3 532.3,1063.1 533.8,1066.3 535.3,1070.5 536.8,1072.8 538.3,1065.6 539.8,1060.4 541.3,1061.7 542.8,1063.9 544.3,1057.3 545.8,1073.3 547.3,1063.2 548.8,1058.9 550.3,1056.5 551.8,1056.5 553.3,1060.3 554.8,1072.3 556.3,1073.4 557.8,1073.4 559.3,1073.4 560.8,1079.3 562.3,1073.4 563.8,1072.5 565.3,1060.2 566.8,1064.7 568.3,1080.9 569.8,1066.1 571.3,1071.6 572.8,1073.4 574.3,1073.4 575.8,1073.4 577.3,1069.3 578.8,1070.4 580.3,1064.3 581.8,1057.3 583.3,1056.5 584.8,1060.7 586.3,1056.5 587.8,1058.6 589.3,1056.5 590.8,1072.0 592.3,1064.7 593.8,1069.5 595.3,1063.3 596.8,1063.8 598.3,1069.2 599.8,1056.5 601.3,1056.5 602.8,1062.9 604.3,1064.9 605.8,1072.3 607.3,1064.4 608.8,1065.2 610.3,1056.5 611.8,1059.0 613.3,1056.5 614.8,1058.1 616.3,1056.5 617.8,1070.7 619.3,1068.2 620.8,1073.4 622.3,1062.6 623.8,1061.4 625.3,1070.7 626.8,1078.4 628.3,1063.1 629.8,1064.9 631.3,1073.4 632.8,1073.4 634.3,1058.9 635.8,1058.7 637.3,1063.2 638.8,1064.4 640.3,1065.8 641.8,1066.8 643.3,1076.7 644.8,1068.6 646.3,1066.8 647.8,1073.0 649.3,1073.4 650.8,1071.9 652.3,1060.3 653.8,1056.5 655.3,1060.5 656.8,1067.9 658.3,1058.1 659.8,1057.3 661.3,1062.1 662.8,1056.5 664.3,1056.5 665.8,1056.5 667.3,1056.5 668.8,1056.5 670.3,1056.5 671.8,1057.0 673.3,1056.5 674.8,1057.9 676.3,1069.7 677.8,1072.1 679.3,1062.0 680.8,1064.1 682.3,1063.2 683.8,1056.5 685.3,1057.0 686.8,1056.5 688.3,1056.5 689.8,1060.8 691.3,1057.6 692.8,1056.5 694.3,1057.4 695.8,1056.5 697.3,1057.9 698.8,1064.2 700.3,1064.9 701.8,1065.0 703.3,1058.1 704.8,1056.5 706.3,1065.2 707.8,1068.8 709.3,1073.4 710.8,1066.0 712.3,1073.4 713.8,1072.2 715.3,1073.1 716.8,1073.4 718.3,1066.3 719.8,1065.2 721.3,1072.6 722.8,1071.4 724.3,1073.4 725.8,1059.2 727.3,1059.0 728.8,1062.6 730.3,1071.0 731.8,1073.4 733.3,1065.6 734.8,1068.8 736.3,1073.4 737.8,1071.4 739.3,1056.5 740.8,1056.5 742.3,1062.2 743.8,1070.8 745.3,1068.5 746.8,1062.2 748.3,1060.3 749.8,1059.5 751.3,1056.5 752.8,1062.6 754.3,1059.7 755.8,1056.5 757.3,1066.5 758.8,1056.5 760.3,1056.5 761.8,1058.8 763.3,1058.4 764.8,1056.5 766.3,1060.4 767.8,1056.5 769.3,1056.5 770.8,1056.5 772.3,1072.9 773.8,1073.4 775.3,1068.1 776.8,1059.5 778.3,1060.0 779.8,1062.7 781.3,1056.5 782.8,1073.4 784.3,1063.7 785.8,1071.2 787.3,1073.4 788.8,1073.2 790.3,1073.4 791.8,1069.6 793.3,1073.4 794.8,1065.4 796.3,1067.5 797.8,1073.4 799.3,1073.0 800.8,1069.4 802.3,1072.1 803.8,1073.4 805.3,1070.3 806.8,1070.9 808.3,1073.4 809.8,1073.4 811.3,1069.7 812.8,1071.1 814.3,1068.9 815.8,1072.8 817.3,1073.2 818.8,1073.4 820.3,1071.8 821.8,1073.4 823.3,1073.4 824.8,1073.4 826.3,1073.4 827.8,1073.4 829.3,1077.4 830.8,1060.5 832.3,1058.9 833.8,1058.7 835.3,1056.5 836.8,1064.4 838.3,1060.8 839.8,1059.0 841.3,1056.5 842.8,1062.5 844.3,1057.1 845.8,1060.1 847.3,1060.9 848.8,1066.6 850.3,1068.6 851.8,1073.4 853.3,1072.0 854.8,1056.5 856.3,1060.1 857.8,1059.5 859.3,1064.4 860.8,1065.7 862.3,1065.1 863.8,1067.1 865.3,1056.5 866.8,1058.9 868.3,1056.5 869.8,1061.9 871.3,1071.9 872.8,1068.4 874.3,1063.6 875.8,1066.6 877.3,1064.7 878.8,1073.4 880.3,1058.3 881.8,1056.5" fill="none" stroke="#DFA80C" stroke-width="1.5" stroke-linejoin="round"/>
<polyline points="94.3,1063.0 96.0,1061.1 97.7,1058.5 99.4,1062.1 101.1,1066.4 102.8,1070.5 104.5,1070.5 106.2,1070.5 107.9,1070.5 109.6,1067.7 111.3,1065.8 113.0,1060.1 114.7,1060.0 116.4,1060.3 118.1,1061.4 119.8,1057.4 121.5,1057.4 123.2,1058.4 124.9,1060.6 126.6,1061.9 128.3,1063.2 130.0,1060.7 131.7,1065.0 133.4,1065.2 135.1,1057.4 136.8,1070.2 138.5,1057.4 140.2,1060.7 141.9,1066.2 143.6,1070.5 145.3,1069.3 147.0,1063.6 148.7,1057.4 150.4,1057.4 152.1,1058.9 153.8,1064.9 155.5,1058.4 157.2,1057.4 158.9,1058.9 160.6,1058.1 162.3,1070.5 164.0,1077.2 165.7,1070.5 167.4,1070.5 169.1,1070.5 170.8,1070.5 172.5,1067.8 174.2,1068.3 175.9,1070.2 177.6,1070.5 179.3,1070.0 181.0,1057.4 182.7,1061.8 184.4,1066.7 186.1,1067.0 187.8,1069.6 189.5,1070.5 191.2,1062.1 192.9,1062.7 194.6,1057.4 196.3,1061.7 198.0,1063.3 199.7,1062.9 201.4,1060.0 203.1,1058.0 204.8,1057.4 206.5,1067.1 208.2,1057.4 209.9,1057.4 211.6,1063.0 213.3,1061.3 215.0,1059.0 216.7,1057.4 218.4,1058.2 220.1,1057.4 221.8,1059.9 223.5,1057.4 225.2,1057.4 226.9,1064.9 228.6,1057.4 230.3,1064.2 232.0,1063.3 233.7,1059.8 235.4,1067.6 237.1,1062.3 238.8,1059.8 240.5,1061.1 242.2,1057.4 243.9,1057.4 245.6,1057.4 247.3,1065.5 249.0,1067.7 250.7,1069.5 252.4,1070.5 254.1,1070.5 255.8,1083.6 257.5,1070.5 259.2,1061.9 260.9,1060.1 262.6,1060.4 264.3,1059.8 266.0,1063.1 267.7,1059.5 269.4,1057.4 271.1,1058.9 272.8,1066.4 274.5,1064.4 276.2,1062.3 277.9,1057.4 279.6,1057.4 281.3,1057.4 283.0,1057.8 284.7,1057.4 286.4,1057.4 288.1,1057.4 289.8,1064.1 291.5,1057.4 293.2,1059.3 294.9,1057.4 296.6,1057.4 298.3,1057.4 300.0,1059.2 301.7,1062.2 303.4,1060.7 305.1,1057.4 306.8,1064.0 308.5,1063.9 310.2,1059.1 311.9,1062.7 313.6,1062.8 315.3,1066.7 317.0,1070.5 318.7,1065.1 320.4,1069.4 322.1,1064.9 323.8,1080.9 325.5,1059.8 327.2,1057.4 328.9,1066.5 330.6,1065.1 332.3,1061.0 334.0,1060.7 335.7,1061.1 337.4,1070.5 339.1,1070.5 340.8,1063.1 342.5,1064.5 344.2,1064.2 345.9,1060.4 347.6,1061.1 349.3,1057.4 351.0,1057.4 352.7,1061.8 354.4,1061.2 356.1,1069.2 357.8,1068.5 359.5,1067.2 361.2,1067.4 362.9,1069.0 364.6,1070.5 366.3,1068.8 368.0,1066.2 369.7,1065.2 371.4,1068.2 373.1,1069.8 374.8,1070.5 376.5,1059.1 378.2,1057.4 379.9,1057.4 381.6,1059.3 383.3,1066.8 385.0,1070.5 386.7,1078.1 388.4,1063.9 390.1,1059.5 391.8,1057.4 393.5,1067.3 395.2,1065.1 396.9,1067.4 398.6,1063.1 400.3,1070.5 402.0,1064.8 403.7,1070.5 405.4,1067.2 407.1,1070.5 408.8,1070.5 410.5,1064.1 412.2,1060.5 413.9,1065.7 415.6,1069.9 417.3,1070.5 419.0,1069.8 420.7,1069.5 422.4,1070.1 424.1,1070.5 425.8,1061.5 427.5,1063.4 429.2,1062.0 430.9,1058.4 432.6,1067.3 434.3,1062.9 436.0,1057.4 437.7,1058.5 439.4,1059.7 441.1,1059.3 442.8,1079.6 444.5,1061.4 446.2,1057.4 447.9,1059.7 449.6,1070.5 451.3,1070.5 453.0,1068.9 454.7,1064.9 456.4,1070.5 458.1,1067.1 459.8,1067.4 461.5,1070.5 463.2,1070.5 464.9,1068.5 466.6,1067.7 468.3,1062.8 470.0,1070.5 471.7,1070.5 473.4,1066.7 475.1,1073.0 476.8,1066.5 478.5,1063.0 480.2,1059.2 481.9,1069.5 483.6,1068.8 485.3,1070.5 487.0,1067.6 488.7,1060.7 490.4,1064.6 492.1,1057.5 493.8,1064.0 495.5,1071.9 497.2,1070.5 498.9,1070.5 500.6,1065.4 502.3,1064.6 504.0,1070.5 505.7,1070.5 507.4,1070.5 509.1,1070.5 510.8,1063.4 512.5,1062.6 514.2,1064.8 515.9,1063.7 517.6,1065.4 519.3,1058.0 521.0,1057.4 522.7,1064.4 524.4,1065.6 526.1,1068.6 527.8,1067.3 529.5,1078.8 531.2,1061.0 532.9,1067.3 534.6,1067.7 536.3,1070.5 538.0,1070.5 539.7,1068.0 541.4,1065.2 543.1,1066.3 544.8,1057.4 546.5,1068.2 548.2,1070.5 549.9,1068.5 551.6,1065.6 553.3,1070.5 555.0,1070.5 556.7,1070.5 558.4,1069.5 560.1,1068.5 561.8,1070.2 563.5,1069.4 565.2,1070.5 566.9,1065.2 568.6,1065.3 570.3,1062.0 572.0,1059.4 573.7,1057.4 575.4,1057.5 577.1,1057.4 578.8,1057.4 580.5,1070.5 582.2,1070.2 583.9,1059.8 585.6,1059.7 587.3,1057.4 589.0,1060.4 590.7,1059.5 592.4,1057.4 594.1,1057.4 595.8,1061.2 597.5,1060.6 599.2,1057.4 600.9,1057.4 602.6,1057.9 604.3,1062.4 606.0,1057.4 607.7,1070.5 609.4,1062.5 611.1,1063.7 612.8,1060.8 614.5,1061.5 616.2,1058.0 617.9,1058.3 619.6,1060.1 621.3,1059.8 623.0,1061.1 624.7,1058.9 626.4,1061.1 628.1,1062.0 629.8,1059.1 631.5,1061.9 633.2,1057.4 634.9,1057.4 636.6,1062.7 638.3,1057.4 640.0,1061.7 641.7,1058.9 643.4,1065.7 645.1,1070.4 646.8,1070.5 648.5,1070.5 650.2,1076.9 651.9,1070.5 653.6,1063.7 655.3,1065.8 657.0,1057.4 658.7,1062.8 660.4,1064.1 662.1,1070.5 663.8,1070.5 665.5,1070.5 667.2,1077.0 668.9,1057.4 670.6,1057.4 672.3,1066.4 674.0,1070.5 675.7,1070.5 677.4,1070.5 679.1,1070.4 680.8,1066.5 682.5,1061.1 684.2,1057.4 685.9,1068.7 687.6,1066.3 689.3,1069.5 691.0,1057.8 692.7,1065.0 694.4,1063.6 696.1,1067.1 697.8,1063.7 699.5,1069.0 701.2,1060.0 702.9,1060.8 704.6,1058.2 706.3,1057.4 708.0,1058.7 709.7,1067.5 711.4,1067.8 713.1,1066.7 714.8,1057.4 716.5,1068.7 718.2,1064.1 719.9,1068.8 721.6,1077.0 723.3,1065.1 725.0,1068.6 726.7,1070.5 728.4,1066.9 730.1,1057.4 731.8,1068.4 733.5,1070.5 735.2,1069.7 736.9,1069.5 738.6,1080.6 740.3,1070.5 742.0,1069.4 743.7,1070.5 745.4,1059.1 747.1,1060.8 748.8,1066.0 750.5,1070.5 752.2,1070.5 753.9,1067.6 755.6,1057.4 757.3,1060.5 759.0,1067.9 760.7,1067.5 762.4,1066.7 764.1,1065.5 765.8,1069.4 767.5,1061.8 769.2,1068.0 770.9,1070.5 772.6,1070.5 774.3,1069.3 776.0,1068.7 777.7,1066.0 779.4,1070.5 781.1,1069.4 782.8,1070.5 784.5,1070.5 786.2,1066.9 787.9,1062.8 789.6,1070.5 791.3,1070.5 793.0,1070.5 794.7,1065.2 796.4,1062.9 798.1,1064.2 799.8,1075.3 801.5,1057.4 803.2,1065.3 804.9,1070.5 806.6,1071.2 808.3,1057.4 810.0,1057.4 811.7,1057.8 813.4,1070.5 815.1,1067.4 816.8,1057.4 818.5,1057.4 820.2,1058.8 821.9,1059.1 823.6,1057.8 825.3,1057.4 827.0,1057.4 828.7,1060.2 830.4,1059.3 832.1,1063.5 833.8,1057.4 835.5,1065.3 837.2,1057.4 838.9,1057.4 840.6,1057.4 842.3,1061.3 844.0,1065.8 845.7,1067.4 847.4,1064.0 849.1,1063.7 850.8,1070.5 852.5,1070.2 854.2,1070.5 855.9,1064.2 857.6,1067.7 859.3,1069.9 861.0,1067.2 862.7,1070.5 864.4,1070.5 866.1,1070.5 867.8,1070.5 869.5,1063.1 871.2,1062.1 872.9,1063.3 874.6,1068.3 876.3,1070.5 878.0,1070.5 879.7,1070.5 881.4,1062.5" fill="none" stroke="#E5AC0E" stroke-width="1.4" stroke-linejoin="round"/>
<polyline points="94.3,1074.4 97.3,1074.4 100.3,1074.4 103.3,1074.1 106.3,1074.4 109.3,1074.4 112.3,1074.4 115.3,1074.4 118.3,1074.4 121.3,1074.4 124.3,1074.4 127.3,1074.4 130.3,1074.4 133.3,1074.4 136.3,1074.4 139.3,1074.4 142.3,1074.4 145.3,1074.4 148.3,1074.4 151.3,1074.4 154.3,1074.4 157.3,1074.4 160.3,1074.4 163.3,1074.4 166.3,1074.4 169.3,1074.4 172.3,1074.4 175.3,1074.4 178.3,1074.4 181.3,1074.4 184.3,1074.4 187.3,1074.4 190.3,1074.4 193.3,1074.4 196.3,1074.4 199.3,1074.4" fill="none" stroke="#EAB839" stroke-width="1.4" stroke-linejoin="round"/>
<polyline points="540.0,1072.1 543.0,1072.1 546.0,1072.1 549.0,1072.1 552.0,1072.1 555.0,1072.1 558.0,1072.1 561.0,1072.1 564.0,1072.1 567.0,1072.1 570.0,1074.8 573.0,1072.1 576.0,1072.1 579.0,1072.1 582.0,1072.1 585.0,1072.1 588.0,1072.1 591.0,1072.1 594.0,1072.1 597.0,1073.4 600.0,1072.1 603.0,1072.1 606.0,1072.1 609.0,1072.1 612.0,1069.6 615.0,1072.1 618.0,1072.1 621.0,1072.1 624.0,1072.1 627.0,1072.1 630.0,1072.1 633.0,1072.1 636.0,1072.1 639.0,1072.1 642.0,1072.1 645.0,1072.1 648.0,1072.1 651.0,1072.1 654.0,1072.1 657.0,1072.1 660.0,1072.1 663.0,1072.1 666.0,1072.1 669.0,1072.1 672.0,1072.1 675.0,1072.1 678.0,1072.1 681.0,1072.1 684.0,1072.1 687.0,1072.1 690.0,1072.1 693.0,1072.1 696.0,1072.1 699.0,1072.1 702.0,1072.1 705.0,1072.1 708.0,1072.1 711.0,1072.1 714.0,1072.1 717.0,1072.1 720.0,1072.1 723.0,1072.1 726.0,1072.1 729.0,1072.1 732.0,1072.1 735.0,1072.1 738.0,1072.1 741.0,1072.1 744.0,1072.1 747.0,1072.1 750.0,1072.1 753.0,1072.1 756.0,1072.1 759.0,1072.1 762.0,1072.1 765.0,1072.1 768.0,1072.1 771.0,1072.1 774.0,1072.1 777.0,1072.1 780.0,1072.1 783.0,1072.1 786.0,1072.1 789.0,1072.1 792.0,1072.1 795.0,1072.1 798.0,1072.1 801.0,1072.1 804.0,1071.5 807.0,1072.1 810.0,1072.1 813.0,1072.1 816.0,1072.1 819.0,1072.1 822.0,1072.1 825.0,1072.1 828.0,1072.1 831.0,1072.1 834.0,1072.1 837.0,1072.1 840.0,1072.1 843.0,1072.1 846.0,1072.1 849.0,1072.1 852.0,1072.1 855.0,1072.1 858.0,1072.1 861.0,1072.1 864.0,1072.1 867.0,1072.1 870.0,1072.1 873.0,1072.1 876.0,1072.1 879.0,1072.1" fill="none" stroke="#EAB839" stroke-width="1.4" stroke-linejoin="round"/>
<polyline points="94.3,1069.0 96.3,1072.0 98.3,1082.7 100.3,1068.6 102.3,1085.6 104.3,1075.7 106.3,1071.1 108.3,1083.9 110.3,1074.9 112.3,1074.7 114.3,1066.3 116.3,1070.3 118.3,1087.7 120.3,1077.5 122.3,1076.2 124.3,1079.7 126.3,1068.3 128.3,1069.7 130.3,1086.0 132.3,1080.7 134.3,1073.5 136.3,1086.0 138.3,1072.9 141.0,1092.4 143.0,1151.2 146.0,1043.4 150.0,1066.3" fill="none" stroke="#F4D598" stroke-width="1.4" stroke-linejoin="round"/>
<polyline points="152.0,1076.1 154.0,1086.1 156.0,1088.0 158.0,1071.2 160.0,1091.9 162.0,1069.2 164.0,1070.8 166.0,1078.1 168.0,1079.5 170.0,1078.9 172.0,1076.7 174.0,1085.9 176.0,1070.4 178.0,1075.8 180.0,1082.8 182.0,1089.2 184.0,1070.5 186.0,1073.4 188.0,1076.8 190.0,1070.9 192.0,1078.0 194.0,1090.6 196.0,1069.8 198.0,1087.4 200.0,1089.1 202.0,1077.4 204.0,1073.3 206.0,1066.5 208.0,1079.1 210.0,1087.8 212.0,1074.2 214.0,1070.5 216.0,1087.3 218.0,1067.6 220.0,1079.5 222.0,1134.8 224.0,1072.8 226.0,1086.3 228.0,1079.6 230.0,1073.9 232.0,1081.9 234.0,1075.0 236.0,1083.7 238.0,1087.0 240.0,1087.2 242.0,1086.5 244.0,1069.5 246.0,1073.3 248.0,1083.7 250.0,1082.9 252.0,1089.6 254.0,1077.8 256.0,1067.8 258.0,1068.2 260.0,1067.5 262.0,1080.3 264.0,1074.7 266.0,1067.2 268.0,1090.0 270.0,1067.9 272.0,1075.3 274.0,1086.5 276.0,1084.1 278.0,1072.0 280.0,1091.4 282.0,1077.9 284.0,1087.8 286.0,1077.3 288.0,1083.2 290.0,1091.2 292.0,1067.8 294.0,1081.1 296.0,1102.8 298.0,1105.2 300.0,1102.8 302.0,1100.6 304.0,1099.8 306.0,1102.5 308.0,1100.0 310.0,1101.2 312.0,1105.2 314.0,1100.1 316.0,1100.2 318.0,1103.3 320.0,1102.2 322.0,1104.8 324.0,1101.1 326.0,1103.9 328.0,1101.6 330.0,1105.4 330.0,1067.9 332.0,1074.7 334.0,1067.9 336.0,1067.9 338.0,1067.9 340.0,1067.9 342.0,1068.8 344.0,1067.9 346.0,1067.9 348.0,1077.2 350.0,1067.9 352.0,1078.1 354.0,1068.0 356.0,1067.9 358.0,1067.9 360.0,1075.1 362.0,1061.4 364.0,1067.9 366.0,1067.9 368.0,1076.7 370.0,1074.3 372.0,1067.9 374.0,1067.9 376.0,1079.9 378.0,1066.2 380.0,1061.5 382.0,1067.9 384.0,1082.5 386.0,1067.9 388.0,1068.4 390.0,1067.9 392.0,1067.9 394.0,1067.9 396.0,1066.7 398.0,1067.9 400.0,1076.6 402.0,1067.9 404.0,1079.5 406.0,1067.9 408.0,1067.9 410.0,1067.9 412.0,1079.8 414.0,1080.1 416.0,1062.2 418.0,1067.9 420.0,1074.2 422.0,1067.9 424.0,1081.4 426.0,1076.2 428.0,1061.9 430.0,1067.9 432.0,1067.9 434.0,1067.9 436.0,1067.9 438.0,1067.9 440.0,1067.9 442.0,1067.9 444.0,1067.9 446.0,1070.3 448.0,1067.9 450.0,1061.5 452.0,1067.9 454.0,1067.9 456.0,1074.2 458.0,1067.9 460.0,1062.0 462.0,1067.9 464.0,1067.9 466.0,1067.9 468.0,1067.7 470.0,1067.9 472.0,1067.9 474.0,1075.4 476.0,1067.9 478.0,1067.9 480.0,1067.9 482.0,1067.9 484.0,1067.9 486.0,1078.1 488.0,1071.6 490.0,1062.8 492.0,1073.1 494.0,1067.9 496.0,1080.9 498.0,1067.6 500.0,1062.5 502.0,1076.1 504.0,1067.9 506.0,1076.3 508.0,1071.8 510.0,1067.9 512.0,1067.9 514.0,1067.9 516.0,1067.9 518.0,1067.9 520.0,1067.9 522.0,1080.6 524.0,1067.9 526.0,1067.9 528.0,1067.9 530.0,1081.9 532.0,1067.9 534.0,1067.9 536.0,1067.9 538.0,1067.9 540.0,1078.8 542.0,1067.9 544.0,1071.9 546.0,1070.2 548.0,1067.9 550.0,1108.7 553.0,1144.6 556.0,1151.2 558.0,1152.1 560.0,1152.1 562.0,1152.1 564.0,1152.1 566.0,1152.1 568.0,1152.1 570.0,1152.1 572.0,1152.1 574.0,1152.1 576.0,1152.1 578.0,1147.4 580.0,1152.1 582.0,1152.1 584.0,1152.1 586.0,1152.1 588.0,1152.1 590.0,1152.1 592.0,1152.1 594.0,1152.1 596.0,1152.1 598.0,1152.1 600.0,1152.1 602.0,1152.1 604.0,1152.1 606.0,1152.1 608.0,1152.1 610.0,1145.4 612.0,1152.1 614.0,1152.1 616.0,1152.1 618.0,1152.1 620.0,1152.1 622.0,1152.1 624.0,1152.1 626.0,1152.1 628.0,1152.1 630.0,1152.1 632.0,1152.1 634.0,1152.1 636.0,1152.1 638.0,1152.1 640.0,1125.0 648.0,1151.2 650.0,1138.1 660.0,1138.1 664.0,1128.3 668.0,1125.0 672.0,1102.2 676.0,1102.2 680.0,1085.8 683.0,1004.2 685.0,1151.2 690.0,1066.3 692.0,1070.3 694.0,1061.3 696.0,1067.2 698.0,1069.1 700.0,1067.2 702.0,1067.2 704.0,1067.2 706.0,1067.2 708.0,1067.2 710.0,1067.2 712.0,1067.2 714.0,1067.2 716.0,1081.2 718.0,1067.2 720.0,1067.2 722.0,1067.2 724.0,1068.6 726.0,1075.1 728.0,1067.2 730.0,1067.2 732.0,1065.4 734.0,1067.2 736.0,1067.2 738.0,1074.5 740.0,1067.2 742.0,1078.3 744.0,1067.2 746.0,1076.3 748.0,1077.4 750.0,1073.2 752.0,1067.2 754.0,1078.1 756.0,1067.2 758.0,1075.6 760.0,1066.2 762.0,1072.0 764.0,1067.4 766.0,1067.2 768.0,1067.2 770.0,1077.8 772.0,1063.1 774.0,1065.7 776.0,1067.2 778.0,1067.2 780.0,1067.2 782.0,1067.2 784.0,1067.2 786.0,1067.2 788.0,1067.2 790.0,1067.2 792.0,1067.2 794.0,1067.2 796.0,1067.2 798.0,1073.0 800.0,1062.5 802.0,1073.4 804.0,1067.2 806.0,1067.2 808.0,1067.7 810.0,1076.0 812.0,1067.2 814.0,1060.7 816.0,1062.8 818.0,1067.2 820.0,1067.2 822.0,1067.2 824.0,1067.2 826.0,1067.2 828.0,1067.2 830.0,1067.2 832.0,1069.5 834.0,1067.2 836.0,1067.2 838.0,1067.2 840.0,1067.2 842.0,1070.1 844.0,1063.7 846.0,1067.2 848.0,1067.2 850.0,1067.2 852.0,1067.2 854.0,1067.2 856.0,1067.7 858.0,1067.2 860.0,1063.8 862.0,1077.9 864.0,1067.2 866.0,1074.9 868.0,1067.2 870.0,1067.2 872.0,1067.2 874.0,1067.2 876.0,1067.2 878.0,1067.2 880.0,1067.2" fill="none" stroke="#F4D598" stroke-width="1.4" stroke-linejoin="round"/>
<polyline points="94.3,1060.0 98.3,1060.0 102.3,1060.0 106.3,1060.0 110.3,1060.0 114.3,1060.0 118.3,1060.0 122.3,1060.0 126.3,1060.0 130.3,1060.0 134.3,1060.0 138.3,1060.0 142.3,1060.0 146.3,1060.0 150.3,1060.0 154.3,1059.3 158.3,1060.0 162.3,1060.0 166.3,1060.0 170.3,1060.0 174.3,1060.0 178.3,1060.0 182.3,1060.0 186.3,1060.0 190.3,1060.0 194.3,1060.0 198.3,1060.0 202.3,1060.0 206.3,1060.0 210.3,1060.0 214.3,1060.0 218.3,1060.0 222.3,1060.0 226.3,1060.0 230.3,1060.0 234.3,1060.0 238.3,1059.1 242.3,1060.0 246.3,1060.0 250.3,1060.0 254.3,1060.0 258.3,1060.0 262.3,1060.0 266.3,1060.0 270.3,1060.0 274.3,1060.0 278.3,1060.0 282.3,1060.0 286.3,1060.0 290.3,1060.0 294.3,1060.0 298.3,1060.0 302.3,1060.0 306.3,1060.0 310.3,1060.0 314.3,1060.0 318.3,1060.0 322.3,1060.0 326.3,1060.0 330.3,1060.0 334.3,1060.0 338.3,1060.0 342.3,1060.0 346.3,1060.0 350.3,1060.0 354.3,1060.0 358.3,1060.0 362.3,1060.0 366.3,1060.0 370.3,1060.0 374.3,1060.0 378.3,1060.0 382.3,1060.0 386.3,1060.0 390.3,1060.0 394.3,1060.0 398.3,1060.0 402.3,1060.0 406.3,1060.0 410.3,1060.0 414.3,1060.0 418.3,1060.0 422.3,1060.0 426.3,1060.0 430.3,1060.0 434.3,1060.0 438.3,1060.0 442.3,1060.0 446.3,1060.0 450.3,1062.6 454.3,1060.0 458.3,1060.0 462.3,1060.0 466.3,1060.0 470.3,1060.0 474.3,1060.0 478.3,1060.0 482.3,1060.0 486.3,1060.0 490.3,1060.0 494.3,1060.0 498.3,1060.0 502.3,1060.0 506.3,1060.0 510.3,1060.0 514.3,1060.0 518.3,1060.0 522.3,1060.0 526.3,1060.0 530.3,1060.0 534.3,1060.0 538.3,1060.0 542.3,1060.0 546.3,1060.0 550.3,1060.0 554.3,1060.0 558.3,1060.0 562.3,1060.0 566.3,1060.0 570.3,1060.0 574.3,1060.0 578.3,1060.0 582.3,1060.0 586.3,1060.0 590.3,1060.0 594.3,1060.0 598.3,1060.0 602.3,1060.0 606.3,1060.0 610.3,1060.0 614.3,1060.0 618.3,1060.0 622.3,1060.0 626.3,1060.0 630.3,1060.0 634.3,1060.0 638.3,1060.0 642.3,1060.0 646.3,1060.0 650.3,1060.0 654.3,1060.0 658.3,1060.0 662.3,1060.0 666.3,1060.0 670.3,1060.0 674.3,1060.0 678.3,1060.0 682.3,1060.0 686.3,1060.0 690.3,1060.0 694.3,1060.0 698.3,1060.0 702.3,1060.0 706.3,1060.0 710.3,1060.0 714.3,1060.0 718.3,1060.0 722.3,1060.0 726.3,1060.0 730.3,1060.0 734.3,1060.0 738.3,1060.0 742.3,1060.0 746.3,1060.0 750.3,1060.0 754.3,1060.0 758.3,1060.0 762.3,1060.0 766.3,1060.0 770.3,1060.0 774.3,1060.0 778.3,1060.0 782.3,1060.0 786.3,1060.0 790.3,1060.0 794.3,1060.0 798.3,1060.0 802.3,1060.0 806.3,1060.0 810.3,1060.0 814.3,1060.0 818.3,1060.0 822.3,1060.0 826.3,1060.0 830.3,1060.0 834.3,1060.0 838.3,1060.0 842.3,1060.0 846.3,1060.0 850.3,1060.0 854.3,1060.0 858.3,1060.0 862.3,1060.0 866.3,1060.0 870.3,1060.0 874.3,1060.0 878.3,1060.0" fill="none" stroke="#962D82" stroke-width="1.4" stroke-linejoin="round"/>
<polyline points="94.3,1076.7 96.3,1075.7 98.3,1088.3 100.3,1084.2 102.3,1088.7 104.3,1075.6 106.3,1081.3 108.3,1073.8 110.3,1075.1 112.3,1079.1 114.3,1077.4 116.3,1092.9 118.3,1073.6 120.3,1082.9 122.3,1073.3 124.3,1091.4 126.3,1073.5 128.3,1090.7 130.3,1078.4 132.3,1079.3 134.3,1073.4 136.3,1085.5 138.3,1072.8 140.3,1086.4 142.3,1083.3 144.3,1077.4 146.3,1086.0 148.3,1087.4 150.3,1072.6 152.3,1092.0 154.3,1091.2 156.3,1089.4 158.3,1092.3 160.3,1079.0 162.3,1074.1 164.3,1081.0 166.3,1092.1 168.3,1086.7 170.3,1073.6 172.3,1088.3 174.3,1089.6 176.3,1081.7 178.3,1086.0 180.3,1091.1 182.3,1080.8 184.3,1089.2 186.3,1084.2 188.3,1089.1 190.3,1090.5 192.3,1074.5 194.3,1075.5 196.3,1084.6 198.3,1079.1 200.3,1077.9 202.3,1071.2 204.3,1081.3 206.3,1094.0 208.3,1080.5 210.3,1076.1 212.3,1079.7 214.3,1084.9 216.3,1071.8 218.3,1075.0 220.3,1083.2 222.3,1079.5 224.3,1087.0 226.3,1074.1 228.3,1072.6 230.3,1092.0 232.3,1088.3 234.3,1085.9 236.3,1084.9 238.3,1075.5 240.3,1074.6 242.3,1081.3 244.3,1086.8 246.3,1081.7 248.3,1082.6 250.3,1073.0 252.3,1092.8 254.3,1076.6 256.3,1080.0 258.3,1089.6 260.3,1092.8 262.3,1079.6 264.3,1081.5 266.3,1090.3 268.3,1082.3 270.3,1073.9 272.3,1076.1 274.3,1078.9 276.3,1071.2 278.3,1072.6 280.3,1091.6 282.3,1090.2 284.3,1090.1 286.3,1078.1 288.3,1079.1 290.3,1092.6 292.3,1072.3 294.3,1081.0 297.0,1058.1 299.0,1058.1 301.0,1058.1 303.0,1058.1 305.0,1058.1 307.0,1058.1 309.0,1058.1 311.0,1058.1 313.0,1058.1 315.0,1058.1 317.0,1058.1 319.0,1058.1 321.0,1058.1 323.0,1058.1 325.0,1058.1 327.0,1058.1 329.0,1058.1 331.0,1058.1 333.0,1058.1 335.0,1058.1 337.0,1058.1 339.0,1058.1 341.0,1058.1 343.0,1058.1 345.0,1058.1 347.0,1058.1 349.0,1058.1 351.0,1058.1 353.0,1058.1 355.0,1058.1 357.0,1058.1 359.0,1059.2 361.0,1058.1 363.0,1058.1 365.0,1058.1 367.0,1058.1 369.0,1058.1 371.0,1058.1 373.0,1058.1 375.0,1058.1 377.0,1058.1 379.0,1058.1 381.0,1058.1 383.0,1058.1 385.0,1058.1 387.0,1058.1 389.0,1058.1 391.0,1058.1 393.0,1058.1 395.0,1058.1 397.0,1058.1 399.0,1058.1 401.0,1058.1 403.0,1061.3 405.0,1058.1 407.0,1058.1 409.0,1058.1 411.0,1058.1 413.0,1058.1 415.0,1058.1 417.0,1058.1 419.0,1058.1 421.0,1058.1 423.0,1058.1 425.0,1058.1 427.0,1058.1 429.0,1058.1 431.0,1058.1 433.0,1058.1 435.0,1058.1 437.0,1058.1 439.0,1058.1 441.0,1060.4 443.0,1058.1 445.0,1058.1 447.0,1058.1 449.0,1058.1 451.0,1058.1 453.0,1058.1 455.0,1058.1 457.0,1058.1 459.0,1058.1 461.0,1058.1 463.0,1058.1 465.0,1058.1 467.0,1058.1 469.0,1058.1 471.0,1058.1 473.0,1058.1 475.0,1058.1 477.0,1058.1 479.0,1058.1 481.0,1058.1 483.0,1058.1 485.0,1058.1 487.0,1058.1 489.0,1058.1 491.0,1058.1 493.0,1058.1 495.0,1058.1 497.0,1058.1 499.0,1058.1 501.0,1058.1 503.0,1058.1 505.0,1058.1 507.0,1058.1 509.0,1058.1 511.0,1058.1 513.0,1058.1 515.0,1058.1 517.0,1058.1 519.0,1059.6 521.0,1058.1 523.0,1058.1 525.0,1058.1 527.0,1058.1 529.0,1058.1 531.0,1058.1 533.0,1058.1 535.0,1058.1 537.0,1058.1 539.0,1058.1 541.0,1058.1 543.0,1058.1 545.0,1058.1 547.0,1058.1 549.0,1058.1 551.0,1058.1 553.0,1058.1 555.0,1058.1 557.0,1058.1 559.0,1058.1 561.0,1058.1 563.0,1058.1 565.0,1058.1 567.0,1058.1 569.0,1058.1 571.0,1058.1 573.0,1058.1 575.0,1058.1 577.0,1058.1 579.0,1058.1 581.0,1058.1 583.0,1058.1 585.0,1058.1 587.0,1058.1 589.0,1058.1 591.0,1058.1 593.0,1058.1 595.0,1058.1 597.0,1058.1 599.0,1058.1 601.0,1058.1 603.0,1058.1 605.0,1058.1 607.0,1058.1 609.0,1058.1 611.0,1058.1 613.0,1058.1 615.0,1058.1 617.0,1058.1 619.0,1058.1 621.0,1058.1 623.0,1058.1 625.0,1058.1 627.0,1058.1 629.0,1058.1 631.0,1058.1 633.0,1058.1 635.0,1058.1 637.0,1058.1 639.0,1058.1 641.0,1058.1 643.0,1058.1 645.0,1058.1 647.0,1058.1 649.0,1058.1 651.0,1058.1 653.0,1058.1 655.0,1058.1 657.0,1058.1 659.0,1058.1 661.0,1058.1 663.0,1058.1 665.0,1058.1 667.0,1058.1 669.0,1058.1 671.0,1058.1 673.0,1058.1 675.0,1058.1 677.0,1058.1 679.0,1058.1 681.0,1058.1 683.0,1058.1 685.0,1058.1 687.0,1058.1 689.0,1058.1 691.0,1058.1 693.0,1058.1 695.0,1058.1 697.0,1058.1 699.0,1058.1 701.0,1058.1 703.0,1058.4 705.0,1058.1 707.0,1058.1 709.0,1058.1 711.0,1058.1 713.0,1058.1 715.0,1058.1 717.0,1058.1 719.0,1058.1 721.0,1058.1 723.0,1058.1 725.0,1058.1 727.0,1058.1 729.0,1058.1 731.0,1058.1 733.0,1058.1 735.0,1058.1 737.0,1058.1 739.0,1058.1 741.0,1058.1 743.0,1058.1 745.0,1058.1 747.0,1058.1 749.0,1058.1 751.0,1058.1 753.0,1058.1 755.0,1058.1 756.0,1069.0 758.0,1089.9 760.0,1089.5 762.0,1062.0 764.0,1074.8 766.0,1087.3 768.0,1062.2 770.0,1087.2 772.0,1065.1 774.0,1085.4 776.0,1068.0 778.0,1090.2 780.0,1087.6 782.0,1068.1 784.0,1053.7 786.0,1077.4 788.0,1075.4 790.0,1064.8 792.0,1089.1 794.0,1069.6 796.0,1073.9 798.0,1062.0 800.0,1081.8 802.0,1074.2 804.0,1058.9 806.0,1090.0 808.0,1064.1 810.0,1058.5 812.0,1081.5 814.0,1069.6 816.0,1084.8 818.0,1069.9 820.0,1074.9 822.0,1081.4 824.0,1087.4 826.0,1059.6 828.0,1057.6 830.0,1072.0 832.0,1059.2 834.0,1084.3 836.0,1066.5 838.0,1067.2 840.0,1056.5 842.0,1063.9 844.0,1067.4 846.0,1063.6 848.0,1061.5 850.0,1064.2 852.0,1081.6 854.0,1058.0 856.0,1073.0 858.0,1078.6 860.0,1054.0 862.0,1085.3 864.0,1082.9 866.0,1062.8 868.0,1055.5 870.0,1056.0 872.0,1087.4 874.0,1054.8 876.0,1077.0 878.0,1076.1 880.0,1079.0" fill="none" stroke="#E5A8E2" stroke-width="1.6" stroke-linejoin="round"/>
<polyline points="94.3,1083.0 96.3,1083.1 98.3,1083.4 100.3,1090.1 102.3,1075.1 104.3,1078.9 106.3,1084.1 108.3,1082.3 110.3,1086.8 112.3,1081.8 114.3,1094.9 116.3,1077.7 118.3,1093.8 120.3,1073.2 122.3,1091.4 124.3,1075.1 126.3,1079.4 128.3,1082.5 130.3,1093.6 132.3,1075.8 134.3,1084.4 136.3,1090.9 138.3,1083.9 140.3,1089.3 142.3,1095.6 144.3,1091.1 146.3,1078.5 148.3,1080.2 150.3,1085.3 152.3,1089.9 154.3,1095.2 156.3,1092.2 158.3,1090.6 160.3,1086.7 162.3,1089.1 164.3,1092.7 166.3,1091.1 168.3,1076.7 170.3,1078.0 172.3,1082.1 174.3,1094.8 176.3,1080.0 178.3,1091.4 180.3,1079.5 182.3,1089.0 184.3,1092.7 186.3,1095.4 188.3,1085.8 190.3,1086.4 192.3,1076.6 194.3,1092.2 196.3,1077.6 198.3,1075.7 201.0,1085.8 203.0,1085.8 205.0,1085.8 207.0,1085.8 209.0,1085.8 211.0,1085.8 213.0,1095.2 215.0,1085.8 217.0,1105.0 219.0,1085.8 221.0,1087.6 223.0,1085.8 225.0,1085.8 227.0,1085.8 229.0,1093.1 231.0,1085.8 233.0,1095.6 235.0,1091.2 237.0,1085.8 239.0,1090.4 241.0,1085.8 243.0,1105.3 245.0,1085.8 247.0,1085.8 249.0,1088.4 251.0,1085.8 253.0,1085.8 255.0,1097.0 257.0,1085.3 259.0,1085.8 261.0,1085.8 263.0,1085.8 265.0,1085.8 267.0,1084.5 269.0,1096.3 271.0,1103.7 273.0,1085.8 275.0,1094.8 277.0,1085.8 279.0,1085.8 281.0,1085.8 283.0,1085.8 285.0,1085.8 287.0,1097.3 289.0,1085.8 291.0,1085.8 293.0,1085.8 295.0,1100.3 297.0,1087.1 299.0,1085.8 301.0,1093.4 303.0,1084.9 305.0,1085.8 307.0,1085.8 309.0,1102.7 311.0,1085.8 313.0,1087.4 315.0,1085.8 317.0,1085.8 319.0,1085.8 321.0,1085.8 323.0,1099.5 325.0,1104.1 327.0,1085.8 329.0,1094.9 331.0,1101.4 333.0,1085.8 335.0,1085.8 337.0,1085.8 339.0,1085.8 341.0,1096.4 343.0,1085.8 345.0,1097.4 347.0,1100.7 349.0,1089.9 351.0,1084.5 353.0,1090.4 355.0,1089.1 357.0,1084.6 359.0,1089.7 361.0,1105.1 363.0,1085.8 365.0,1088.8 367.0,1104.4 369.0,1085.8 371.0,1085.8 373.0,1085.8 375.0,1085.8 377.0,1086.2 379.0,1085.8 381.0,1085.8 383.0,1099.3 385.0,1086.7 387.0,1097.0 389.0,1089.9 391.0,1095.6 393.0,1085.8 395.0,1100.6 397.0,1085.8 399.0,1090.0 401.0,1085.8 403.0,1104.4 405.0,1105.2 407.0,1085.8 409.0,1085.8 411.0,1085.8 413.0,1085.8 415.0,1085.8 417.0,1094.0 419.0,1085.8 421.0,1085.8 423.0,1102.3 425.0,1085.8 427.0,1098.8 429.0,1085.8 431.0,1085.8 433.0,1085.8 435.0,1085.8 437.0,1085.8 439.0,1085.8 441.0,1085.8 443.0,1101.6 445.0,1085.8 447.0,1085.8 449.0,1085.8 451.0,1085.8 453.0,1085.8 455.0,1085.8 457.0,1087.6 459.0,1085.8 461.0,1087.6 463.0,1087.4 465.0,1085.8 467.0,1085.8 469.0,1101.3 471.0,1085.8 473.0,1097.4 475.0,1085.8 477.0,1085.8 479.0,1101.9 481.0,1085.8 483.0,1085.8 485.0,1085.1 487.0,1103.6 489.0,1085.8 491.0,1085.8 493.0,1093.2 495.0,1085.8 497.0,1085.8 499.0,1085.8 501.0,1085.8 503.0,1085.8 505.0,1090.4 507.0,1085.8 509.0,1085.8 511.0,1085.8 513.0,1085.8 515.0,1085.8 517.0,1085.8 519.0,1085.8 521.0,1085.8 523.0,1098.2 525.0,1085.8 527.0,1099.4 529.0,1085.8 531.0,1085.8 533.0,1085.8 535.0,1085.8 537.0,1094.0 539.0,1085.8 541.0,1091.5 543.0,1085.8 545.0,1085.8 547.0,1085.8 549.0,1085.8 551.0,1098.3 553.0,1104.1 555.0,1087.8 557.0,1085.8 559.0,1085.8 561.0,1094.6 563.0,1092.1 565.0,1085.8 567.0,1098.5 569.0,1085.8 571.0,1085.8 573.0,1085.8 575.0,1085.8 577.0,1084.5 579.0,1085.8 581.0,1101.8 583.0,1085.8 585.0,1085.8 587.0,1092.3 589.0,1085.8 591.0,1085.8 593.0,1085.8 595.0,1085.8 597.0,1103.6 599.0,1085.8 601.0,1086.8 603.0,1085.8 605.0,1089.2 607.0,1094.6 609.0,1092.1 611.0,1096.4 613.0,1084.7 615.0,1085.8 617.0,1100.7 619.0,1085.8 621.0,1085.8 623.0,1085.8 625.0,1097.7 627.0,1085.8 629.0,1085.8 631.0,1104.4 633.0,1085.8 635.0,1104.6 637.0,1095.2 639.0,1085.8 641.0,1090.5 643.0,1099.2 645.0,1085.8 647.0,1084.9 649.0,1095.8 651.0,1085.8 653.0,1085.8 655.0,1095.3 657.0,1085.8 659.0,1085.8 661.0,1103.9 663.0,1085.8 665.0,1103.7 667.0,1085.8 669.0,1085.8 671.0,1088.4 673.0,1085.8 675.0,1085.8 677.0,1085.8 679.0,1085.8 681.0,1091.1 683.0,1088.3 685.0,1085.8 687.0,1085.8 689.0,1085.8 691.0,1093.2 693.0,1085.8 695.0,1085.8 697.0,1101.3 699.0,1085.8 701.0,1085.8 703.0,1085.8 705.0,1085.8 707.0,1087.0 709.0,1100.3 711.0,1085.8 713.0,1089.2 715.0,1088.5 717.0,1085.8 719.0,1088.6 721.0,1085.8 723.0,1085.8 725.0,1096.1 727.0,1095.9 729.0,1094.2 731.0,1085.8 733.0,1085.8 735.0,1085.8 737.0,1095.1 739.0,1085.8 741.0,1085.8 743.0,1085.8 745.0,1087.1 747.0,1104.7 749.0,1085.8 751.0,1085.8 753.0,1085.8 755.0,1085.8 757.0,1085.8 759.0,1085.8 761.0,1085.8 763.0,1085.8 765.0,1091.6 767.0,1085.8 769.0,1085.8 771.0,1085.8 773.0,1090.0 775.0,1085.8 777.0,1085.8 779.0,1085.8 781.0,1100.0 783.0,1085.8 785.0,1098.5 787.0,1085.8 789.0,1099.5 791.0,1085.8 793.0,1085.8 795.0,1085.8 797.0,1097.1 799.0,1085.8 801.0,1090.4 803.0,1085.8 805.0,1105.2 807.0,1098.5 809.0,1085.8 811.0,1101.9 813.0,1085.8 815.0,1092.8 817.0,1098.3 819.0,1085.8 821.0,1088.6 823.0,1085.8 825.0,1085.8 827.0,1085.8 829.0,1085.8 831.0,1095.5 833.0,1089.4 835.0,1085.8 837.0,1096.5 839.0,1085.8 841.0,1085.8 843.0,1096.8 845.0,1092.7 847.0,1085.8 849.0,1094.0 851.0,1085.8 853.0,1101.4 855.0,1085.8 857.0,1091.1 859.0,1086.9 861.0,1101.0 863.0,1090.0 865.0,1085.8 867.0,1085.8 869.0,1085.8 871.0,1085.8 873.0,1094.1 875.0,1086.9 877.0,1085.8 879.0,1085.8 881.0,1094.5" fill="none" stroke="#AEA2E0" stroke-width="1.4" stroke-linejoin="round"/>
<polyline points="200.0,1088.6 202.5,1094.5 205.0,1087.7 207.5,1089.8 210.0,1087.7 212.5,1088.7 215.0,1090.9 217.5,1087.7 220.0,1091.9 222.5,1091.7 225.0,1092.9 227.5,1089.7 230.0,1091.9 232.5,1089.7 235.0,1092.3 237.5,1094.6 240.0,1088.5 242.5,1092.3 245.0,1093.1 247.5,1089.0 250.0,1087.5 252.5,1091.0 255.0,1091.0 257.5,1091.7 260.0,1092.9 262.5,1089.7 265.0,1093.2 266.0,1086.8 268.5,1086.8 271.0,1086.8 273.5,1086.8 276.0,1086.8 278.5,1086.8 281.0,1086.8 283.5,1086.8 286.0,1086.8 288.5,1086.8 291.0,1088.3 293.5,1086.8 296.0,1086.8 298.5,1086.8 301.0,1086.8 303.5,1086.8 306.0,1086.8 308.5,1086.8 311.0,1086.8 313.5,1086.8 316.0,1086.8 318.5,1086.8 321.0,1086.8 323.5,1086.8 326.0,1086.8 328.5,1086.8 331.0,1086.8 333.5,1086.8 336.0,1086.8 338.5,1086.8 341.0,1086.8 343.5,1086.8 346.0,1086.8 348.5,1086.8 351.0,1086.8 353.5,1086.8 356.0,1086.8 358.5,1086.8 361.0,1086.8 363.5,1086.8 366.0,1086.8 368.5,1086.8 371.0,1086.8 373.5,1086.8 376.0,1086.8 378.5,1089.3 381.0,1086.8 383.5,1086.8 386.0,1086.8 388.5,1086.8 391.0,1086.8 393.5,1086.8 396.0,1086.8 398.5,1086.8 401.0,1086.8 403.5,1086.8 406.0,1086.8 408.5,1086.8 411.0,1086.8 413.5,1086.8 416.0,1086.8 418.5,1086.8 421.0,1086.8 423.5,1086.8 426.0,1086.8 428.5,1086.8 431.0,1086.8 433.5,1086.8 436.0,1086.8 438.5,1086.8 441.0,1086.8 443.5,1086.8 446.0,1086.8 448.5,1086.8 451.0,1086.8 453.5,1086.8 456.0,1086.8 458.5,1086.8 461.0,1086.8 463.5,1086.8 466.0,1086.8 468.5,1086.8 471.0,1086.8 473.5,1086.8 476.0,1090.3 478.5,1086.8 481.0,1086.8 483.5,1086.8 486.0,1086.8 488.5,1086.8 491.0,1086.8 493.5,1086.8 496.0,1086.8 498.5,1086.8 501.0,1086.8 503.5,1086.8 506.0,1086.8 508.5,1086.8 511.0,1086.8 513.5,1086.8 516.0,1086.8 518.5,1086.8 521.0,1086.8 523.5,1086.8 526.0,1086.8 528.5,1086.8 531.0,1086.8 533.5,1086.8 536.0,1086.8 538.5,1086.8 541.0,1086.8 543.5,1086.8 546.0,1086.8 548.5,1086.8 551.0,1086.8 553.5,1086.8 556.0,1086.8 558.5,1089.5 561.0,1086.8 563.5,1086.8 566.0,1086.8 568.5,1086.8 571.0,1086.8 573.5,1086.8 576.0,1086.8 578.5,1086.8 581.0,1086.8 583.5,1086.8 586.0,1089.4 588.5,1086.8 591.0,1086.8 593.5,1086.8 596.0,1086.8 598.5,1088.8 601.0,1086.8 603.5,1086.8 606.0,1086.8 608.5,1086.8 611.0,1086.8 613.5,1086.8 616.0,1086.8 618.5,1086.8 621.0,1086.8 623.5,1086.8 626.0,1086.8 628.5,1086.8 631.0,1086.8 633.5,1086.8 636.0,1086.8 638.5,1086.8 641.0,1086.8 643.5,1086.8 646.0,1086.8 648.5,1086.8 651.0,1086.8 653.5,1086.8 656.0,1086.8 658.5,1086.8 661.0,1086.8 663.5,1086.8 666.0,1086.8 668.5,1086.8 671.0,1086.8 673.5,1086.8 676.0,1086.8 678.5,1086.8 681.0,1086.8 683.5,1086.8 686.0,1086.8 688.5,1086.8 691.0,1086.8 693.5,1086.8 696.0,1086.8 698.5,1086.8 701.0,1086.8 703.5,1086.8 706.0,1086.8 708.5,1086.8 711.0,1086.8 713.5,1088.3 716.0,1086.8 718.5,1086.8 721.0,1086.8 723.5,1086.8 726.0,1086.8 728.5,1086.8 731.0,1086.8 733.5,1086.8 736.0,1086.8 738.5,1086.8 741.0,1086.8 743.5,1086.8 746.0,1086.8 748.5,1086.8 751.0,1086.8 753.5,1086.8 756.0,1086.8 758.5,1086.8 761.0,1086.8 763.5,1086.8 766.0,1086.8 768.5,1086.8 771.0,1086.8 773.5,1086.8 776.0,1086.8 778.5,1086.8 781.0,1086.8 783.5,1086.8 786.0,1086.8 788.5,1086.8 791.0,1086.8 793.5,1086.8 796.0,1086.8 798.5,1086.8 801.0,1086.8 803.5,1086.8 806.0,1086.8 808.5,1086.8 811.0,1086.8 813.5,1086.8 816.0,1086.8 818.5,1086.8 821.0,1086.8 823.5,1089.2 826.0,1086.8 828.5,1086.8 831.0,1086.8 833.5,1086.8 836.0,1086.8 838.5,1086.8 841.0,1086.8 843.5,1086.8 846.0,1086.8 848.5,1086.8 851.0,1086.8 853.5,1086.8 856.0,1086.8 858.5,1086.8 861.0,1086.8 863.5,1086.8 866.0,1086.8 868.5,1086.8 871.0,1086.8 873.5,1086.8 876.0,1086.8 878.5,1086.8 881.0,1086.8" fill="none" stroke="#B7DBAB" stroke-width="1.4" stroke-linejoin="round"/>
<polyline points="289.0,1075.5 291.0,1065.8 293.0,1105.1 295.0,1069.4 297.0,1120.5 299.0,1092.8" fill="none" stroke="#F29191" stroke-width="1.4" stroke-linejoin="round"/>
<polyline points="640.0,1127.7 642.0,1089.2 644.0,1143.3" fill="none" stroke="#F29191" stroke-width="1.4" stroke-linejoin="round"/>
<polyline points="748.0,1051.7 749.5,1108.1 751.0,1038.4 752.5,1088.9 754.0,1056.0 755.5,1104.1 757.0,1079.0 758.5,1088.7 760.0,1074.6 761.5,1091.1" fill="none" stroke="#F29191" stroke-width="1.4" stroke-linejoin="round"/>
<polyline points="815.0,1073.7 817.0,1076.1 819.0,1083.6 821.0,1067.8 823.0,1073.8 825.0,1071.4 827.0,1070.8 829.0,1072.9 831.0,1066.9 833.0,1080.8 835.0,1077.2 837.0,1085.6 839.0,1091.3 841.0,1081.9 843.0,1083.4 845.0,1089.6 847.0,1091.4 849.0,1077.8 851.0,1088.8 853.0,1077.4 855.0,1078.3 857.0,1072.9 859.0,1085.7 861.0,1072.8 863.0,1074.5 865.0,1077.9 867.0,1066.7 869.0,1087.7 871.0,1066.3 873.0,1069.7 875.0,1089.7 877.0,1086.5 879.0,1066.8 881.0,1072.0" fill="none" stroke="#890F02" stroke-width="1.4" stroke-linejoin="round"/>
<rect x="911.0" y="1006.7" width="21.0" height="6.0" fill="#7EB26D" rx="1.5"/>
<text x="951.0" y="1011.7" font-size="18" fill="#ccccdc">04:78:63:3A:A1:89</text>
<text transform="translate(1115.0,1011.7) scale(0.975,1)" font-size="18" fill="#ccccdc">Avg: -55 dB</text>
<rect x="911.0" y="1039.7" width="21.0" height="6.0" fill="#EAB839" rx="1.5"/>
<text transform="translate(951.0,1044.7) scale(0.957,1)" font-size="18" fill="#ccccdc">04:ED:33:05:1E:DC</text>
<text transform="translate(1117.5,1044.7) scale(0.975,1)" font-size="18" fill="#ccccdc">Avg: -88 dB</text>
<rect x="911.0" y="1072.7" width="21.0" height="6.0" fill="#6ED0E0" rx="1.5"/>
<text transform="translate(951.0,1077.7) scale(0.980,1)" font-size="18" fill="#ccccdc">0A:BB:22:D3:00:6B</text>
<text transform="translate(1119.2,1077.7) scale(0.975,1)" font-size="18" fill="#ccccdc">Avg: -58 dB</text>
<rect x="911.0" y="1105.7" width="21.0" height="6.0" fill="#EF843C" rx="1.5"/>
<text transform="translate(951.0,1110.7) scale(0.960,1)" font-size="18" fill="#ccccdc">14:EB:B6:B2:E7:E2</text>
<text transform="translate(1116.3,1110.7) scale(0.975,1)" font-size="18" fill="#ccccdc">Avg: -60 dB</text>
<rect x="911.0" y="1138.7" width="21.0" height="6.0" fill="#E24D42" rx="1.5"/>
<text transform="translate(951.0,1143.7) scale(0.960,1)" font-size="18" fill="#ccccdc">14:EB:B6:B2:EA:21</text>
<text transform="translate(1116.3,1143.7) scale(0.975,1)" font-size="18" fill="#ccccdc">Avg: -47 dB</text>
<rect x="911.0" y="1171.7" width="21.0" height="6.0" fill="#1F78C1" rx="1.5"/>
<text transform="translate(951.0,1176.7) scale(0.975,1)" font-size="18" fill="#ccccdc">16:86:E3:6A:7D:F1</text>
<text transform="translate(1115.0,1176.7) scale(0.975,1)" font-size="18" fill="#ccccdc">Avg: -81 dB</text>
<rect x="911.0" y="1204.7" width="21.0" height="6.0" fill="#BA43A9" rx="1.5"/>
<text transform="translate(951.0,1209.7) scale(0.979,1)" font-size="18" fill="#ccccdc">18:00:DB:07:D9:D3</text>
<text transform="translate(1118.5,1209.7) scale(0.975,1)" font-size="18" fill="#ccccdc">Avg: -67 dB</text>
<rect x="911.0" y="1237.7" width="21.0" height="6.0" fill="#705DA0" rx="1.5"/>
<text transform="translate(951.0,1242.7) scale(0.980,1)" font-size="18" fill="#ccccdc">1C:93:C4:B9:2F:11</text>
<text transform="translate(1115.4,1242.7) scale(0.975,1)" font-size="18" fill="#ccccdc">Avg: -68 dB</text>
<rect x="911.0" y="1270.7" width="21.0" height="6.0" fill="#508642" rx="1.5"/>
<text transform="translate(951.0,1275.7) scale(0.960,1)" font-size="18" fill="#ccccdc">28:7F:CF:BE:69:50</text>
<text transform="translate(1115.0,1275.7) scale(0.975,1)" font-size="18" fill="#ccccdc">Avg: -67 dB</text>
<text x="1848.0" y="950.2" font-size="19.5" fill="#ccccdc" text-anchor="middle" font-weight="bold">Clients Signal-to-Noise</text>
<line x1="1311.90" y1="994.50" x2="2157.00" y2="994.50" stroke="rgba(204,204,220,0.2)" stroke-width="1.5"/>
<text x="1302.3" y="1000.0" font-size="17.5" fill="#ccccdc" text-anchor="end">1</text>
<line x1="1311.90" y1="1059.80" x2="2157.00" y2="1059.80" stroke="rgba(204,204,220,0.2)" stroke-width="1.5"/>
<text x="1302.3" y="1065.3" font-size="17.5" fill="#ccccdc" text-anchor="end">0.500</text>
<line x1="1311.90" y1="1125.10" x2="2157.00" y2="1125.10" stroke="rgba(204,204,220,0.2)" stroke-width="1.5"/>
<text x="1302.3" y="1130.6" font-size="17.5" fill="#ccccdc" text-anchor="end">0</text>
<line x1="1311.90" y1="1190.40" x2="2157.00" y2="1190.40" stroke="rgba(204,204,220,0.2)" stroke-width="1.5"/>
<text x="1302.3" y="1195.9" font-size="17.5" fill="#ccccdc" text-anchor="end">-0.500</text>
<line x1="1311.90" y1="1255.70" x2="2157.00" y2="1255.70" stroke="rgba(204,204,220,0.2)" stroke-width="1.5"/>
<text x="1302.3" y="1261.2" font-size="17.5" fill="#ccccdc" text-anchor="end">-1</text>
<line x1="1324.60" y1="994.50" x2="1324.60" y2="1255.70" stroke="rgba(204,204,220,0.2)" stroke-width="1.5"/>
<text x="1324.6" y="1283.8" font-size="17.5" fill="#ccccdc" text-anchor="middle">16:00</text>
<line x1="1465.00" y1="994.50" x2="1465.00" y2="1255.70" stroke="rgba(204,204,220,0.2)" stroke-width="1.5"/>
<text x="1465.0" y="1283.8" font-size="17.5" fill="#ccccdc" text-anchor="middle">20:00</text>
<line x1="1605.40" y1="994.50" x2="1605.40" y2="1255.70" stroke="rgba(204,204,220,0.2)" stroke-width="1.5"/>
<text x="1605.4" y="1283.8" font-size="17.5" fill="#ccccdc" text-anchor="middle">00:00</text>
<line x1="1745.80" y1="994.50" x2="1745.80" y2="1255.70" stroke="rgba(204,204,220,0.2)" stroke-width="1.5"/>
<text x="1745.8" y="1283.8" font-size="17.5" fill="#ccccdc" text-anchor="middle">04:00</text>
<line x1="1886.20" y1="994.50" x2="1886.20" y2="1255.70" stroke="rgba(204,204,220,0.2)" stroke-width="1.5"/>
<text x="1886.2" y="1283.8" font-size="17.5" fill="#ccccdc" text-anchor="middle">08:00</text>
<line x1="2026.60" y1="994.50" x2="2026.60" y2="1255.70" stroke="rgba(204,204,220,0.2)" stroke-width="1.5"/>
<text x="2026.6" y="1283.8" font-size="17.5" fill="#ccccdc" text-anchor="middle">12:00</text>
<line x1="1311.90" y1="1125.10" x2="2157.00" y2="1125.10" stroke="#82bea8" stroke-width="2.2"/>
<circle cx="1383.5" cy="1125.1" r="1.8" fill="#F29191"/>
<circle cx="1452.2" cy="1125.1" r="1.8" fill="#705DA0"/>
<circle cx="1527" cy="1125.1" r="1.8" fill="#BA43A9"/>
<circle cx="1768.9" cy="1125.1" r="1.8" fill="#EAB839"/>
<circle cx="1873.3" cy="1125.1" r="1.8" fill="#1F78C1"/>
<circle cx="2020.1" cy="1125.1" r="1.8" fill="#1F78C1"/>
<circle cx="2105.8" cy="1125.1" r="1.8" fill="#F29191"/>
<text x="2420.6" y="1008.0" font-size="17.5" fill="#33a2e5" text-anchor="end" font-weight="bold">avg</text>
<rect x="2192.0" y="1035.6" width="21.0" height="6.0" fill="#7EB26D" rx="1.5"/>
<text x="2228.4" y="1043.9" font-size="18" fill="#ccccdc">04:78:63:3A:A1:89</text>
<text x="2432.9" y="1043.9" font-size="18" fill="#ccccdc" text-anchor="end">0</text>
<rect x="2188.8" y="1058.1" width="248.2" height="40.3" fill="#202329"/>
<rect x="2192.0" y="1075.9" width="21.0" height="6.0" fill="#EAB839" rx="1.5"/>
<text transform="translate(2228.4,1084.2) scale(0.957,1)" font-size="18" fill="#ccccdc">04:ED:33:05:1E:DC</text>
<text x="2432.9" y="1084.2" font-size="18" fill="#ccccdc" text-anchor="end">0</text>
<rect x="2192.0" y="1116.2" width="21.0" height="6.0" fill="#6ED0E0" rx="1.5"/>
<text transform="translate(2228.4,1124.5) scale(0.980,1)" font-size="18" fill="#ccccdc">0A:BB:22:D3:00:6B</text>
<text x="2432.9" y="1124.5" font-size="18" fill="#ccccdc" text-anchor="end">0</text>
<rect x="2188.8" y="1138.7" width="248.2" height="40.3" fill="#202329"/>
<rect x="2192.0" y="1156.5" width="21.0" height="6.0" fill="#EF843C" rx="1.5"/>
<text transform="translate(2228.4,1164.8) scale(0.960,1)" font-size="18" fill="#ccccdc">14:EB:B6:B2:E7:E2</text>
<text x="2432.9" y="1164.8" font-size="18" fill="#ccccdc" text-anchor="end">0</text>
<rect x="2192.0" y="1196.8" width="21.0" height="6.0" fill="#E24D42" rx="1.5"/>
<text transform="translate(2228.4,1205.1) scale(0.960,1)" font-size="18" fill="#ccccdc">14:EB:B6:B2:EA:21</text>
<text x="2432.9" y="1205.1" font-size="18" fill="#ccccdc" text-anchor="end">0</text>
<rect x="2188.8" y="1219.3" width="248.2" height="40.3" fill="#202329"/>
<rect x="2192.0" y="1237.1" width="21.0" height="6.0" fill="#1F78C1" rx="1.5"/>
<text transform="translate(2228.4,1245.4) scale(0.975,1)" font-size="18" fill="#ccccdc">16:86:E3:6A:7D:F1</text>
<text x="2432.9" y="1245.4" font-size="18" fill="#ccccdc" text-anchor="end">0</text>
<rect x="2192.0" y="1277.4" width="21.0" height="6.0" fill="#BA43A9" rx="1.5"/>
<text transform="translate(2228.4,1285.7) scale(0.979,1)" font-size="18" fill="#ccccdc">18:00:DB:07:D9:D3</text>
<text x="2432.9" y="1285.7" font-size="18" fill="#ccccdc" text-anchor="end">0</text>
</svg>
</body></html>
